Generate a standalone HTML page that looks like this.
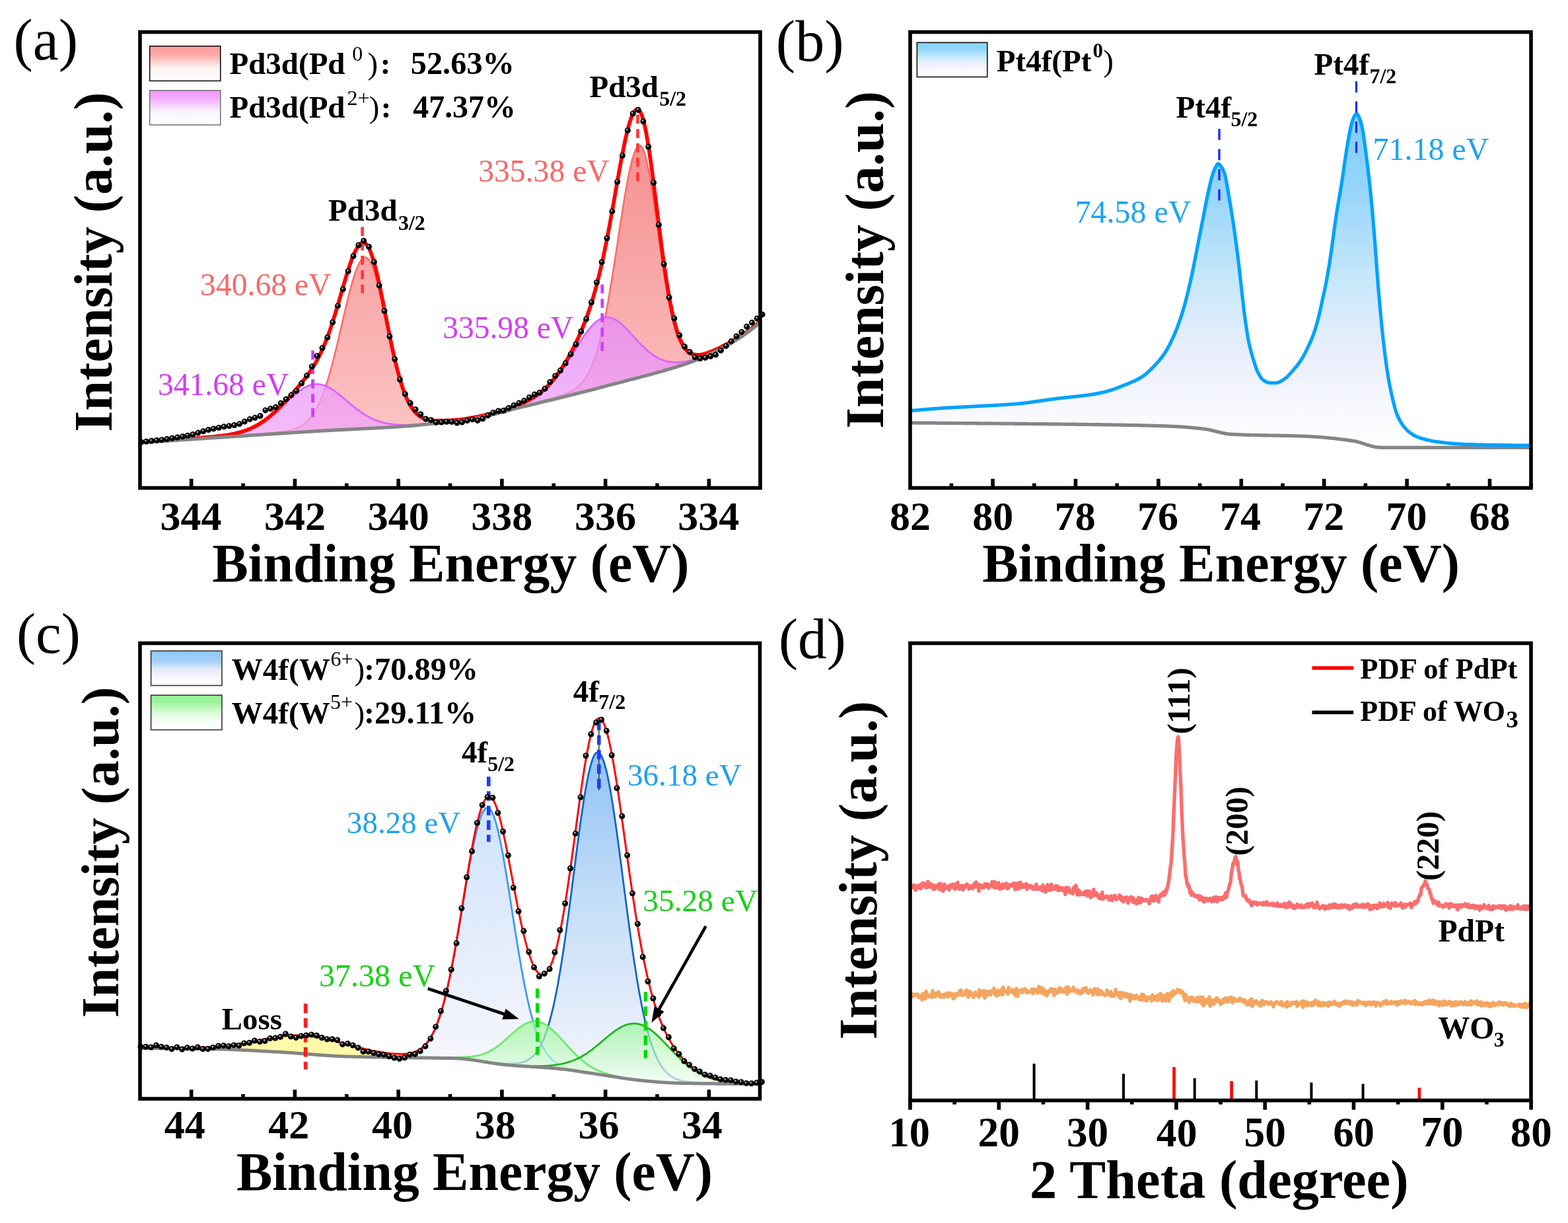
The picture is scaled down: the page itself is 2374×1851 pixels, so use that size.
<!DOCTYPE html>
<html><head><meta charset="utf-8"><title>XPS and XRD figure</title>
<style>html,body{margin:0;padding:0;background:#fff;}svg{display:block;}
text{font-family:"Liberation Serif","Times New Roman",serif;}</style></head>
<body><svg xmlns="http://www.w3.org/2000/svg" width="2374" height="1851" viewBox="0 0 2374 1851">
<defs>
<radialGradient id="dg" cx="0.5" cy="0.5" r="0.5" fx="0.36" fy="0.3"><stop offset="0" stop-color="#d8d8d8"/><stop offset="0.2" stop-color="#9a9a9a"/><stop offset="0.42" stop-color="#080808"/><stop offset="1" stop-color="#000"/></radialGradient>
<circle id="dot" cx="0" cy="0" r="4.5" fill="url(#dg)"/>
<linearGradient id="gPink" x1="0" y1="215" x2="0" y2="660" gradientUnits="userSpaceOnUse"><stop offset="0" stop-color="#f59090"/><stop offset="1" stop-color="#fcc4c4"/></linearGradient><linearGradient id="gPurp" x1="0" y1="470" x2="0" y2="660" gradientUnits="userSpaceOnUse"><stop offset="0" stop-color="#e58af5"/><stop offset="1" stop-color="#f0a8f8"/></linearGradient><linearGradient id="gLegPink" x1="0" y1="0" x2="0" y2="1"><stop offset="0" stop-color="#fb9a9a"/><stop offset="0.25" stop-color="#fda8a8"/><stop offset="0.62" stop-color="#fff3f3"/><stop offset="1" stop-color="#ffffff"/></linearGradient><linearGradient id="gLegPurp" x1="0" y1="0" x2="0" y2="1"><stop offset="0" stop-color="#f094fb"/><stop offset="0.25" stop-color="#f3aefc"/><stop offset="0.62" stop-color="#f8f5ff"/><stop offset="1" stop-color="#ffffff"/></linearGradient><linearGradient id="gBlueB" x1="0" y1="170" x2="0" y2="680" gradientUnits="userSpaceOnUse"><stop offset="0" stop-color="#7ccdf8"/><stop offset="0.25" stop-color="#99d6fa"/><stop offset="0.5" stop-color="#c8e8fb"/><stop offset="0.72" stop-color="#ebeefb"/><stop offset="0.86" stop-color="#f6f7fd"/><stop offset="1" stop-color="#ffffff"/></linearGradient><linearGradient id="gLegBlue" x1="0" y1="0" x2="0" y2="1"><stop offset="0" stop-color="#84d4fa"/><stop offset="0.22" stop-color="#95d8fa"/><stop offset="0.5" stop-color="#d6effb"/><stop offset="0.62" stop-color="#eceffb"/><stop offset="0.8" stop-color="#fafaff"/><stop offset="1" stop-color="#ffffff"/></linearGradient><linearGradient id="gB1" x1="0" y1="1220" x2="0" y2="1610" gradientUnits="userSpaceOnUse"><stop offset="0" stop-color="#cfe3fb"/><stop offset="1" stop-color="#f6f6fd"/></linearGradient><linearGradient id="gB2" x1="0" y1="1135" x2="0" y2="1630" gradientUnits="userSpaceOnUse"><stop offset="0" stop-color="#8ec2f5"/><stop offset="0.45" stop-color="#c3ddf8"/><stop offset="1" stop-color="#f4f5fd"/></linearGradient><linearGradient id="gG" x1="0" y1="1540" x2="0" y2="1640" gradientUnits="userSpaceOnUse"><stop offset="0" stop-color="#8ef58e"/><stop offset="1" stop-color="#f2fff2"/></linearGradient><linearGradient id="gLegW6" x1="0" y1="0" x2="0" y2="1"><stop offset="0" stop-color="#8ec6f8"/><stop offset="0.3" stop-color="#a6cff8"/><stop offset="0.5" stop-color="#dde9fb"/><stop offset="0.72" stop-color="#f6f4fd"/><stop offset="1" stop-color="#ffffff"/></linearGradient><linearGradient id="gLegW5" x1="0" y1="0" x2="0" y2="1"><stop offset="0" stop-color="#8ff58d"/><stop offset="0.22" stop-color="#a0f39e"/><stop offset="0.5" stop-color="#d8fcd6"/><stop offset="0.75" stop-color="#f6fff6"/><stop offset="1" stop-color="#ffffff"/></linearGradient>
</defs>
<rect width="2374" height="1851" fill="#fff"/>
<path d="M212,669.9L214,669.8L216,669.7L218,669.5L220,669.4L222,669.3L224,669.1L226,669.0L228,668.9L230,668.7L232,668.6L234,668.5L236,668.3L238,668.2L240,668.1L242,667.9L244,667.8L246,667.7L248,667.5L250,667.4L252,667.3L254,667.1L256,667.0L258,666.9L260,666.7L262,666.6L264,666.5L266,666.3L268,666.2L270,666.1L272,665.9L274,665.8L276,665.7L278,665.5L280,665.4L282,665.3L284,665.1L286,665.0L288,664.9L290,664.7L292,664.6L294,664.5L296,664.3L298,664.2L300,664.1L302,664.0L304,663.8L306,663.7L308,663.6L310,663.4L312,663.3L314,663.2L316,663.0L318,662.9L320,662.8L322,662.6L324,662.5L326,662.4L328,662.2L330,662.1L332,662.0L334,661.8L336,661.7L338,661.6L340,661.4L342,661.3L344,661.2L346,661.1L348,660.9L350,660.8L352,660.7L354,660.5L356,660.4L358,660.3L360,660.1L362,660.0L364,659.9L366,659.7L368,659.6L370,659.5L372,659.3L374,659.2L376,659.1L378,658.9L380,658.8L382,658.7L384,658.5L386,658.4L388,658.3L390,658.1L392,658.0L394,657.9L396,657.7L398,657.6L400,657.5L402,657.3L404,657.2L406,657.1L408,656.9L410,656.8L412,656.7L414,656.5L416,656.4L418,656.3L420,656.1L422,656.0L424,655.9L426,655.8L428,655.6L430,655.5L432,655.4L434,655.2L436,655.1L438,655.0L440,654.9L442,654.7L444,654.6L446,654.5L448,654.3L450,654.2L452,654.1L454,654.0L456,653.8L458,653.7L460,653.6L462,653.5L464,653.3L466,653.2L468,653.1L470,653.0L472,652.8L474,652.7L476,652.6L478,652.5L480,652.3L482,652.2L484,652.1L486,652.0L488,651.9L490,651.8L492,651.6L494,651.5L496,651.4L498,651.3L500,651.2L502,651.1L504,651.0L506,650.9L508,650.8L510,650.7L512,650.6L514,650.5L516,650.4L518,650.2L520,650.1L522,650.0L524,649.9L526,649.8L528,649.7L530,649.6L532,649.5L534,649.4L536,649.3L538,649.2L540,649.1L542,649.0L544,648.9L546,648.8L548,648.7L550,648.6L552,648.5L554,648.4L556,648.3L558,648.2L560,648.1L562,648.0L564,647.9L566,647.8L568,647.7L570,647.6L572,647.5L574,647.3L576,647.2L578,647.1L580,647.0L582,646.9L584,646.8L586,646.6L588,646.5L590,646.4L592,646.3L594,646.1L596,646.0L598,645.9L600,645.7L602,645.6L604,645.5L606,645.3L608,645.2L610,645.0L612,644.9L614,644.8L616,644.6L618,644.5L620,644.3L622,644.1L624,644.0L626,643.8L628,643.6L630,643.4L632,643.2L634,642.9L636,642.7L638,642.5L640,642.3L642,642.1L644,641.8L646,641.6L648,641.4L650,641.2L652,641.0L654,640.8L656,640.6L658,640.4L660,640.2L662,640.1L664,639.9L666,639.8L668,639.6L670,639.5L672,639.3L674,639.2L676,639.0L678,638.9L680,638.7L682,638.5L684,638.3L686,638.1L688,637.9L690,637.7L692,637.5L694,637.2L696,637.0L698,636.7L700,636.4L702,636.1L704,635.8L706,635.5L708,635.1L710,634.8L712,634.4L714,634.0L716,633.7L718,633.3L720,632.9L722,632.5L724,632.1L726,631.7L728,631.2L730,630.8L732,630.3L734,629.9L736,629.4L738,628.9L740,628.4L742,627.9L744,627.3L746,626.8L748,626.3L750,625.8L752,625.2L754,624.7L756,624.1L758,623.6L760,623.0L762,622.5L764,621.9L766,621.4L768,620.8L770,620.3L772,619.7L774,619.2L776,618.6L778,618.1L780,617.6L782,617.1L784,616.6L786,616.0L788,615.5L790,615.0L792,614.5L794,614.0L796,613.4L798,612.9L800,612.4L802,611.9L804,611.4L806,610.8L808,610.3L810,609.8L812,609.3L814,608.8L816,608.2L818,607.7L820,607.2L822,606.6L824,606.1L826,605.6L828,605.0L830,604.5L832,603.9L834,603.4L836,602.8L838,602.2L840,601.6L842,601.0L844,600.4L846,599.8L848,599.1L850,598.5L852,597.8L854,597.0L856,596.3L858,595.4L860,594.6L862,593.6L864,592.6L866,591.5L868,590.4L870,589.1L872,587.7L874,586.1L876,584.4L878,582.5L880,580.5L882,578.2L884,575.6L886,572.8L888,569.7L890,566.3L892,562.5L894,558.3L896,553.8L898,548.8L900,543.3L902,537.4L904,531.0L906,524.0L908,516.5L910,508.5L912,499.9L914,490.7L916,481.0L918,470.7L920,460.0L922,448.7L924,437.0L926,424.9L928,412.5L930,399.7L932,386.7L934,373.6L936,360.4L938,347.2L940,334.1L942,321.3L944,308.8L946,296.7L948,285.1L950,274.1L952,264.0L954,254.6L956,246.2L958,238.9L960,232.6L962,227.6L964,223.8L966,221.3L968,220.0L970,220.4L972,222.6L974,226.5L976,232.2L978,239.4L980,248.1L982,258.1L984,269.3L986,281.4L988,294.4L990,308.0L992,322.0L994,336.3L996,350.8L998,365.1L1000,379.3L1002,393.2L1004,406.7L1006,419.7L1008,432.0L1010,443.7L1012,454.7L1014,464.9L1016,474.4L1018,483.1L1020,491.0L1022,498.1L1024,504.5L1026,510.2L1028,515.3L1030,519.7L1032,523.5L1034,526.8L1036,529.5L1038,531.9L1040,533.8L1042,535.3L1044,536.6L1046,537.5L1048,538.2L1050,538.7L1052,538.9L1054,539.1L1056,539.0L1058,538.9L1060,538.6L1062,538.2L1064,537.7L1066,537.1L1068,536.5L1070,535.8L1072,535.0L1074,534.2L1076,533.4L1078,532.5L1080,531.7L1082,530.7L1084,529.8L1086,528.9L1088,527.9L1090,526.9L1092,526.0L1094,525.0L1096,523.9L1098,522.9L1100,521.8L1102,520.8L1104,519.7L1106,518.5L1108,517.4L1110,516.3L1112,515.1L1114,513.9L1116,512.7L1118,511.4L1120,510.1L1122,508.8L1124,507.5L1126,506.2L1128,504.8L1130,503.4L1132,502.0L1134,500.5L1136,499.0L1138,497.5L1140,496.0L1142,494.5L1144,492.9L1146,491.3L1148,489.7L1150,488.1L1150,488.8L1148,490.5L1146,492.1L1144,493.7L1142,495.3L1140,496.9L1138,498.4L1136,499.9L1134,501.4L1132,502.9L1130,504.4L1128,505.8L1126,507.2L1124,508.6L1122,509.9L1120,511.2L1118,512.5L1116,513.8L1114,515.1L1112,516.3L1110,517.5L1108,518.7L1106,519.9L1104,521.0L1102,522.2L1100,523.3L1098,524.4L1096,525.5L1094,526.5L1092,527.6L1090,528.6L1088,529.7L1086,530.7L1084,531.7L1082,532.7L1080,533.7L1078,534.7L1076,535.7L1074,536.7L1072,537.6L1070,538.6L1068,539.5L1066,540.4L1064,541.2L1062,542.1L1060,542.9L1058,543.7L1056,544.4L1054,545.2L1052,545.9L1050,546.6L1048,547.4L1046,548.1L1044,548.8L1042,549.5L1040,550.1L1038,550.8L1036,551.5L1034,552.2L1032,552.8L1030,553.5L1028,554.1L1026,554.7L1024,555.4L1022,556.0L1020,556.6L1018,557.2L1016,557.8L1014,558.4L1012,559.0L1010,559.6L1008,560.2L1006,560.8L1004,561.4L1002,561.9L1000,562.5L998,563.1L996,563.6L994,564.2L992,564.7L990,565.3L988,565.8L986,566.4L984,566.9L982,567.5L980,568.0L978,568.5L976,569.1L974,569.6L972,570.1L970,570.6L968,571.2L966,571.7L964,572.2L962,572.7L960,573.2L958,573.8L956,574.3L954,574.8L952,575.3L950,575.8L948,576.3L946,576.8L944,577.4L942,577.9L940,578.4L938,578.9L936,579.4L934,579.9L932,580.5L930,581.0L928,581.5L926,582.0L924,582.5L922,583.1L920,583.6L918,584.1L916,584.7L914,585.2L912,585.7L910,586.3L908,586.8L906,587.3L904,587.8L902,588.4L900,588.9L898,589.4L896,589.9L894,590.4L892,590.9L890,591.5L888,592.0L886,592.5L884,593.0L882,593.5L880,594.0L878,594.5L876,595.0L874,595.5L872,596.0L870,596.5L868,597.0L866,597.5L864,598.0L862,598.5L860,599.0L858,599.5L856,600.0L854,600.5L852,601.0L850,601.4L848,601.9L846,602.4L844,602.9L842,603.4L840,603.9L838,604.4L836,604.9L834,605.4L832,605.8L830,606.3L828,606.8L826,607.3L824,607.8L822,608.3L820,608.8L818,609.3L816,609.8L814,610.2L812,610.7L810,611.2L808,611.7L806,612.2L804,612.7L802,613.2L800,613.7L798,614.2L796,614.6L794,615.1L792,615.6L790,616.1L788,616.6L786,617.1L784,617.6L782,618.1L780,618.6L778,619.1L776,619.6L774,620.1L772,620.6L770,621.2L768,621.7L766,622.2L764,622.8L762,623.3L760,623.8L758,624.4L756,624.9L754,625.5L752,626.0L750,626.5L748,627.0L746,627.6L744,628.1L742,628.6L740,629.1L738,629.6L736,630.1L734,630.5L732,631.0L730,631.4L728,631.9L726,632.3L724,632.7L722,633.1L720,633.5L718,633.9L716,634.2L714,634.6L712,635.0L710,635.3L708,635.7L706,636.0L704,636.3L702,636.6L700,636.9L698,637.2L696,637.5L694,637.7L692,638.0L690,638.2L688,638.4L686,638.6L684,638.8L682,639.0L680,639.1L678,639.3L676,639.4L674,639.6L672,639.7L670,639.9L668,640.0L666,640.2L664,640.3L662,640.5L660,640.6L658,640.8L656,641.0L654,641.2L652,641.3L650,641.6L648,641.8L646,642.0L644,642.2L642,642.4L640,642.6L638,642.8L636,643.1L634,643.3L632,643.5L630,643.7L628,643.9L626,644.1L624,644.3L622,644.4L620,644.6L618,644.8L616,644.9L614,645.0L612,645.2L610,645.3L608,645.5L606,645.6L604,645.8L602,645.9L600,646.0L598,646.1L596,646.3L594,646.4L592,646.5L590,646.6L588,646.8L586,646.9L584,647.0L582,647.1L580,647.2L578,647.4L576,647.5L574,647.6L572,647.7L570,647.8L568,647.9L566,648.0L564,648.1L562,648.2L560,648.3L558,648.4L556,648.5L554,648.6L552,648.7L550,648.8L548,648.9L546,649.0L544,649.1L542,649.2L540,649.3L538,649.4L536,649.5L534,649.6L532,649.7L530,649.8L528,649.9L526,650.0L524,650.1L522,650.2L520,650.3L518,650.4L516,650.5L514,650.6L512,650.7L510,650.8L508,650.9L506,651.0L504,651.2L502,651.3L500,651.4L498,651.5L496,651.6L494,651.7L492,651.8L490,651.9L488,652.0L486,652.1L484,652.3L482,652.4L480,652.5L478,652.6L476,652.7L474,652.9L472,653.0L470,653.1L468,653.2L466,653.4L464,653.5L462,653.6L460,653.7L458,653.8L456,654.0L454,654.1L452,654.2L450,654.4L448,654.5L446,654.6L444,654.7L442,654.9L440,655.0L438,655.1L436,655.2L434,655.4L432,655.5L430,655.6L428,655.8L426,655.9L424,656.0L422,656.1L420,656.3L418,656.4L416,656.5L414,656.7L412,656.8L410,656.9L408,657.1L406,657.2L404,657.3L402,657.4L400,657.6L398,657.7L396,657.8L394,658.0L392,658.1L390,658.2L388,658.4L386,658.5L384,658.6L382,658.8L380,658.9L378,659.0L376,659.2L374,659.3L372,659.4L370,659.6L368,659.7L366,659.8L364,660.0L362,660.1L360,660.2L358,660.4L356,660.5L354,660.6L352,660.8L350,660.9L348,661.0L346,661.1L344,661.3L342,661.4L340,661.5L338,661.7L336,661.8L334,661.9L332,662.1L330,662.2L328,662.3L326,662.5L324,662.6L322,662.7L320,662.9L318,663.0L316,663.1L314,663.2L312,663.4L310,663.5L308,663.6L306,663.8L304,663.9L302,664.0L300,664.2L298,664.3L296,664.4L294,664.6L292,664.7L290,664.8L288,665.0L286,665.1L284,665.2L282,665.4L280,665.5L278,665.6L276,665.7L274,665.9L272,666.0L270,666.1L268,666.3L266,666.4L264,666.5L262,666.7L260,666.8L258,666.9L256,667.1L254,667.2L252,667.3L250,667.5L248,667.6L246,667.7L244,667.9L242,668.0L240,668.1L238,668.3L236,668.4L234,668.5L232,668.7L230,668.8L228,668.9L226,669.1L224,669.2L222,669.3L220,669.5L218,669.6L216,669.7L214,669.9L212,670.0 Z" fill="url(#gPink)" stroke="none" />
<path d="M212,669.7L214,669.6L216,669.4L218,669.3L220,669.2L222,669.0L224,668.9L226,668.8L228,668.6L230,668.5L232,668.4L234,668.2L236,668.1L238,667.9L240,667.8L242,667.7L244,667.5L246,667.4L248,667.3L250,667.1L252,667.0L254,666.8L256,666.7L258,666.6L260,666.4L262,666.3L264,666.2L266,666.0L268,665.9L270,665.7L272,665.6L274,665.5L276,665.3L278,665.2L280,665.1L282,664.9L284,664.8L286,664.6L288,664.5L290,664.4L292,664.2L294,664.1L296,663.9L298,663.8L300,663.7L302,663.5L304,663.4L306,663.3L308,663.1L310,663.0L312,662.8L314,662.7L316,662.6L318,662.4L320,662.3L322,662.1L324,662.0L326,661.8L328,661.7L330,661.6L332,661.4L334,661.3L336,661.1L338,661.0L340,660.8L342,660.7L344,660.6L346,660.4L348,660.3L350,660.1L352,660.0L354,659.8L356,659.7L358,659.5L360,659.4L362,659.2L364,659.1L366,658.9L368,658.8L370,658.6L372,658.5L374,658.3L376,658.2L378,658.0L380,657.9L382,657.7L384,657.6L386,657.4L388,657.2L390,657.1L392,656.9L394,656.7L396,656.6L398,656.4L400,656.2L402,656.1L404,655.9L406,655.7L408,655.5L410,655.4L412,655.2L414,655.0L416,654.8L418,654.5L420,654.3L422,654.1L424,653.8L426,653.6L428,653.3L430,653.0L432,652.6L434,652.3L436,651.9L438,651.4L440,650.9L442,650.4L444,649.8L446,649.1L448,648.4L450,647.6L452,646.7L454,645.6L456,644.5L458,643.2L460,641.8L462,640.3L464,638.5L466,636.6L468,634.5L470,632.2L472,629.6L474,626.8L476,623.7L478,620.3L480,616.7L482,612.7L484,608.5L486,603.9L488,598.9L490,593.7L492,588.0L494,582.1L496,575.8L498,569.2L500,562.2L502,555.0L504,547.5L506,539.7L508,531.6L510,523.4L512,515.0L514,506.4L516,497.8L518,489.1L520,480.4L522,471.8L524,463.3L526,455.0L528,447.0L530,439.2L532,431.8L534,424.8L536,418.3L538,412.4L540,407.0L542,402.3L544,398.2L546,394.9L548,392.4L550,390.6L552,389.7L554,389.6L556,390.5L558,392.5L560,395.4L562,399.3L564,404.1L566,409.8L568,416.2L570,423.3L572,431.1L574,439.3L576,448.0L578,457.1L580,466.4L582,475.9L584,485.4L586,495.0L588,504.6L590,513.9L592,523.2L594,532.1L596,540.8L598,549.1L600,557.1L602,564.6L604,571.8L606,578.5L608,584.8L610,590.6L612,596.0L614,601.0L616,605.6L618,609.7L620,613.4L622,616.8L624,619.8L626,622.5L628,624.9L630,627.0L632,628.8L634,630.3L636,631.7L638,632.9L640,633.8L642,634.7L644,635.4L646,635.9L648,636.4L650,636.8L652,637.1L654,637.3L656,637.5L658,637.6L660,637.8L662,637.8L664,637.9L666,637.9L668,637.9L670,637.9L672,637.9L674,637.8L676,637.7L678,637.7L680,637.6L682,637.5L684,637.4L686,637.2L688,637.1L690,636.9L692,636.7L694,636.5L696,636.3L698,636.1L700,635.8L702,635.5L704,635.2L706,634.9L708,634.6L710,634.3L712,634.0L714,633.7L716,633.3L718,633.0L720,632.6L722,632.3L724,631.9L726,631.5L728,631.1L730,630.7L732,630.2L734,629.8L736,629.3L738,628.8L740,628.4L742,627.9L744,627.4L746,626.9L748,626.4L750,625.9L752,625.4L754,624.8L756,624.3L758,623.8L760,623.3L762,622.7L764,622.2L766,621.7L768,621.2L770,620.6L772,620.1L774,619.6L776,619.1L778,618.6L780,618.1L782,617.6L784,617.1L786,616.6L788,616.2L790,615.7L792,615.2L794,614.7L796,614.2L798,613.7L800,613.3L802,612.8L804,612.3L806,611.8L808,611.3L810,610.8L812,610.4L814,609.9L816,609.4L818,608.9L820,608.4L822,607.9L824,607.5L826,607.0L828,606.5L830,606.0L832,605.5L834,605.0L836,604.6L838,604.1L840,603.6L842,603.1L844,602.6L846,602.1L848,601.6L850,601.2L852,600.7L854,600.2L856,599.7L858,599.2L860,598.7L862,598.2L864,597.7L866,597.2L868,596.7L870,596.2L872,595.8L874,595.3L876,594.8L878,594.3L880,593.8L882,593.3L884,592.7L886,592.2L888,591.7L890,591.2L892,590.7L894,590.2L896,589.7L898,589.2L900,588.7L902,588.2L904,587.6L906,587.1L908,586.6L910,586.1L912,585.5L914,585.0L916,584.5L918,583.9L920,583.4L922,582.9L924,582.4L926,581.8L928,581.3L930,580.8L932,580.3L934,579.8L936,579.2L938,578.7L940,578.2L942,577.7L944,577.2L946,576.7L948,576.2L950,575.6L952,575.1L954,574.6L956,574.1L958,573.6L960,573.1L962,572.6L964,572.1L966,571.5L968,571.0L970,570.5L972,570.0L974,569.4L976,568.9L978,568.4L980,567.9L982,567.3L984,566.8L986,566.3L988,565.7L990,565.2L992,564.6L994,564.1L996,563.5L998,562.9L1000,562.4L1002,561.8L1004,561.2L1006,560.7L1008,560.1L1010,559.5L1012,558.9L1014,558.3L1016,557.7L1018,557.1L1020,556.5L1022,555.9L1024,555.3L1026,554.6L1028,554.0L1030,553.3L1032,552.7L1034,552.0L1036,551.4L1038,550.7L1040,550.0L1042,549.3L1044,548.7L1046,548.0L1048,547.2L1050,546.5L1052,545.8L1054,545.1L1056,544.3L1058,543.6L1060,542.8L1062,542.0L1064,541.1L1066,540.3L1068,539.4L1070,538.5L1072,537.5L1074,536.6L1076,535.6L1078,534.6L1080,533.6L1082,532.6L1084,531.6L1086,530.6L1088,529.6L1090,528.6L1092,527.5L1094,526.5L1096,525.4L1098,524.3L1100,523.2L1102,522.1L1104,520.9L1106,519.8L1108,518.6L1110,517.4L1112,516.2L1114,515.0L1116,513.7L1118,512.5L1120,511.2L1122,509.8L1124,508.5L1126,507.1L1128,505.7L1130,504.3L1132,502.8L1134,501.4L1136,499.9L1138,498.3L1140,496.8L1142,495.2L1144,493.7L1146,492.0L1148,490.4L1150,488.8L1150,488.8L1148,490.5L1146,492.1L1144,493.7L1142,495.3L1140,496.9L1138,498.4L1136,499.9L1134,501.4L1132,502.9L1130,504.4L1128,505.8L1126,507.2L1124,508.6L1122,509.9L1120,511.2L1118,512.5L1116,513.8L1114,515.1L1112,516.3L1110,517.5L1108,518.7L1106,519.9L1104,521.0L1102,522.2L1100,523.3L1098,524.4L1096,525.5L1094,526.5L1092,527.6L1090,528.6L1088,529.7L1086,530.7L1084,531.7L1082,532.7L1080,533.7L1078,534.7L1076,535.7L1074,536.7L1072,537.6L1070,538.6L1068,539.5L1066,540.4L1064,541.2L1062,542.1L1060,542.9L1058,543.7L1056,544.4L1054,545.2L1052,545.9L1050,546.6L1048,547.4L1046,548.1L1044,548.8L1042,549.5L1040,550.1L1038,550.8L1036,551.5L1034,552.2L1032,552.8L1030,553.5L1028,554.1L1026,554.7L1024,555.4L1022,556.0L1020,556.6L1018,557.2L1016,557.8L1014,558.4L1012,559.0L1010,559.6L1008,560.2L1006,560.8L1004,561.4L1002,561.9L1000,562.5L998,563.1L996,563.6L994,564.2L992,564.7L990,565.3L988,565.8L986,566.4L984,566.9L982,567.5L980,568.0L978,568.5L976,569.1L974,569.6L972,570.1L970,570.6L968,571.2L966,571.7L964,572.2L962,572.7L960,573.2L958,573.8L956,574.3L954,574.8L952,575.3L950,575.8L948,576.3L946,576.8L944,577.4L942,577.9L940,578.4L938,578.9L936,579.4L934,579.9L932,580.5L930,581.0L928,581.5L926,582.0L924,582.5L922,583.1L920,583.6L918,584.1L916,584.7L914,585.2L912,585.7L910,586.3L908,586.8L906,587.3L904,587.8L902,588.4L900,588.9L898,589.4L896,589.9L894,590.4L892,590.9L890,591.5L888,592.0L886,592.5L884,593.0L882,593.5L880,594.0L878,594.5L876,595.0L874,595.5L872,596.0L870,596.5L868,597.0L866,597.5L864,598.0L862,598.5L860,599.0L858,599.5L856,600.0L854,600.5L852,601.0L850,601.4L848,601.9L846,602.4L844,602.9L842,603.4L840,603.9L838,604.4L836,604.9L834,605.4L832,605.8L830,606.3L828,606.8L826,607.3L824,607.8L822,608.3L820,608.8L818,609.3L816,609.8L814,610.2L812,610.7L810,611.2L808,611.7L806,612.2L804,612.7L802,613.2L800,613.7L798,614.2L796,614.6L794,615.1L792,615.6L790,616.1L788,616.6L786,617.1L784,617.6L782,618.1L780,618.6L778,619.1L776,619.6L774,620.1L772,620.6L770,621.2L768,621.7L766,622.2L764,622.8L762,623.3L760,623.8L758,624.4L756,624.9L754,625.5L752,626.0L750,626.5L748,627.0L746,627.6L744,628.1L742,628.6L740,629.1L738,629.6L736,630.1L734,630.5L732,631.0L730,631.4L728,631.9L726,632.3L724,632.7L722,633.1L720,633.5L718,633.9L716,634.2L714,634.6L712,635.0L710,635.3L708,635.7L706,636.0L704,636.3L702,636.6L700,636.9L698,637.2L696,637.5L694,637.7L692,638.0L690,638.2L688,638.4L686,638.6L684,638.8L682,639.0L680,639.1L678,639.3L676,639.4L674,639.6L672,639.7L670,639.9L668,640.0L666,640.2L664,640.3L662,640.5L660,640.6L658,640.8L656,641.0L654,641.2L652,641.3L650,641.6L648,641.8L646,642.0L644,642.2L642,642.4L640,642.6L638,642.8L636,643.1L634,643.3L632,643.5L630,643.7L628,643.9L626,644.1L624,644.3L622,644.4L620,644.6L618,644.8L616,644.9L614,645.0L612,645.2L610,645.3L608,645.5L606,645.6L604,645.8L602,645.9L600,646.0L598,646.1L596,646.3L594,646.4L592,646.5L590,646.6L588,646.8L586,646.9L584,647.0L582,647.1L580,647.2L578,647.4L576,647.5L574,647.6L572,647.7L570,647.8L568,647.9L566,648.0L564,648.1L562,648.2L560,648.3L558,648.4L556,648.5L554,648.6L552,648.7L550,648.8L548,648.9L546,649.0L544,649.1L542,649.2L540,649.3L538,649.4L536,649.5L534,649.6L532,649.7L530,649.8L528,649.9L526,650.0L524,650.1L522,650.2L520,650.3L518,650.4L516,650.5L514,650.6L512,650.7L510,650.8L508,650.9L506,651.0L504,651.2L502,651.3L500,651.4L498,651.5L496,651.6L494,651.7L492,651.8L490,651.9L488,652.0L486,652.1L484,652.3L482,652.4L480,652.5L478,652.6L476,652.7L474,652.9L472,653.0L470,653.1L468,653.2L466,653.4L464,653.5L462,653.6L460,653.7L458,653.8L456,654.0L454,654.1L452,654.2L450,654.4L448,654.5L446,654.6L444,654.7L442,654.9L440,655.0L438,655.1L436,655.2L434,655.4L432,655.5L430,655.6L428,655.8L426,655.9L424,656.0L422,656.1L420,656.3L418,656.4L416,656.5L414,656.7L412,656.8L410,656.9L408,657.1L406,657.2L404,657.3L402,657.4L400,657.6L398,657.7L396,657.8L394,658.0L392,658.1L390,658.2L388,658.4L386,658.5L384,658.6L382,658.8L380,658.9L378,659.0L376,659.2L374,659.3L372,659.4L370,659.6L368,659.7L366,659.8L364,660.0L362,660.1L360,660.2L358,660.4L356,660.5L354,660.6L352,660.8L350,660.9L348,661.0L346,661.1L344,661.3L342,661.4L340,661.5L338,661.7L336,661.8L334,661.9L332,662.1L330,662.2L328,662.3L326,662.5L324,662.6L322,662.7L320,662.9L318,663.0L316,663.1L314,663.2L312,663.4L310,663.5L308,663.6L306,663.8L304,663.9L302,664.0L300,664.2L298,664.3L296,664.4L294,664.6L292,664.7L290,664.8L288,665.0L286,665.1L284,665.2L282,665.4L280,665.5L278,665.6L276,665.7L274,665.9L272,666.0L270,666.1L268,666.3L266,666.4L264,666.5L262,666.7L260,666.8L258,666.9L256,667.1L254,667.2L252,667.3L250,667.5L248,667.6L246,667.7L244,667.9L242,668.0L240,668.1L238,668.3L236,668.4L234,668.5L232,668.7L230,668.8L228,668.9L226,669.1L224,669.2L222,669.3L220,669.5L218,669.6L216,669.7L214,669.9L212,670.0 Z" fill="url(#gPink)" stroke="none" />
<path d="M618,644.5L620,644.3L622,644.1L624,644.0L626,643.8L628,643.6L630,643.4L632,643.2L634,642.9L636,642.7L638,642.5L640,642.3L642,642.1L644,641.8L646,641.6L648,641.4L650,641.2L652,641.0L654,640.8L656,640.6L658,640.4L660,640.2L662,640.1L664,639.9L666,639.8L668,639.6L670,639.5L672,639.3L674,639.2L676,639.0L678,638.9L680,638.7L682,638.5L684,638.3L686,638.1L688,637.9L690,637.7L692,637.5L694,637.2L696,637.0L698,636.7L700,636.4L702,636.1L704,635.8L706,635.5L708,635.1L710,634.8L712,634.4L714,634.0L716,633.7L718,633.3L720,632.9L722,632.5L724,632.1L726,631.7L728,631.2L730,630.8L732,630.3L734,629.9L736,629.4L738,628.9L740,628.4L742,627.9L744,627.3L746,626.8L748,626.3L750,625.8L752,625.2L754,624.7L756,624.1L758,623.6L760,623.0L762,622.5L764,621.9L766,621.4L768,620.8L770,620.3L772,619.7L774,619.2L776,618.6L778,618.1L780,617.6L782,617.1L784,616.6L786,616.0L788,615.5L790,615.0L792,614.5L794,614.0L796,613.4L798,612.9L800,612.4L802,611.9L804,611.4L806,610.8L808,610.3L810,609.8L812,609.3L814,608.8L816,608.2L818,607.7L820,607.2L822,606.6L824,606.1L826,605.6L828,605.0L830,604.5L832,603.9L834,603.4L836,602.8L838,602.2L840,601.6L842,601.0L844,600.4L846,599.8L848,599.1L850,598.5L852,597.8L854,597.0L856,596.3L858,595.4L860,594.6L862,593.6L864,592.6L866,591.5L868,590.4L870,589.1L872,587.7L874,586.1L876,584.4L878,582.5L880,580.5L882,578.2L884,575.6L886,572.8L888,569.7L890,566.3L892,562.5L894,558.3L896,553.8L898,548.8L900,543.3L902,537.4L904,531.0L906,524.0L908,516.5L910,508.5L912,499.9L914,490.7L916,481.0L918,470.7L920,460.0L922,448.7L924,437.0L926,424.9L928,412.5L930,399.7L932,386.7L934,373.6L936,360.4L938,347.2L940,334.1L942,321.3L944,308.8L946,296.7L948,285.1L950,274.1L952,264.0L954,254.6L956,246.2L958,238.9L960,232.6L962,227.6L964,223.8L966,221.3L968,220.0L970,220.4L972,222.6L974,226.5L976,232.2L978,239.4L980,248.1L982,258.1L984,269.3L986,281.4L988,294.4L990,308.0L992,322.0L994,336.3L996,350.8L998,365.1L1000,379.3L1002,393.2L1004,406.7L1006,419.7L1008,432.0L1010,443.7L1012,454.7L1014,464.9L1016,474.4L1018,483.1L1020,491.0L1022,498.1L1024,504.5L1026,510.2L1028,515.3L1030,519.7L1032,523.5L1034,526.8L1036,529.5L1038,531.9L1040,533.8L1042,535.3L1044,536.6L1046,537.5L1048,538.2L1050,538.7L1052,538.9L1054,539.1L1056,539.0L1058,538.9L1060,538.6L1062,538.2L1064,537.7L1066,537.1L1068,536.5L1070,535.8L1072,535.0L1074,534.2L1076,533.4L1078,532.5L1080,531.7L1082,530.7L1084,529.8L1086,528.9L1088,527.9L1090,526.9L1092,526.0L1094,525.0L1096,523.9L1098,522.9L1100,521.8L1102,520.8L1104,519.7L1106,518.5L1108,517.4L1110,516.3L1112,515.1L1114,513.9L1116,512.7L1118,511.4L1120,510.1L1122,508.8L1124,507.5L1126,506.2L1128,504.8L1130,503.4L1132,502.0L1134,500.5L1136,499.0L1138,497.5L1140,496.0L1142,494.5L1144,492.9L1146,491.3L1148,489.7L1150,488.1" fill="none" stroke="#ff6c6c" stroke-width="2.6" stroke-linejoin="round" stroke-linecap="butt" />
<path d="M226,668.8L228,668.6L230,668.5L232,668.4L234,668.2L236,668.1L238,667.9L240,667.8L242,667.7L244,667.5L246,667.4L248,667.3L250,667.1L252,667.0L254,666.8L256,666.7L258,666.6L260,666.4L262,666.3L264,666.2L266,666.0L268,665.9L270,665.7L272,665.6L274,665.5L276,665.3L278,665.2L280,665.1L282,664.9L284,664.8L286,664.6L288,664.5L290,664.4L292,664.2L294,664.1L296,663.9L298,663.8L300,663.7L302,663.5L304,663.4L306,663.3L308,663.1L310,663.0L312,662.8L314,662.7L316,662.6L318,662.4L320,662.3L322,662.1L324,662.0L326,661.8L328,661.7L330,661.6L332,661.4L334,661.3L336,661.1L338,661.0L340,660.8L342,660.7L344,660.6L346,660.4L348,660.3L350,660.1L352,660.0L354,659.8L356,659.7L358,659.5L360,659.4L362,659.2L364,659.1L366,658.9L368,658.8L370,658.6L372,658.5L374,658.3L376,658.2L378,658.0L380,657.9L382,657.7L384,657.6L386,657.4L388,657.2L390,657.1L392,656.9L394,656.7L396,656.6L398,656.4L400,656.2L402,656.1L404,655.9L406,655.7L408,655.5L410,655.4L412,655.2L414,655.0L416,654.8L418,654.5L420,654.3L422,654.1L424,653.8L426,653.6L428,653.3L430,653.0L432,652.6L434,652.3L436,651.9L438,651.4L440,650.9L442,650.4L444,649.8L446,649.1L448,648.4L450,647.6L452,646.7L454,645.6L456,644.5L458,643.2L460,641.8L462,640.3L464,638.5L466,636.6L468,634.5L470,632.2L472,629.6L474,626.8L476,623.7L478,620.3L480,616.7L482,612.7L484,608.5L486,603.9L488,598.9L490,593.7L492,588.0L494,582.1L496,575.8L498,569.2L500,562.2L502,555.0L504,547.5L506,539.7L508,531.6L510,523.4L512,515.0L514,506.4L516,497.8L518,489.1L520,480.4L522,471.8L524,463.3L526,455.0L528,447.0L530,439.2L532,431.8L534,424.8L536,418.3L538,412.4L540,407.0L542,402.3L544,398.2L546,394.9L548,392.4L550,390.6L552,389.7L554,389.6L556,390.5L558,392.5L560,395.4L562,399.3L564,404.1L566,409.8L568,416.2L570,423.3L572,431.1L574,439.3L576,448.0L578,457.1L580,466.4L582,475.9L584,485.4L586,495.0L588,504.6L590,513.9L592,523.2L594,532.1L596,540.8L598,549.1L600,557.1L602,564.6L604,571.8L606,578.5L608,584.8L610,590.6L612,596.0L614,601.0L616,605.6L618,609.7L620,613.4L622,616.8L624,619.8L626,622.5L628,624.9L630,627.0L632,628.8L634,630.3L636,631.7L638,632.9L640,633.8L642,634.7L644,635.4L646,635.9L648,636.4L650,636.8L652,637.1L654,637.3L656,637.5L658,637.6L660,637.8L662,637.8L664,637.9L666,637.9L668,637.9L670,637.9L672,637.9L674,637.8L676,637.7L678,637.7L680,637.6L682,637.5L684,637.4L686,637.2L688,637.1L690,636.9L692,636.7L694,636.5L696,636.3L698,636.1L700,635.8L702,635.5L704,635.2L706,634.9L708,634.6L710,634.3L712,634.0L714,633.7L716,633.3L718,633.0L720,632.6L722,632.3L724,631.9L726,631.5L728,631.1L730,630.7L732,630.2L734,629.8L736,629.3L738,628.8L740,628.4L742,627.9L744,627.4L746,626.9L748,626.4L750,625.9L752,625.4L754,624.8L756,624.3L758,623.8L760,623.3L762,622.7L764,622.2L766,621.7L768,621.2L770,620.6L772,620.1L774,619.6L776,619.1L778,618.6L780,618.1L782,617.6L784,617.1L786,616.6L788,616.2L790,615.7L792,615.2L794,614.7L796,614.2L798,613.7L800,613.3L802,612.8L804,612.3L806,611.8L808,611.3L810,610.8L812,610.4L814,609.9L816,609.4L818,608.9L820,608.4L822,607.9L824,607.5L826,607.0L828,606.5L830,606.0L832,605.5L834,605.0L836,604.6L838,604.1L840,603.6L842,603.1" fill="none" stroke="#ff6c6c" stroke-width="2.6" stroke-linejoin="round" stroke-linecap="butt" />
<path d="M212,670.0L214,669.8L216,669.7L218,669.6L220,669.4L222,669.3L224,669.2L226,669.0L228,668.9L230,668.8L232,668.6L234,668.5L236,668.4L238,668.2L240,668.1L242,668.0L244,667.8L246,667.7L248,667.6L250,667.4L252,667.3L254,667.2L256,667.0L258,666.9L260,666.8L262,666.6L264,666.5L266,666.4L268,666.2L270,666.1L272,666.0L274,665.8L276,665.7L278,665.6L280,665.4L282,665.3L284,665.2L286,665.0L288,664.9L290,664.8L292,664.6L294,664.5L296,664.4L298,664.2L300,664.1L302,664.0L304,663.8L306,663.7L308,663.6L310,663.5L312,663.3L314,663.2L316,663.1L318,662.9L320,662.8L322,662.7L324,662.5L326,662.4L328,662.3L330,662.1L332,662.0L334,661.9L336,661.7L338,661.6L340,661.5L342,661.3L344,661.2L346,661.1L348,661.0L350,660.8L352,660.7L354,660.6L356,660.4L358,660.3L360,660.2L362,660.0L364,659.9L366,659.8L368,659.6L370,659.5L372,659.4L374,659.2L376,659.1L378,659.0L380,658.8L382,658.7L384,658.6L386,658.4L388,658.3L390,658.2L392,658.0L394,657.9L396,657.8L398,657.6L400,657.5L402,657.4L404,657.2L406,657.1L408,657.0L410,656.8L412,656.7L414,656.6L416,656.4L418,656.3L420,656.2L422,656.1L424,655.9L426,655.8L428,655.7L430,655.5L432,655.4L434,655.3L436,655.1L438,655.0L440,654.9L442,654.8L444,654.6L446,654.5L448,654.4L450,654.3L452,654.1L454,654.0L456,653.9L458,653.7L460,653.6L462,653.5L464,653.4L466,653.2L468,653.1L470,653.0L472,652.9L474,652.8L476,652.6L478,652.5L480,652.4L482,652.3L484,652.1L486,652.0L488,651.9L490,651.8L492,651.7L494,651.6L496,651.5L498,651.4L500,651.2L502,651.1L504,651.0L506,650.9L508,650.8L510,650.7L512,650.6L514,650.5L516,650.4L518,650.3L520,650.2L522,650.1L524,650.0L526,649.9L528,649.8L530,649.7L532,649.6L534,649.5L536,649.4L538,649.3L540,649.2L542,649.1L544,649.0L546,648.9L548,648.8L550,648.7L552,648.6L554,648.5L556,648.4L558,648.3L560,648.2L562,648.1L564,647.9L566,647.8L568,647.7L570,647.6L572,647.5L574,647.4L576,647.3L578,647.2L580,647.1L582,646.9L584,646.8L586,646.7L588,646.6L590,646.4L592,646.3L594,646.2L596,646.1L598,645.9L600,645.8L602,645.7L604,645.5L606,645.4L608,645.3L610,645.1L612,645.0L614,644.8L616,644.7L618,644.5L620,644.4L622,644.2L624,644.0L626,643.8L628,643.6L630,643.4L632,643.2L634,643.0L636,642.8L638,642.6L640,642.3L642,642.1L644,641.9L646,641.7L648,641.5L650,641.3L652,641.0L654,640.9L656,640.7L658,640.5L660,640.3L662,640.2L664,640.0L666,639.8L668,639.7L670,639.5L672,639.4L674,639.2L676,639.1L678,638.9L680,638.8L682,638.6L684,638.4L686,638.2L688,638.0L690,637.8L692,637.6L694,637.3L696,637.0L698,636.8L700,636.5L702,636.2L704,635.8L706,635.5L708,635.2L710,634.8L712,634.5L714,634.1L716,633.7L718,633.3L720,633.0L722,632.6L724,632.1L726,631.7L728,631.3L730,630.8L732,630.4L734,629.9L736,629.4L738,628.9L740,628.4L742,627.8L744,627.3L746,626.7L748,626.2L750,625.6L752,625.0L754,624.5L756,623.9L758,623.3L760,622.7L762,622.1L764,621.4L766,620.8L768,620.2L770,619.5L772,618.9L774,618.2L776,617.5L778,616.9L780,616.2L782,615.4L784,614.7L786,614.0L788,613.2L790,612.4L792,611.5L794,610.6L796,609.7L798,608.8L800,607.8L802,606.7L804,605.6L806,604.5L808,603.3L810,602.1L812,600.7L814,599.4L816,597.9L818,596.4L820,594.8L822,593.2L824,591.4L826,589.6L828,587.7L830,585.8L832,583.7L834,581.6L836,579.3L838,577.0L840,574.6L842,572.1L844,569.6L846,566.9L848,564.2L850,561.4L852,558.5L854,555.6L856,552.6L858,549.6L860,546.5L862,543.3L864,540.2L866,537.0L868,533.8L870,530.6L872,527.4L874,524.2L876,521.0L878,517.9L880,514.8L882,511.8L884,508.9L886,506.0L888,503.2L890,500.6L892,498.1L894,495.7L896,493.4L898,491.3L900,489.4L902,487.6L904,486.0L906,484.6L908,483.4L910,482.3L912,481.5L914,480.9L916,480.4L918,480.2L920,480.2L922,480.4L924,480.7L926,481.3L928,482.0L930,482.9L932,484.0L934,485.2L936,486.6L938,488.1L940,489.8L942,491.5L944,493.3L946,495.3L948,497.2L950,499.3L952,501.4L954,503.6L956,505.7L958,507.9L960,510.1L962,512.3L964,514.5L966,516.6L968,518.7L970,520.8L972,522.9L974,524.8L976,526.7L978,528.6L980,530.3L982,532.0L984,533.7L986,535.2L988,536.6L990,538.0L992,539.3L994,540.5L996,541.6L998,542.6L1000,543.5L1002,544.3L1004,545.1L1006,545.7L1008,546.3L1010,546.8L1012,547.3L1014,547.6L1016,547.9L1018,548.1L1020,548.2L1022,548.3L1024,548.4L1026,548.3L1028,548.2L1030,548.1L1032,547.9L1034,547.7L1036,547.4L1038,547.1L1040,546.7L1042,546.3L1044,545.9L1046,545.4L1048,544.9L1050,544.4L1052,543.8L1054,543.3L1056,542.7L1058,542.0L1060,541.4L1062,540.7L1064,539.9L1066,539.1L1068,538.3L1070,537.5L1072,536.6L1074,535.7L1076,534.8L1078,533.8L1080,532.9L1082,531.9L1084,530.9L1086,529.9L1088,528.9L1090,527.9L1092,526.9L1094,525.9L1096,524.8L1098,523.8L1100,522.7L1102,521.6L1104,520.5L1106,519.3L1108,518.2L1110,517.0L1112,515.8L1114,514.6L1116,513.3L1118,512.1L1120,510.8L1122,509.5L1124,508.1L1126,506.7L1128,505.3L1130,503.9L1132,502.5L1134,501.0L1136,499.5L1138,498.0L1140,496.5L1142,494.9L1144,493.3L1146,491.7L1148,490.1L1150,488.5L1150,488.8L1148,490.5L1146,492.1L1144,493.7L1142,495.3L1140,496.9L1138,498.4L1136,499.9L1134,501.4L1132,502.9L1130,504.4L1128,505.8L1126,507.2L1124,508.6L1122,509.9L1120,511.2L1118,512.5L1116,513.8L1114,515.1L1112,516.3L1110,517.5L1108,518.7L1106,519.9L1104,521.0L1102,522.2L1100,523.3L1098,524.4L1096,525.5L1094,526.5L1092,527.6L1090,528.6L1088,529.7L1086,530.7L1084,531.7L1082,532.7L1080,533.7L1078,534.7L1076,535.7L1074,536.7L1072,537.6L1070,538.6L1068,539.5L1066,540.4L1064,541.2L1062,542.1L1060,542.9L1058,543.7L1056,544.4L1054,545.2L1052,545.9L1050,546.6L1048,547.4L1046,548.1L1044,548.8L1042,549.5L1040,550.1L1038,550.8L1036,551.5L1034,552.2L1032,552.8L1030,553.5L1028,554.1L1026,554.7L1024,555.4L1022,556.0L1020,556.6L1018,557.2L1016,557.8L1014,558.4L1012,559.0L1010,559.6L1008,560.2L1006,560.8L1004,561.4L1002,561.9L1000,562.5L998,563.1L996,563.6L994,564.2L992,564.7L990,565.3L988,565.8L986,566.4L984,566.9L982,567.5L980,568.0L978,568.5L976,569.1L974,569.6L972,570.1L970,570.6L968,571.2L966,571.7L964,572.2L962,572.7L960,573.2L958,573.8L956,574.3L954,574.8L952,575.3L950,575.8L948,576.3L946,576.8L944,577.4L942,577.9L940,578.4L938,578.9L936,579.4L934,579.9L932,580.5L930,581.0L928,581.5L926,582.0L924,582.5L922,583.1L920,583.6L918,584.1L916,584.7L914,585.2L912,585.7L910,586.3L908,586.8L906,587.3L904,587.8L902,588.4L900,588.9L898,589.4L896,589.9L894,590.4L892,590.9L890,591.5L888,592.0L886,592.5L884,593.0L882,593.5L880,594.0L878,594.5L876,595.0L874,595.5L872,596.0L870,596.5L868,597.0L866,597.5L864,598.0L862,598.5L860,599.0L858,599.5L856,600.0L854,600.5L852,601.0L850,601.4L848,601.9L846,602.4L844,602.9L842,603.4L840,603.9L838,604.4L836,604.9L834,605.4L832,605.8L830,606.3L828,606.8L826,607.3L824,607.8L822,608.3L820,608.8L818,609.3L816,609.8L814,610.2L812,610.7L810,611.2L808,611.7L806,612.2L804,612.7L802,613.2L800,613.7L798,614.2L796,614.6L794,615.1L792,615.6L790,616.1L788,616.6L786,617.1L784,617.6L782,618.1L780,618.6L778,619.1L776,619.6L774,620.1L772,620.6L770,621.2L768,621.7L766,622.2L764,622.8L762,623.3L760,623.8L758,624.4L756,624.9L754,625.5L752,626.0L750,626.5L748,627.0L746,627.6L744,628.1L742,628.6L740,629.1L738,629.6L736,630.1L734,630.5L732,631.0L730,631.4L728,631.9L726,632.3L724,632.7L722,633.1L720,633.5L718,633.9L716,634.2L714,634.6L712,635.0L710,635.3L708,635.7L706,636.0L704,636.3L702,636.6L700,636.9L698,637.2L696,637.5L694,637.7L692,638.0L690,638.2L688,638.4L686,638.6L684,638.8L682,639.0L680,639.1L678,639.3L676,639.4L674,639.6L672,639.7L670,639.9L668,640.0L666,640.2L664,640.3L662,640.5L660,640.6L658,640.8L656,641.0L654,641.2L652,641.3L650,641.6L648,641.8L646,642.0L644,642.2L642,642.4L640,642.6L638,642.8L636,643.1L634,643.3L632,643.5L630,643.7L628,643.9L626,644.1L624,644.3L622,644.4L620,644.6L618,644.8L616,644.9L614,645.0L612,645.2L610,645.3L608,645.5L606,645.6L604,645.8L602,645.9L600,646.0L598,646.1L596,646.3L594,646.4L592,646.5L590,646.6L588,646.8L586,646.9L584,647.0L582,647.1L580,647.2L578,647.4L576,647.5L574,647.6L572,647.7L570,647.8L568,647.9L566,648.0L564,648.1L562,648.2L560,648.3L558,648.4L556,648.5L554,648.6L552,648.7L550,648.8L548,648.9L546,649.0L544,649.1L542,649.2L540,649.3L538,649.4L536,649.5L534,649.6L532,649.7L530,649.8L528,649.9L526,650.0L524,650.1L522,650.2L520,650.3L518,650.4L516,650.5L514,650.6L512,650.7L510,650.8L508,650.9L506,651.0L504,651.2L502,651.3L500,651.4L498,651.5L496,651.6L494,651.7L492,651.8L490,651.9L488,652.0L486,652.1L484,652.3L482,652.4L480,652.5L478,652.6L476,652.7L474,652.9L472,653.0L470,653.1L468,653.2L466,653.4L464,653.5L462,653.6L460,653.7L458,653.8L456,654.0L454,654.1L452,654.2L450,654.4L448,654.5L446,654.6L444,654.7L442,654.9L440,655.0L438,655.1L436,655.2L434,655.4L432,655.5L430,655.6L428,655.8L426,655.9L424,656.0L422,656.1L420,656.3L418,656.4L416,656.5L414,656.7L412,656.8L410,656.9L408,657.1L406,657.2L404,657.3L402,657.4L400,657.6L398,657.7L396,657.8L394,658.0L392,658.1L390,658.2L388,658.4L386,658.5L384,658.6L382,658.8L380,658.9L378,659.0L376,659.2L374,659.3L372,659.4L370,659.6L368,659.7L366,659.8L364,660.0L362,660.1L360,660.2L358,660.4L356,660.5L354,660.6L352,660.8L350,660.9L348,661.0L346,661.1L344,661.3L342,661.4L340,661.5L338,661.7L336,661.8L334,661.9L332,662.1L330,662.2L328,662.3L326,662.5L324,662.6L322,662.7L320,662.9L318,663.0L316,663.1L314,663.2L312,663.4L310,663.5L308,663.6L306,663.8L304,663.9L302,664.0L300,664.2L298,664.3L296,664.4L294,664.6L292,664.7L290,664.8L288,665.0L286,665.1L284,665.2L282,665.4L280,665.5L278,665.6L276,665.7L274,665.9L272,666.0L270,666.1L268,666.3L266,666.4L264,666.5L262,666.7L260,666.8L258,666.9L256,667.1L254,667.2L252,667.3L250,667.5L248,667.6L246,667.7L244,667.9L242,668.0L240,668.1L238,668.3L236,668.4L234,668.5L232,668.7L230,668.8L228,668.9L226,669.1L224,669.2L222,669.3L220,669.5L218,669.6L216,669.7L214,669.9L212,670.0 Z" fill="url(#gPurp)" stroke="none" fill-opacity="0.78"/>
<path d="M212,669.8L214,669.7L216,669.5L218,669.4L220,669.2L222,669.1L224,669.0L226,668.8L228,668.7L230,668.6L232,668.4L234,668.3L236,668.1L238,668.0L240,667.9L242,667.7L244,667.6L246,667.5L248,667.3L250,667.2L252,667.0L254,666.9L256,666.8L258,666.6L260,666.5L262,666.4L264,666.2L266,666.1L268,665.9L270,665.8L272,665.7L274,665.5L276,665.4L278,665.2L280,665.1L282,665.0L284,664.8L286,664.7L288,664.5L290,664.4L292,664.2L294,664.1L296,664.0L298,663.8L300,663.7L302,663.5L304,663.3L306,663.2L308,663.0L310,662.9L312,662.7L314,662.5L316,662.4L318,662.2L320,662.0L322,661.8L324,661.6L326,661.4L328,661.2L330,661.0L332,660.8L334,660.6L336,660.3L338,660.1L340,659.8L342,659.5L344,659.2L346,658.9L348,658.6L350,658.2L352,657.9L354,657.5L356,657.1L358,656.6L360,656.2L362,655.7L364,655.1L366,654.6L368,654.0L370,653.3L372,652.7L374,651.9L376,651.2L378,650.4L380,649.5L382,648.6L384,647.7L386,646.7L388,645.7L390,644.6L392,643.4L394,642.2L396,641.0L398,639.7L400,638.3L402,636.9L404,635.4L406,633.9L408,632.3L410,630.7L412,629.0L414,627.3L416,625.6L418,623.8L420,621.9L422,620.1L424,618.2L426,616.3L428,614.4L430,612.5L432,610.6L434,608.7L436,606.8L438,604.9L440,603.0L442,601.2L444,599.4L446,597.6L448,595.9L450,594.3L452,592.7L454,591.2L456,589.8L458,588.5L460,587.3L462,586.1L464,585.1L466,584.2L468,583.4L470,582.7L472,582.2L474,581.8L476,581.5L478,581.3L480,581.3L482,581.4L484,581.6L486,582.0L488,582.5L490,583.1L492,583.8L494,584.6L496,585.5L498,586.6L500,587.7L502,588.9L504,590.2L506,591.5L508,593.0L510,594.5L512,596.0L514,597.6L516,599.2L518,600.8L520,602.5L522,604.2L524,605.9L526,607.6L528,609.3L530,610.9L532,612.6L534,614.2L536,615.9L538,617.4L540,619.0L542,620.5L544,621.9L546,623.4L548,624.7L550,626.1L552,627.3L554,628.6L556,629.7L558,630.8L560,631.9L562,632.9L564,633.8L566,634.7L568,635.6L570,636.3L572,637.1L574,637.8L576,638.4L578,639.0L580,639.5L582,640.0L584,640.4L586,640.9L588,641.2L590,641.6L592,641.8L594,642.1L596,642.3L598,642.5L600,642.7L602,642.8L604,643.0L606,643.1L608,643.1L610,643.2L612,643.2L614,643.2L616,643.2L618,643.2L620,643.2L622,643.1L624,643.0L626,642.9L628,642.8L630,642.7L632,642.6L634,642.4L636,642.2L638,642.1L640,641.9L642,641.7L644,641.5L646,641.3L648,641.2L650,641.0L652,640.8L654,640.6L656,640.5L658,640.3L660,640.2L662,640.0L664,639.9L666,639.7L668,639.6L670,639.5L672,639.3L674,639.2L676,639.1L678,638.9L680,638.8L682,638.6L684,638.4L686,638.3L688,638.1L690,637.9L692,637.7L694,637.4L696,637.2L698,636.9L700,636.6L702,636.3L704,636.0L706,635.7L708,635.4L710,635.0L712,634.7L714,634.3L716,634.0L718,633.6L720,633.2L722,632.9L724,632.5L726,632.1L728,631.6L730,631.2L732,630.8L734,630.3L736,629.8L738,629.3L740,628.9L742,628.4L744,627.9L746,627.3L748,626.8L750,626.3L752,625.8L754,625.3L756,624.7L758,624.2L760,623.7L762,623.1L764,622.6L766,622.1L768,621.5L770,621.0L772,620.5L774,620.0L776,619.4L778,618.9L780,618.4L782,617.9L784,617.4L786,617.0L788,616.5L790,616.0L792,615.5L794,615.0L796,614.5L798,614.0L800,613.5L802,613.0L804,612.5L806,612.1L808,611.6L810,611.1L812,610.6L814,610.1L816,609.6L818,609.1L820,608.6L822,608.2L824,607.7L826,607.2L828,606.7L830,606.2L832,605.7L834,605.2L836,604.8L838,604.3L840,603.8L842,603.3L844,602.8L846,602.3L848,601.8L850,601.3L852,600.8L854,600.4L856,599.9L858,599.4L860,598.9L862,598.4L864,597.9L866,597.4L868,596.9L870,596.4L872,595.9L874,595.4L876,594.9L878,594.4L880,593.9L882,593.4L884,592.9L886,592.4L888,591.9L890,591.4L892,590.9L894,590.3L896,589.8L898,589.3L900,588.8L902,588.3L904,587.8L906,587.2L908,586.7L910,586.2L912,585.7L914,585.1L916,584.6L918,584.1L920,583.5L922,583.0L924,582.5L926,581.9L928,581.4L930,580.9L932,580.4L934,579.9L936,579.3L938,578.8L940,578.3L942,577.8L944,577.3L946,576.8L948,576.3L950,575.7L952,575.2L954,574.7L956,574.2L958,573.7L960,573.2L962,572.7L964,572.1L966,571.6L968,571.1L970,570.6L972,570.1L974,569.5L976,569.0L978,568.5L980,567.9L982,567.4L984,566.9L986,566.3L988,565.8L990,565.2L992,564.7L994,564.1L996,563.6L998,563.0L1000,562.5L1002,561.9L1004,561.3L1006,560.7L1008,560.2L1010,559.6L1012,559.0L1014,558.4L1016,557.8L1018,557.2L1020,556.6L1022,555.9L1024,555.3L1026,554.7L1028,554.0L1030,553.4L1032,552.8L1034,552.1L1036,551.4L1038,550.8L1040,550.1L1042,549.4L1044,548.7L1046,548.0L1048,547.3L1050,546.6L1052,545.9L1054,545.1L1056,544.4L1058,543.6L1060,542.8L1062,542.0L1064,541.2L1066,540.3L1068,539.4L1070,538.5L1072,537.6L1074,536.6L1076,535.7L1078,534.7L1080,533.7L1082,532.7L1084,531.7L1086,530.7L1088,529.6L1090,528.6L1092,527.6L1094,526.5L1096,525.4L1098,524.3L1100,523.2L1102,522.1L1104,521.0L1106,519.8L1108,518.7L1110,517.5L1112,516.3L1114,515.0L1116,513.8L1118,512.5L1120,511.2L1122,509.9L1124,508.5L1126,507.2L1128,505.8L1130,504.3L1132,502.9L1134,501.4L1136,499.9L1138,498.4L1140,496.8L1142,495.3L1144,493.7L1146,492.1L1148,490.4L1150,488.8L1150,488.8L1148,490.5L1146,492.1L1144,493.7L1142,495.3L1140,496.9L1138,498.4L1136,499.9L1134,501.4L1132,502.9L1130,504.4L1128,505.8L1126,507.2L1124,508.6L1122,509.9L1120,511.2L1118,512.5L1116,513.8L1114,515.1L1112,516.3L1110,517.5L1108,518.7L1106,519.9L1104,521.0L1102,522.2L1100,523.3L1098,524.4L1096,525.5L1094,526.5L1092,527.6L1090,528.6L1088,529.7L1086,530.7L1084,531.7L1082,532.7L1080,533.7L1078,534.7L1076,535.7L1074,536.7L1072,537.6L1070,538.6L1068,539.5L1066,540.4L1064,541.2L1062,542.1L1060,542.9L1058,543.7L1056,544.4L1054,545.2L1052,545.9L1050,546.6L1048,547.4L1046,548.1L1044,548.8L1042,549.5L1040,550.1L1038,550.8L1036,551.5L1034,552.2L1032,552.8L1030,553.5L1028,554.1L1026,554.7L1024,555.4L1022,556.0L1020,556.6L1018,557.2L1016,557.8L1014,558.4L1012,559.0L1010,559.6L1008,560.2L1006,560.8L1004,561.4L1002,561.9L1000,562.5L998,563.1L996,563.6L994,564.2L992,564.7L990,565.3L988,565.8L986,566.4L984,566.9L982,567.5L980,568.0L978,568.5L976,569.1L974,569.6L972,570.1L970,570.6L968,571.2L966,571.7L964,572.2L962,572.7L960,573.2L958,573.8L956,574.3L954,574.8L952,575.3L950,575.8L948,576.3L946,576.8L944,577.4L942,577.9L940,578.4L938,578.9L936,579.4L934,579.9L932,580.5L930,581.0L928,581.5L926,582.0L924,582.5L922,583.1L920,583.6L918,584.1L916,584.7L914,585.2L912,585.7L910,586.3L908,586.8L906,587.3L904,587.8L902,588.4L900,588.9L898,589.4L896,589.9L894,590.4L892,590.9L890,591.5L888,592.0L886,592.5L884,593.0L882,593.5L880,594.0L878,594.5L876,595.0L874,595.5L872,596.0L870,596.5L868,597.0L866,597.5L864,598.0L862,598.5L860,599.0L858,599.5L856,600.0L854,600.5L852,601.0L850,601.4L848,601.9L846,602.4L844,602.9L842,603.4L840,603.9L838,604.4L836,604.9L834,605.4L832,605.8L830,606.3L828,606.8L826,607.3L824,607.8L822,608.3L820,608.8L818,609.3L816,609.8L814,610.2L812,610.7L810,611.2L808,611.7L806,612.2L804,612.7L802,613.2L800,613.7L798,614.2L796,614.6L794,615.1L792,615.6L790,616.1L788,616.6L786,617.1L784,617.6L782,618.1L780,618.6L778,619.1L776,619.6L774,620.1L772,620.6L770,621.2L768,621.7L766,622.2L764,622.8L762,623.3L760,623.8L758,624.4L756,624.9L754,625.5L752,626.0L750,626.5L748,627.0L746,627.6L744,628.1L742,628.6L740,629.1L738,629.6L736,630.1L734,630.5L732,631.0L730,631.4L728,631.9L726,632.3L724,632.7L722,633.1L720,633.5L718,633.9L716,634.2L714,634.6L712,635.0L710,635.3L708,635.7L706,636.0L704,636.3L702,636.6L700,636.9L698,637.2L696,637.5L694,637.7L692,638.0L690,638.2L688,638.4L686,638.6L684,638.8L682,639.0L680,639.1L678,639.3L676,639.4L674,639.6L672,639.7L670,639.9L668,640.0L666,640.2L664,640.3L662,640.5L660,640.6L658,640.8L656,641.0L654,641.2L652,641.3L650,641.6L648,641.8L646,642.0L644,642.2L642,642.4L640,642.6L638,642.8L636,643.1L634,643.3L632,643.5L630,643.7L628,643.9L626,644.1L624,644.3L622,644.4L620,644.6L618,644.8L616,644.9L614,645.0L612,645.2L610,645.3L608,645.5L606,645.6L604,645.8L602,645.9L600,646.0L598,646.1L596,646.3L594,646.4L592,646.5L590,646.6L588,646.8L586,646.9L584,647.0L582,647.1L580,647.2L578,647.4L576,647.5L574,647.6L572,647.7L570,647.8L568,647.9L566,648.0L564,648.1L562,648.2L560,648.3L558,648.4L556,648.5L554,648.6L552,648.7L550,648.8L548,648.9L546,649.0L544,649.1L542,649.2L540,649.3L538,649.4L536,649.5L534,649.6L532,649.7L530,649.8L528,649.9L526,650.0L524,650.1L522,650.2L520,650.3L518,650.4L516,650.5L514,650.6L512,650.7L510,650.8L508,650.9L506,651.0L504,651.2L502,651.3L500,651.4L498,651.5L496,651.6L494,651.7L492,651.8L490,651.9L488,652.0L486,652.1L484,652.3L482,652.4L480,652.5L478,652.6L476,652.7L474,652.9L472,653.0L470,653.1L468,653.2L466,653.4L464,653.5L462,653.6L460,653.7L458,653.8L456,654.0L454,654.1L452,654.2L450,654.4L448,654.5L446,654.6L444,654.7L442,654.9L440,655.0L438,655.1L436,655.2L434,655.4L432,655.5L430,655.6L428,655.8L426,655.9L424,656.0L422,656.1L420,656.3L418,656.4L416,656.5L414,656.7L412,656.8L410,656.9L408,657.1L406,657.2L404,657.3L402,657.4L400,657.6L398,657.7L396,657.8L394,658.0L392,658.1L390,658.2L388,658.4L386,658.5L384,658.6L382,658.8L380,658.9L378,659.0L376,659.2L374,659.3L372,659.4L370,659.6L368,659.7L366,659.8L364,660.0L362,660.1L360,660.2L358,660.4L356,660.5L354,660.6L352,660.8L350,660.9L348,661.0L346,661.1L344,661.3L342,661.4L340,661.5L338,661.7L336,661.8L334,661.9L332,662.1L330,662.2L328,662.3L326,662.5L324,662.6L322,662.7L320,662.9L318,663.0L316,663.1L314,663.2L312,663.4L310,663.5L308,663.6L306,663.8L304,663.9L302,664.0L300,664.2L298,664.3L296,664.4L294,664.6L292,664.7L290,664.8L288,665.0L286,665.1L284,665.2L282,665.4L280,665.5L278,665.6L276,665.7L274,665.9L272,666.0L270,666.1L268,666.3L266,666.4L264,666.5L262,666.7L260,666.8L258,666.9L256,667.1L254,667.2L252,667.3L250,667.5L248,667.6L246,667.7L244,667.9L242,668.0L240,668.1L238,668.3L236,668.4L234,668.5L232,668.7L230,668.8L228,668.9L226,669.1L224,669.2L222,669.3L220,669.5L218,669.6L216,669.7L214,669.9L212,670.0 Z" fill="url(#gPurp)" stroke="none" fill-opacity="0.78"/>
<path d="M652,641.0L654,640.9L656,640.7L658,640.5L660,640.3L662,640.2L664,640.0L666,639.8L668,639.7L670,639.5L672,639.4L674,639.2L676,639.1L678,638.9L680,638.8L682,638.6L684,638.4L686,638.2L688,638.0L690,637.8L692,637.6L694,637.3L696,637.0L698,636.8L700,636.5L702,636.2L704,635.8L706,635.5L708,635.2L710,634.8L712,634.5L714,634.1L716,633.7L718,633.3L720,633.0L722,632.6L724,632.1L726,631.7L728,631.3L730,630.8L732,630.4L734,629.9L736,629.4L738,628.9L740,628.4L742,627.8L744,627.3L746,626.7L748,626.2L750,625.6L752,625.0L754,624.5L756,623.9L758,623.3L760,622.7L762,622.1L764,621.4L766,620.8L768,620.2L770,619.5L772,618.9L774,618.2L776,617.5L778,616.9L780,616.2L782,615.4L784,614.7L786,614.0L788,613.2L790,612.4L792,611.5L794,610.6L796,609.7L798,608.8L800,607.8L802,606.7L804,605.6L806,604.5L808,603.3L810,602.1L812,600.7L814,599.4L816,597.9L818,596.4L820,594.8L822,593.2L824,591.4L826,589.6L828,587.7L830,585.8L832,583.7L834,581.6L836,579.3L838,577.0L840,574.6L842,572.1L844,569.6L846,566.9L848,564.2L850,561.4L852,558.5L854,555.6L856,552.6L858,549.6L860,546.5L862,543.3L864,540.2L866,537.0L868,533.8L870,530.6L872,527.4L874,524.2L876,521.0L878,517.9L880,514.8L882,511.8L884,508.9L886,506.0L888,503.2L890,500.6L892,498.1L894,495.7L896,493.4L898,491.3L900,489.4L902,487.6L904,486.0L906,484.6L908,483.4L910,482.3L912,481.5L914,480.9L916,480.4L918,480.2L920,480.2L922,480.4L924,480.7L926,481.3L928,482.0L930,482.9L932,484.0L934,485.2L936,486.6L938,488.1L940,489.8L942,491.5L944,493.3L946,495.3L948,497.2L950,499.3L952,501.4L954,503.6L956,505.7L958,507.9L960,510.1L962,512.3L964,514.5L966,516.6L968,518.7L970,520.8L972,522.9L974,524.8L976,526.7L978,528.6L980,530.3L982,532.0L984,533.7L986,535.2L988,536.6L990,538.0L992,539.3L994,540.5L996,541.6L998,542.6L1000,543.5L1002,544.3L1004,545.1L1006,545.7L1008,546.3L1010,546.8L1012,547.3L1014,547.6L1016,547.9L1018,548.1L1020,548.2L1022,548.3L1024,548.4L1026,548.3L1028,548.2L1030,548.1L1032,547.9L1034,547.7L1036,547.4L1038,547.1L1040,546.7L1042,546.3L1044,545.9L1046,545.4L1048,544.9L1050,544.4L1052,543.8L1054,543.3L1056,542.7L1058,542.0L1060,541.4L1062,540.7L1064,539.9L1066,539.1L1068,538.3L1070,537.5L1072,536.6L1074,535.7L1076,534.8L1078,533.8L1080,532.9L1082,531.9L1084,530.9L1086,529.9L1088,528.9L1090,527.9L1092,526.9L1094,525.9L1096,524.8L1098,523.8L1100,522.7L1102,521.6L1104,520.5L1106,519.3L1108,518.2L1110,517.0L1112,515.8L1114,514.6L1116,513.3L1118,512.1L1120,510.8L1122,509.5L1124,508.1L1126,506.7L1128,505.3L1130,503.9L1132,502.5L1134,501.0L1136,499.5L1138,498.0L1140,496.5L1142,494.9L1144,493.3L1146,491.7L1148,490.1L1150,488.5" fill="none" stroke="#dc64ff" stroke-width="2.8" stroke-linejoin="round" stroke-linecap="butt" />
<path d="M256,666.8L258,666.6L260,666.5L262,666.4L264,666.2L266,666.1L268,665.9L270,665.8L272,665.7L274,665.5L276,665.4L278,665.2L280,665.1L282,665.0L284,664.8L286,664.7L288,664.5L290,664.4L292,664.2L294,664.1L296,664.0L298,663.8L300,663.7L302,663.5L304,663.3L306,663.2L308,663.0L310,662.9L312,662.7L314,662.5L316,662.4L318,662.2L320,662.0L322,661.8L324,661.6L326,661.4L328,661.2L330,661.0L332,660.8L334,660.6L336,660.3L338,660.1L340,659.8L342,659.5L344,659.2L346,658.9L348,658.6L350,658.2L352,657.9L354,657.5L356,657.1L358,656.6L360,656.2L362,655.7L364,655.1L366,654.6L368,654.0L370,653.3L372,652.7L374,651.9L376,651.2L378,650.4L380,649.5L382,648.6L384,647.7L386,646.7L388,645.7L390,644.6L392,643.4L394,642.2L396,641.0L398,639.7L400,638.3L402,636.9L404,635.4L406,633.9L408,632.3L410,630.7L412,629.0L414,627.3L416,625.6L418,623.8L420,621.9L422,620.1L424,618.2L426,616.3L428,614.4L430,612.5L432,610.6L434,608.7L436,606.8L438,604.9L440,603.0L442,601.2L444,599.4L446,597.6L448,595.9L450,594.3L452,592.7L454,591.2L456,589.8L458,588.5L460,587.3L462,586.1L464,585.1L466,584.2L468,583.4L470,582.7L472,582.2L474,581.8L476,581.5L478,581.3L480,581.3L482,581.4L484,581.6L486,582.0L488,582.5L490,583.1L492,583.8L494,584.6L496,585.5L498,586.6L500,587.7L502,588.9L504,590.2L506,591.5L508,593.0L510,594.5L512,596.0L514,597.6L516,599.2L518,600.8L520,602.5L522,604.2L524,605.9L526,607.6L528,609.3L530,610.9L532,612.6L534,614.2L536,615.9L538,617.4L540,619.0L542,620.5L544,621.9L546,623.4L548,624.7L550,626.1L552,627.3L554,628.6L556,629.7L558,630.8L560,631.9L562,632.9L564,633.8L566,634.7L568,635.6L570,636.3L572,637.1L574,637.8L576,638.4L578,639.0L580,639.5L582,640.0L584,640.4L586,640.9L588,641.2L590,641.6L592,641.8L594,642.1L596,642.3L598,642.5L600,642.7L602,642.8L604,643.0L606,643.1L608,643.1L610,643.2L612,643.2L614,643.2L616,643.2L618,643.2L620,643.2L622,643.1L624,643.0L626,642.9L628,642.8L630,642.7L632,642.6L634,642.4L636,642.2L638,642.1L640,641.9L642,641.7L644,641.5L646,641.3L648,641.2L650,641.0L652,640.8L654,640.6L656,640.5L658,640.3L660,640.2L662,640.0L664,639.9L666,639.7L668,639.6L670,639.5L672,639.3L674,639.2L676,639.1L678,638.9L680,638.8L682,638.6L684,638.4L686,638.3L688,638.1L690,637.9L692,637.7L694,637.4L696,637.2L698,636.9" fill="none" stroke="#dc64ff" stroke-width="2.8" stroke-linejoin="round" stroke-linecap="butt" />
<path d="M212,669.4L214,669.3L216,669.1L218,669.0L220,668.8L222,668.7L224,668.6L226,668.4L228,668.3L230,668.1L232,668.0L234,667.9L236,667.7L238,667.6L240,667.4L242,667.3L244,667.1L246,667.0L248,666.9L250,666.7L252,666.6L254,666.4L256,666.3L258,666.1L260,666.0L262,665.9L264,665.7L266,665.6L268,665.4L270,665.3L272,665.1L274,665.0L276,664.8L278,664.7L280,664.5L282,664.4L284,664.2L286,664.1L288,663.9L290,663.8L292,663.6L294,663.5L296,663.3L298,663.2L300,663.0L302,662.9L304,662.7L306,662.5L308,662.4L310,662.2L312,662.0L314,661.8L316,661.7L318,661.5L320,661.3L322,661.1L324,660.9L326,660.7L328,660.5L330,660.2L332,660.0L334,659.8L336,659.5L338,659.2L340,659.0L342,658.7L344,658.4L346,658.0L348,657.7L350,657.3L352,656.9L354,656.5L356,656.1L358,655.6L360,655.1L362,654.6L364,654.1L366,653.5L368,652.9L370,652.2L372,651.5L374,650.8L376,650.0L378,649.2L380,648.3L382,647.4L384,646.4L386,645.4L388,644.3L390,643.2L392,642.0L394,640.8L396,639.5L398,638.2L400,636.8L402,635.3L404,633.8L406,632.2L408,630.6L410,628.9L412,627.2L414,625.4L416,623.6L418,621.7L420,619.8L422,617.8L424,615.8L426,613.8L428,611.7L430,609.6L432,607.5L434,605.3L436,603.1L438,600.9L440,598.7L442,596.5L444,594.2L446,591.9L448,589.6L450,587.3L452,584.9L454,582.5L456,580.1L458,577.6L460,575.1L462,572.6L464,569.9L466,567.2L468,564.4L470,561.5L472,558.5L474,555.4L476,552.2L478,548.8L480,545.2L482,541.5L484,537.5L486,533.4L488,529.1L490,524.5L492,519.7L494,514.7L496,509.5L498,504.0L500,498.3L502,492.3L504,486.2L506,479.9L508,473.3L510,466.7L512,459.9L514,453.0L516,446.1L518,439.2L520,432.3L522,425.5L524,418.8L526,412.2L528,406.0L530,400.0L532,394.3L534,389.1L536,384.3L538,380.0L540,376.3L542,373.2L544,370.7L546,368.9L548,367.8L550,367.5L552,367.9L554,369.1L556,371.3L558,374.5L560,378.6L562,383.6L564,389.4L566,396.1L568,403.4L570,411.5L572,420.0L574,429.1L576,438.5L578,448.3L580,458.2L582,468.3L584,478.4L586,488.5L588,498.5L590,508.4L592,518.0L594,527.4L596,536.4L598,545.0L600,553.3L602,561.1L604,568.5L606,575.5L608,581.9L610,588.0L612,593.5L614,598.7L616,603.3L618,607.6L620,611.5L622,614.9L624,618.0L626,620.8L628,623.2L630,625.4L632,627.3L634,628.9L636,630.3L638,631.5L640,632.5L642,633.3L644,634.1L646,634.7L648,635.1L650,635.5L652,635.9L654,636.1L656,636.3L658,636.5L660,636.6L662,636.7L664,636.7L666,636.7L668,636.7L670,636.7L672,636.7L674,636.6L676,636.6L678,636.5L680,636.4L682,636.3L684,636.2L686,636.0L688,635.9L690,635.7L692,635.5L694,635.3L696,635.1L698,634.8L700,634.5L702,634.3L704,634.0L706,633.7L708,633.3L710,633.0L712,632.7L714,632.3L716,632.0L718,631.6L720,631.2L722,630.9L724,630.5L726,630.0L728,629.6L730,629.2L732,628.7L734,628.2L736,627.7L738,627.2L740,626.7L742,626.2L744,625.7L746,625.1L748,624.6L750,624.0L752,623.4L754,622.9L756,622.3L758,621.7L760,621.1L762,620.5L764,619.8L766,619.2L768,618.6L770,617.9L772,617.2L774,616.6L776,615.9L778,615.2L780,614.5L782,613.8L784,613.0L786,612.3L788,611.5L790,610.6L792,609.8L794,608.9L796,607.9L798,607.0L800,606.0L802,604.9L804,603.8L806,602.6L808,601.4L810,600.1L812,598.8L814,597.4L816,595.9L818,594.4L820,592.7L822,591.1L824,589.3L826,587.4L828,585.5L830,583.4L832,581.3L834,579.1L836,576.8L838,574.4L840,571.9L842,569.3L844,566.7L846,563.9L848,561.0L850,558.0L852,554.9L854,551.8L856,548.5L858,545.1L860,541.7L862,538.1L864,534.4L866,530.7L868,526.8L870,522.8L872,518.7L874,514.5L876,510.1L878,505.6L880,501.0L882,496.2L884,491.2L886,486.0L888,480.7L890,475.1L892,469.3L894,463.3L896,457.0L898,450.4L900,443.5L902,436.3L904,428.8L906,421.0L908,412.8L910,404.2L912,395.3L914,386.1L916,376.5L918,366.6L920,356.3L922,345.8L924,335.0L926,324.0L928,312.8L930,301.4L932,290.1L934,278.7L936,267.4L938,256.2L940,245.3L942,234.7L944,224.5L946,214.8L948,205.8L950,197.4L952,189.8L954,183.2L956,177.5L958,172.8L960,169.3L962,167.0L964,165.8L966,166.0L968,167.4L970,170.4L972,175.1L974,181.5L976,189.6L978,199.2L980,210.3L982,222.5L984,235.8L986,250.1L988,265.0L990,280.5L992,296.4L994,312.4L996,328.5L998,344.4L1000,360.1L1002,375.4L1004,390.2L1006,404.4L1008,418.0L1010,430.8L1012,442.8L1014,453.9L1016,464.3L1018,473.8L1020,482.4L1022,490.3L1024,497.3L1026,503.6L1028,509.2L1030,514.1L1032,518.4L1034,522.1L1036,525.3L1038,527.9L1040,530.2L1042,532.0L1044,533.5L1046,534.7L1048,535.6L1050,536.3L1052,536.7L1054,537.0L1056,537.1L1058,537.1L1060,536.9L1062,536.6L1064,536.2L1066,535.7L1068,535.2L1070,534.5L1072,533.9L1074,533.1L1076,532.3L1078,531.5L1080,530.7L1082,529.8L1084,528.9L1086,528.0L1088,527.1L1090,526.1L1092,525.2L1094,524.2L1096,523.2L1098,522.2L1100,521.1L1102,520.0L1104,519.0L1106,517.9L1108,516.7L1110,515.6L1112,514.4L1114,513.2L1116,512.0L1118,510.8L1120,509.5L1122,508.3L1124,506.9L1126,505.6L1128,504.2L1130,502.8L1132,501.4L1134,500.0L1136,498.5L1138,497.0L1140,495.5L1142,494.0L1144,492.4L1146,490.8L1148,489.2L1150,487.6" fill="none" stroke="#ff0000" stroke-width="5.8" stroke-linejoin="round" stroke-linecap="butt" />
<path d="M212,670.0L214,669.9L216,669.7L218,669.6L220,669.5L222,669.3L224,669.2L226,669.1L228,668.9L230,668.8L232,668.7L234,668.5L236,668.4L238,668.3L240,668.1L242,668.0L244,667.9L246,667.7L248,667.6L250,667.5L252,667.3L254,667.2L256,667.1L258,666.9L260,666.8L262,666.7L264,666.5L266,666.4L268,666.3L270,666.1L272,666.0L274,665.9L276,665.7L278,665.6L280,665.5L282,665.4L284,665.2L286,665.1L288,665.0L290,664.8L292,664.7L294,664.6L296,664.4L298,664.3L300,664.2L302,664.0L304,663.9L306,663.8L308,663.6L310,663.5L312,663.4L314,663.2L316,663.1L318,663.0L320,662.9L322,662.7L324,662.6L326,662.5L328,662.3L330,662.2L332,662.1L334,661.9L336,661.8L338,661.7L340,661.5L342,661.4L344,661.3L346,661.1L348,661.0L350,660.9L352,660.8L354,660.6L356,660.5L358,660.4L360,660.2L362,660.1L364,660.0L366,659.8L368,659.7L370,659.6L372,659.4L374,659.3L376,659.2L378,659.0L380,658.9L382,658.8L384,658.6L386,658.5L388,658.4L390,658.2L392,658.1L394,658.0L396,657.8L398,657.7L400,657.6L402,657.4L404,657.3L406,657.2L408,657.1L410,656.9L412,656.8L414,656.7L416,656.5L418,656.4L420,656.3L422,656.1L424,656.0L426,655.9L428,655.8L430,655.6L432,655.5L434,655.4L436,655.2L438,655.1L440,655.0L442,654.9L444,654.7L446,654.6L448,654.5L450,654.4L452,654.2L454,654.1L456,654.0L458,653.8L460,653.7L462,653.6L464,653.5L466,653.4L468,653.2L470,653.1L472,653.0L474,652.9L476,652.7L478,652.6L480,652.5L482,652.4L484,652.3L486,652.1L488,652.0L490,651.9L492,651.8L494,651.7L496,651.6L498,651.5L500,651.4L502,651.3L504,651.2L506,651.0L508,650.9L510,650.8L512,650.7L514,650.6L516,650.5L518,650.4L520,650.3L522,650.2L524,650.1L526,650.0L528,649.9L530,649.8L532,649.7L534,649.6L536,649.5L538,649.4L540,649.3L542,649.2L544,649.1L546,649.0L548,648.9L550,648.8L552,648.7L554,648.6L556,648.5L558,648.4L560,648.3L562,648.2L564,648.1L566,648.0L568,647.9L570,647.8L572,647.7L574,647.6L576,647.5L578,647.4L580,647.2L582,647.1L584,647.0L586,646.9L588,646.8L590,646.6L592,646.5L594,646.4L596,646.3L598,646.1L600,646.0L602,645.9L604,645.8L606,645.6L608,645.5L610,645.3L612,645.2L614,645.0L616,644.9L618,644.8L620,644.6L622,644.4L624,644.3L626,644.1L628,643.9L630,643.7L632,643.5L634,643.3L636,643.1L638,642.8L640,642.6L642,642.4L644,642.2L646,642.0L648,641.8L650,641.6L652,641.3L654,641.2L656,641.0L658,640.8L660,640.6L662,640.5L664,640.3L666,640.2L668,640.0L670,639.9L672,639.7L674,639.6L676,639.4L678,639.3L680,639.1L682,639.0L684,638.8L686,638.6L688,638.4L690,638.2L692,638.0L694,637.7L696,637.5L698,637.2L700,636.9L702,636.6L704,636.3L706,636.0L708,635.7L710,635.3L712,635.0L714,634.6L716,634.2L718,633.9L720,633.5L722,633.1L724,632.7L726,632.3L728,631.9L730,631.4L732,631.0L734,630.5L736,630.1L738,629.6L740,629.1L742,628.6L744,628.1L746,627.6L748,627.0L750,626.5L752,626.0L754,625.5L756,624.9L758,624.4L760,623.8L762,623.3L764,622.8L766,622.2L768,621.7L770,621.2L772,620.6L774,620.1L776,619.6L778,619.1L780,618.6L782,618.1L784,617.6L786,617.1L788,616.6L790,616.1L792,615.6L794,615.1L796,614.6L798,614.2L800,613.7L802,613.2L804,612.7L806,612.2L808,611.7L810,611.2L812,610.7L814,610.2L816,609.8L818,609.3L820,608.8L822,608.3L824,607.8L826,607.3L828,606.8L830,606.3L832,605.8L834,605.4L836,604.9L838,604.4L840,603.9L842,603.4L844,602.9L846,602.4L848,601.9L850,601.4L852,601.0L854,600.5L856,600.0L858,599.5L860,599.0L862,598.5L864,598.0L866,597.5L868,597.0L870,596.5L872,596.0L874,595.5L876,595.0L878,594.5L880,594.0L882,593.5L884,593.0L886,592.5L888,592.0L890,591.5L892,590.9L894,590.4L896,589.9L898,589.4L900,588.9L902,588.4L904,587.8L906,587.3L908,586.8L910,586.3L912,585.7L914,585.2L916,584.7L918,584.1L920,583.6L922,583.1L924,582.5L926,582.0L928,581.5L930,581.0L932,580.5L934,579.9L936,579.4L938,578.9L940,578.4L942,577.9L944,577.4L946,576.8L948,576.3L950,575.8L952,575.3L954,574.8L956,574.3L958,573.8L960,573.2L962,572.7L964,572.2L966,571.7L968,571.2L970,570.6L972,570.1L974,569.6L976,569.1L978,568.5L980,568.0L982,567.5L984,566.9L986,566.4L988,565.8L990,565.3L992,564.7L994,564.2L996,563.6L998,563.1L1000,562.5L1002,561.9L1004,561.4L1006,560.8L1008,560.2L1010,559.6L1012,559.0L1014,558.4L1016,557.8L1018,557.2L1020,556.6L1022,556.0L1024,555.4L1026,554.7L1028,554.1L1030,553.5L1032,552.8L1034,552.2L1036,551.5L1038,550.8L1040,550.1L1042,549.5L1044,548.8L1046,548.1L1048,547.4L1050,546.6L1052,545.9L1054,545.2L1056,544.4L1058,543.7L1060,542.9L1062,542.1L1064,541.2L1066,540.4L1068,539.5L1070,538.6L1072,537.6L1074,536.7L1076,535.7L1078,534.7L1080,533.7L1082,532.7L1084,531.7L1086,530.7L1088,529.7L1090,528.6L1092,527.6L1094,526.5L1096,525.5L1098,524.4L1100,523.3L1102,522.2L1104,521.0L1106,519.9L1108,518.7L1110,517.5L1112,516.3L1114,515.1L1116,513.8L1118,512.5L1120,511.2L1122,509.9L1124,508.6L1126,507.2L1128,505.8L1130,504.4L1132,502.9L1134,501.4L1136,499.9L1138,498.4L1140,496.9L1142,495.3L1144,493.7L1146,492.1L1148,490.5L1150,488.8" fill="none" stroke="#858585" stroke-width="5.2" stroke-linejoin="round" stroke-linecap="butt" />
<line x1="548.70" y1="343.50" x2="548.70" y2="443.50" stroke="#ff3c3c" stroke-width="4.8" stroke-dasharray="13.7 8.1"/>
<line x1="965.50" y1="173.40" x2="965.50" y2="276.00" stroke="#ff3c3c" stroke-width="4.8" stroke-dasharray="13.7 8.1"/>
<line x1="473.60" y1="530.50" x2="473.60" y2="631.20" stroke="#d23cff" stroke-width="4.8" stroke-dasharray="13.7 8.1"/>
<line x1="911.80" y1="430.40" x2="911.80" y2="531.40" stroke="#d23cff" stroke-width="4.8" stroke-dasharray="13.7 8.1"/>
<use href="#dot" x="213.7" y="669.0"/>
<use href="#dot" x="221.5" y="668.2"/>
<use href="#dot" x="229.4" y="667.3"/>
<use href="#dot" x="237.2" y="666.5"/>
<use href="#dot" x="245.0" y="665.7"/>
<use href="#dot" x="252.9" y="664.5"/>
<use href="#dot" x="260.7" y="663.3"/>
<use href="#dot" x="268.6" y="662.1"/>
<use href="#dot" x="276.4" y="660.8"/>
<use href="#dot" x="284.2" y="659.2"/>
<use href="#dot" x="292.1" y="657.5"/>
<use href="#dot" x="299.9" y="655.1"/>
<use href="#dot" x="307.7" y="652.7"/>
<use href="#dot" x="315.6" y="650.5"/>
<use href="#dot" x="323.4" y="648.9"/>
<use href="#dot" x="331.3" y="647.3"/>
<use href="#dot" x="339.1" y="645.8"/>
<use href="#dot" x="346.9" y="644.7"/>
<use href="#dot" x="354.8" y="643.5"/>
<use href="#dot" x="362.6" y="641.6"/>
<use href="#dot" x="370.4" y="638.0"/>
<use href="#dot" x="378.3" y="634.4"/>
<use href="#dot" x="386.1" y="632.2"/>
<use href="#dot" x="394.0" y="629.5"/>
<use href="#dot" x="401.8" y="620.9"/>
<use href="#dot" x="409.6" y="618.6"/>
<use href="#dot" x="417.5" y="616.3"/>
<use href="#dot" x="425.3" y="610.3"/>
<use href="#dot" x="433.1" y="604.3"/>
<use href="#dot" x="441.0" y="598.1"/>
<use href="#dot" x="448.8" y="591.7"/>
<use href="#dot" x="456.6" y="580.3"/>
<use href="#dot" x="464.5" y="568.6"/>
<use href="#dot" x="472.3" y="554.7"/>
<use href="#dot" x="480.2" y="538.8"/>
<use href="#dot" x="488.0" y="526.8"/>
<use href="#dot" x="495.8" y="510.7"/>
<use href="#dot" x="503.7" y="487.8"/>
<use href="#dot" x="511.5" y="462.9"/>
<use href="#dot" x="519.3" y="437.7"/>
<use href="#dot" x="527.2" y="410.5"/>
<use href="#dot" x="535.0" y="387.6"/>
<use href="#dot" x="542.9" y="371.0"/>
<use href="#dot" x="550.7" y="364.5"/>
<use href="#dot" x="558.5" y="373.4"/>
<use href="#dot" x="566.4" y="396.5"/>
<use href="#dot" x="574.2" y="432.1"/>
<use href="#dot" x="582.0" y="470.8"/>
<use href="#dot" x="589.9" y="509.2"/>
<use href="#dot" x="597.7" y="543.6"/>
<use href="#dot" x="605.5" y="574.5"/>
<use href="#dot" x="613.4" y="596.4"/>
<use href="#dot" x="621.2" y="610.1"/>
<use href="#dot" x="629.1" y="619.7"/>
<use href="#dot" x="636.9" y="627.0"/>
<use href="#dot" x="644.7" y="634.0"/>
<use href="#dot" x="652.6" y="635.7"/>
<use href="#dot" x="660.4" y="639.3"/>
<use href="#dot" x="668.2" y="639.1"/>
<use href="#dot" x="676.1" y="638.3"/>
<use href="#dot" x="683.9" y="638.4"/>
<use href="#dot" x="691.8" y="640.1"/>
<use href="#dot" x="699.6" y="639.0"/>
<use href="#dot" x="707.4" y="636.6"/>
<use href="#dot" x="715.3" y="634.7"/>
<use href="#dot" x="723.1" y="636.4"/>
<use href="#dot" x="730.9" y="633.7"/>
<use href="#dot" x="738.8" y="628.7"/>
<use href="#dot" x="746.6" y="624.6"/>
<use href="#dot" x="754.5" y="622.0"/>
<use href="#dot" x="762.3" y="621.6"/>
<use href="#dot" x="770.1" y="617.6"/>
<use href="#dot" x="778.0" y="613.6"/>
<use href="#dot" x="785.8" y="610.1"/>
<use href="#dot" x="793.6" y="606.4"/>
<use href="#dot" x="801.5" y="601.4"/>
<use href="#dot" x="809.3" y="597.0"/>
<use href="#dot" x="817.1" y="594.3"/>
<use href="#dot" x="825.0" y="588.3"/>
<use href="#dot" x="832.8" y="578.2"/>
<use href="#dot" x="840.7" y="568.9"/>
<use href="#dot" x="848.5" y="560.7"/>
<use href="#dot" x="856.3" y="549.8"/>
<use href="#dot" x="864.2" y="536.0"/>
<use href="#dot" x="872.0" y="521.2"/>
<use href="#dot" x="879.8" y="501.7"/>
<use href="#dot" x="887.7" y="482.9"/>
<use href="#dot" x="895.5" y="457.7"/>
<use href="#dot" x="903.4" y="427.4"/>
<use href="#dot" x="911.2" y="396.8"/>
<use href="#dot" x="919.0" y="360.5"/>
<use href="#dot" x="926.9" y="319.9"/>
<use href="#dot" x="934.7" y="275.2"/>
<use href="#dot" x="942.5" y="235.6"/>
<use href="#dot" x="950.4" y="197.4"/>
<use href="#dot" x="958.2" y="172.0"/>
<use href="#dot" x="966.1" y="166.3"/>
<use href="#dot" x="973.9" y="183.7"/>
<use href="#dot" x="981.7" y="222.3"/>
<use href="#dot" x="989.6" y="276.5"/>
<use href="#dot" x="997.4" y="340.2"/>
<use href="#dot" x="1005.2" y="399.8"/>
<use href="#dot" x="1013.1" y="450.3"/>
<use href="#dot" x="1020.9" y="481.9"/>
<use href="#dot" x="1028.7" y="507.4"/>
<use href="#dot" x="1036.6" y="524.6"/>
<use href="#dot" x="1044.4" y="532.7"/>
<use href="#dot" x="1052.3" y="540.7"/>
<use href="#dot" x="1060.1" y="542.5"/>
<use href="#dot" x="1067.9" y="541.2"/>
<use href="#dot" x="1075.8" y="539.3"/>
<use href="#dot" x="1083.6" y="536.9"/>
<use href="#dot" x="1091.4" y="530.4"/>
<use href="#dot" x="1099.3" y="523.6"/>
<use href="#dot" x="1107.1" y="516.6"/>
<use href="#dot" x="1115.0" y="509.0"/>
<use href="#dot" x="1122.8" y="502.6"/>
<use href="#dot" x="1130.6" y="494.2"/>
<use href="#dot" x="1138.5" y="488.3"/>
<use href="#dot" x="1146.3" y="482.0"/>
<use href="#dot" x="1154.1" y="476.0"/>
<rect x="212" y="48.5" width="939" height="690.0" fill="none" stroke="#000" stroke-width="5.6" stroke-linejoin="miter"/>
<line x1="289.70" y1="738.00" x2="289.70" y2="724.70" stroke="#000" stroke-width="5.6" />
<line x1="446.44" y1="738.00" x2="446.44" y2="724.70" stroke="#000" stroke-width="5.6" />
<line x1="603.18" y1="738.00" x2="603.18" y2="724.70" stroke="#000" stroke-width="5.6" />
<line x1="759.92" y1="738.00" x2="759.92" y2="724.70" stroke="#000" stroke-width="5.6" />
<line x1="916.66" y1="738.00" x2="916.66" y2="724.70" stroke="#000" stroke-width="5.6" />
<line x1="1073.40" y1="738.00" x2="1073.40" y2="724.70" stroke="#000" stroke-width="5.6" />
<line x1="368.07" y1="738.00" x2="368.07" y2="731.50" stroke="#000" stroke-width="5.6" />
<line x1="524.81" y1="738.00" x2="524.81" y2="731.50" stroke="#000" stroke-width="5.6" />
<line x1="681.55" y1="738.00" x2="681.55" y2="731.50" stroke="#000" stroke-width="5.6" />
<line x1="838.29" y1="738.00" x2="838.29" y2="731.50" stroke="#000" stroke-width="5.6" />
<line x1="995.03" y1="738.00" x2="995.03" y2="731.50" stroke="#000" stroke-width="5.6" />
<text x="242.61" y="801.50" font-size="62.00" font-weight="bold" fill="#000">344</text>
<text x="400.11" y="801.50" font-size="62.00" font-weight="bold" fill="#000">342</text>
<text x="556.70" y="801.50" font-size="62.00" font-weight="bold" fill="#000">340</text>
<text x="713.28" y="801.50" font-size="62.00" font-weight="bold" fill="#000">338</text>
<text x="869.90" y="801.50" font-size="62.00" font-weight="bold" fill="#000">336</text>
<text x="1026.31" y="801.50" font-size="62.00" font-weight="bold" fill="#000">334</text>
<text x="321.34" y="879.90" font-size="81.75" font-weight="bold" fill="#000">Binding Energy (eV)</text>
<text transform="translate(169.40,653.77) rotate(-90)" font-size="82.30" font-weight="bold" fill="#000">Intensity (a.u.)</text>
<text x="20.53" y="90.30" font-size="87.97" font-weight="normal" fill="#000">(a)</text>
<rect x="226.7" y="69.8" width="107.1" height="52.6" fill="url(#gLegPink)" stroke="#111" stroke-width="1.6"/>
<rect x="226.7" y="136.9" width="107.1" height="52.2" fill="url(#gLegPurp)" stroke="#777" stroke-width="1.6"/>
<text x="347.50" y="111.60" font-size="47.00" font-weight="bold" fill="#000">Pd3d(Pd</text>
<text x="533.18" y="92.00" font-size="32.00" font-weight="normal" fill="#000">0</text>
<text x="556.59" y="111.60" font-size="47.00" font-weight="normal" fill="#000">)</text>
<text x="575.74" y="111.60" font-size="47.00" font-weight="bold" fill="#000">:</text>
<text x="621.76" y="111.60" font-size="48.36" font-weight="bold" fill="#000">52.63%</text>
<text x="347.50" y="178.40" font-size="47.00" font-weight="bold" fill="#000">Pd3d(Pd</text>
<text x="525.49" y="159.00" font-size="32.00" font-weight="normal" fill="#000">2+</text>
<text x="558.79" y="178.40" font-size="47.00" font-weight="normal" fill="#000">)</text>
<text x="576.84" y="178.40" font-size="47.00" font-weight="bold" fill="#000">:</text>
<text x="625.24" y="178.40" font-size="47.92" font-weight="bold" fill="#000">47.37%</text>
<text x="497.10" y="334.00" font-size="47.00" font-weight="bold" fill="#000">Pd3d</text>
<text x="602.90" y="347.60" font-size="32.00" font-weight="bold" fill="#000">3/2</text>
<text x="892.50" y="147.00" font-size="47.00" font-weight="bold" fill="#000">Pd3d</text>
<text x="998.22" y="160.20" font-size="32.00" font-weight="bold" fill="#000">5/2</text>
<text x="303.02" y="446.90" font-size="47.65" font-weight="normal" fill="#f86868">340.68 eV</text>
<text x="724.22" y="275.20" font-size="47.65" font-weight="normal" fill="#f86868">335.38 eV</text>
<text x="238.92" y="598.00" font-size="47.65" font-weight="normal" fill="#d23cf5">341.68 eV</text>
<text x="670.23" y="511.60" font-size="47.53" font-weight="normal" fill="#d23cf5">335.98 eV</text>
<path d="M1378,621.7L1379,621.6L1380,621.5L1381,621.4L1382,621.3L1383,621.2L1384,621.1L1385,621.0L1386,621.0L1387,620.9L1388,620.8L1389,620.7L1390,620.6L1391,620.5L1392,620.4L1393,620.3L1394,620.2L1395,620.2L1396,620.1L1397,620.0L1398,619.9L1399,619.8L1400,619.7L1401,619.7L1402,619.6L1403,619.5L1404,619.4L1405,619.3L1406,619.2L1407,619.2L1408,619.1L1409,619.0L1410,618.9L1411,618.9L1412,618.8L1413,618.7L1414,618.6L1415,618.5L1416,618.5L1417,618.4L1418,618.3L1419,618.3L1420,618.2L1421,618.1L1422,618.0L1423,618.0L1424,617.9L1425,617.8L1426,617.8L1427,617.7L1428,617.6L1429,617.6L1430,617.5L1431,617.4L1432,617.4L1433,617.3L1434,617.2L1435,617.2L1436,617.1L1437,617.1L1438,617.0L1439,617.0L1440,616.9L1441,616.8L1442,616.8L1443,616.7L1444,616.7L1445,616.6L1446,616.6L1447,616.5L1448,616.5L1449,616.4L1450,616.4L1451,616.3L1452,616.3L1453,616.2L1454,616.2L1455,616.1L1456,616.0L1457,616.0L1458,615.9L1459,615.9L1460,615.8L1461,615.8L1462,615.7L1463,615.7L1464,615.6L1465,615.6L1466,615.5L1467,615.5L1468,615.4L1469,615.4L1470,615.3L1471,615.3L1472,615.2L1473,615.2L1474,615.1L1475,615.1L1476,615.0L1477,615.0L1478,614.9L1479,614.9L1480,614.8L1481,614.7L1482,614.7L1483,614.6L1484,614.6L1485,614.5L1486,614.5L1487,614.4L1488,614.4L1489,614.3L1490,614.3L1491,614.2L1492,614.1L1493,614.1L1494,614.0L1495,614.0L1496,613.9L1497,613.9L1498,613.8L1499,613.8L1500,613.7L1501,613.7L1502,613.6L1503,613.6L1504,613.5L1505,613.5L1506,613.4L1507,613.4L1508,613.3L1509,613.2L1510,613.2L1511,613.1L1512,613.1L1513,613.0L1514,613.0L1515,612.9L1516,612.8L1517,612.8L1518,612.7L1519,612.7L1520,612.6L1521,612.5L1522,612.5L1523,612.4L1524,612.3L1525,612.3L1526,612.2L1527,612.1L1528,612.1L1529,612.0L1530,611.9L1531,611.9L1532,611.8L1533,611.7L1534,611.6L1535,611.6L1536,611.5L1537,611.4L1538,611.3L1539,611.2L1540,611.1L1541,611.1L1542,611.0L1543,610.9L1544,610.8L1545,610.7L1546,610.5L1547,610.4L1548,610.3L1549,610.2L1550,610.1L1551,610.0L1552,609.9L1553,609.7L1554,609.6L1555,609.5L1556,609.4L1557,609.2L1558,609.1L1559,609.0L1560,608.8L1561,608.7L1562,608.6L1563,608.4L1564,608.3L1565,608.2L1566,608.0L1567,607.9L1568,607.7L1569,607.6L1570,607.5L1571,607.3L1572,607.2L1573,607.0L1574,606.9L1575,606.7L1576,606.6L1577,606.4L1578,606.3L1579,606.2L1580,606.0L1581,605.9L1582,605.7L1583,605.6L1584,605.4L1585,605.3L1586,605.1L1587,605.0L1588,604.9L1589,604.7L1590,604.6L1591,604.4L1592,604.3L1593,604.2L1594,604.0L1595,603.9L1596,603.8L1597,603.7L1598,603.5L1599,603.4L1600,603.3L1601,603.2L1602,603.0L1603,602.9L1604,602.8L1605,602.7L1606,602.6L1607,602.5L1608,602.3L1609,602.2L1610,602.1L1611,602.0L1612,601.9L1613,601.8L1614,601.7L1615,601.6L1616,601.5L1617,601.4L1618,601.2L1619,601.1L1620,601.0L1621,600.9L1622,600.8L1623,600.7L1624,600.6L1625,600.5L1626,600.4L1627,600.3L1628,600.2L1629,600.1L1630,600.0L1631,599.8L1632,599.7L1633,599.6L1634,599.5L1635,599.4L1636,599.3L1637,599.1L1638,599.0L1639,598.9L1640,598.8L1641,598.7L1642,598.5L1643,598.4L1644,598.3L1645,598.1L1646,598.0L1647,597.9L1648,597.7L1649,597.6L1650,597.4L1651,597.3L1652,597.1L1653,597.0L1654,596.8L1655,596.7L1656,596.5L1657,596.3L1658,596.2L1659,596.0L1660,595.8L1661,595.6L1662,595.4L1663,595.2L1664,595.0L1665,594.8L1666,594.6L1667,594.4L1668,594.2L1669,593.9L1670,593.7L1671,593.5L1672,593.2L1673,593.0L1674,592.7L1675,592.5L1676,592.2L1677,591.9L1678,591.7L1679,591.4L1680,591.1L1681,590.8L1682,590.5L1683,590.2L1684,589.9L1685,589.5L1686,589.2L1687,588.8L1688,588.5L1689,588.1L1690,587.7L1691,587.3L1692,587.0L1693,586.6L1694,586.2L1695,585.8L1696,585.4L1697,585.0L1698,584.6L1699,584.2L1700,583.8L1701,583.4L1702,583.0L1703,582.6L1704,582.2L1705,581.8L1706,581.4L1707,581.0L1708,580.6L1709,580.2L1710,579.8L1711,579.4L1712,579.0L1713,578.5L1714,578.1L1715,577.7L1716,577.2L1717,576.8L1718,576.3L1719,575.8L1720,575.4L1721,574.9L1722,574.4L1723,573.8L1724,573.3L1725,572.7L1726,572.2L1727,571.6L1728,571.0L1729,570.3L1730,569.7L1731,569.0L1732,568.2L1733,567.5L1734,566.7L1735,565.8L1736,565.0L1737,564.1L1738,563.2L1739,562.3L1740,561.3L1741,560.4L1742,559.4L1743,558.4L1744,557.4L1745,556.4L1746,555.4L1747,554.4L1748,553.4L1749,552.3L1750,551.3L1751,550.2L1752,549.1L1753,547.9L1754,546.8L1755,545.6L1756,544.4L1757,543.2L1758,541.9L1759,540.6L1760,539.3L1761,537.9L1762,536.5L1763,535.0L1764,533.5L1765,532.0L1766,530.4L1767,528.7L1768,526.9L1769,525.1L1770,523.2L1771,521.2L1772,519.3L1773,517.2L1774,515.1L1775,513.0L1776,510.9L1777,508.7L1778,506.4L1779,504.0L1780,501.6L1781,499.1L1782,496.5L1783,493.9L1784,491.2L1785,488.4L1786,485.6L1787,482.7L1788,479.8L1789,476.7L1790,473.5L1791,470.3L1792,467.0L1793,463.5L1794,460.0L1795,456.3L1796,452.4L1797,448.4L1798,444.3L1799,440.1L1800,435.9L1801,431.7L1802,427.3L1803,422.9L1804,418.4L1805,413.7L1806,408.9L1807,403.9L1808,398.8L1809,393.7L1810,388.5L1811,383.5L1812,378.4L1813,373.3L1814,368.2L1815,363.1L1816,358.0L1817,352.9L1818,347.9L1819,342.8L1820,337.7L1821,332.7L1822,327.6L1823,322.5L1824,317.4L1825,312.1L1826,306.9L1827,301.8L1828,296.9L1829,292.2L1830,287.8L1831,283.4L1832,279.0L1833,274.8L1834,270.8L1835,267.2L1836,263.9L1837,261.0L1838,258.3L1839,255.9L1840,253.8L1841,252.0L1842,250.3L1843,248.7L1844,247.9L1845,248.0L1846,248.7L1847,249.8L1848,251.0L1849,252.3L1850,253.8L1851,255.6L1852,257.7L1853,260.0L1854,262.7L1855,266.1L1856,270.6L1857,275.8L1858,281.6L1859,287.7L1860,293.8L1861,299.7L1862,305.5L1863,311.4L1864,317.4L1865,323.6L1866,329.9L1867,336.4L1868,343.1L1869,350.0L1870,357.2L1871,364.5L1872,372.0L1873,379.8L1874,387.7L1875,395.8L1876,404.2L1877,413.1L1878,422.2L1879,431.2L1880,440.0L1881,448.7L1882,457.4L1883,466.0L1884,474.2L1885,481.8L1886,489.0L1887,495.9L1888,502.5L1889,508.6L1890,514.1L1891,519.0L1892,523.4L1893,527.6L1894,531.5L1895,535.2L1896,538.7L1897,542.1L1898,545.4L1899,548.6L1900,551.8L1901,554.8L1902,557.5L1903,560.1L1904,562.4L1905,564.4L1906,566.3L1907,568.1L1908,569.8L1909,571.3L1910,572.7L1911,573.9L1912,574.8L1913,575.5L1914,576.1L1915,576.8L1916,577.4L1917,577.9L1918,578.4L1919,578.8L1920,579.1L1921,579.4L1922,579.5L1923,579.5L1924,579.5L1925,579.5L1926,579.5L1927,579.5L1928,579.5L1929,579.5L1930,579.5L1931,579.5L1932,579.5L1933,579.4L1934,579.2L1935,578.9L1936,578.6L1937,578.2L1938,577.7L1939,577.1L1940,576.6L1941,576.0L1942,575.3L1943,574.7L1944,574.1L1945,573.4L1946,572.7L1947,572.0L1948,571.1L1949,570.2L1950,569.2L1951,568.1L1952,567.0L1953,565.9L1954,564.8L1955,563.7L1956,562.5L1957,561.4L1958,560.2L1959,559.1L1960,557.9L1961,556.7L1962,555.5L1963,554.3L1964,553.0L1965,551.7L1966,550.4L1967,549.0L1968,547.6L1969,546.1L1970,544.6L1971,543.1L1972,541.4L1973,539.7L1974,537.9L1975,536.1L1976,534.2L1977,532.2L1978,530.2L1979,528.2L1980,526.1L1981,524.0L1982,521.8L1983,519.6L1984,517.4L1985,515.1L1986,512.7L1987,510.2L1988,507.6L1989,504.9L1990,502.1L1991,499.1L1992,495.9L1993,492.5L1994,489.0L1995,485.3L1996,481.5L1997,477.5L1998,473.1L1999,468.6L2000,463.9L2001,459.3L2002,454.8L2003,450.4L2004,445.9L2005,441.4L2006,436.7L2007,431.7L2008,426.5L2009,421.2L2010,415.7L2011,410.0L2012,404.0L2013,397.6L2014,391.0L2015,384.1L2016,377.2L2017,370.1L2018,362.8L2019,355.4L2020,348.0L2021,340.6L2022,333.5L2023,326.8L2024,320.3L2025,314.2L2026,308.2L2027,302.3L2028,296.6L2029,290.8L2030,284.9L2031,278.9L2032,272.7L2033,266.1L2034,259.3L2035,252.2L2036,245.2L2037,238.3L2038,231.6L2039,225.2L2040,219.4L2041,213.7L2042,208.0L2043,202.5L2044,197.4L2045,192.6L2046,188.4L2047,184.9L2048,181.8L2049,179.1L2050,176.9L2051,175.2L2052,173.6L2053,172.4L2054,172.0L2055,172.7L2056,174.1L2057,176.0L2058,178.0L2059,180.6L2060,183.7L2061,187.3L2062,191.4L2063,196.3L2064,202.1L2065,208.8L2066,215.9L2067,223.5L2068,231.2L2069,238.9L2070,246.7L2071,254.8L2072,263.3L2073,272.1L2074,281.2L2075,290.8L2076,300.7L2077,311.3L2078,322.6L2079,334.4L2080,346.6L2081,358.9L2082,371.7L2083,385.2L2084,399.0L2085,412.7L2086,425.7L2087,437.7L2088,449.4L2089,460.8L2090,471.9L2091,482.6L2092,492.9L2093,502.8L2094,512.1L2095,520.9L2096,529.3L2097,537.3L2098,545.1L2099,552.4L2100,559.4L2101,565.9L2102,572.0L2103,577.7L2104,583.0L2105,588.0L2106,592.8L2107,597.3L2108,601.6L2109,605.8L2110,609.9L2111,613.9L2112,617.7L2113,621.2L2114,624.3L2115,627.0L2116,629.4L2117,631.6L2118,633.7L2119,635.6L2120,637.5L2121,639.2L2122,640.8L2123,642.3L2124,643.7L2125,645.0L2126,646.3L2127,647.5L2128,648.6L2129,649.7L2130,650.7L2131,651.7L2132,652.6L2133,653.5L2134,654.3L2135,655.0L2136,655.7L2137,656.4L2138,657.0L2139,657.7L2140,658.3L2141,658.9L2142,659.4L2143,659.9L2144,660.4L2145,660.9L2146,661.3L2147,661.7L2148,662.1L2149,662.4L2150,662.8L2151,663.1L2152,663.4L2153,663.7L2154,664.0L2155,664.3L2156,664.6L2157,664.9L2158,665.1L2159,665.4L2160,665.6L2161,665.9L2162,666.1L2163,666.3L2164,666.6L2165,666.8L2166,667.0L2167,667.2L2168,667.4L2169,667.5L2170,667.7L2171,667.9L2172,668.1L2173,668.2L2174,668.4L2175,668.5L2176,668.6L2177,668.8L2178,668.9L2179,669.0L2180,669.2L2181,669.3L2182,669.4L2183,669.6L2184,669.7L2185,669.8L2186,669.9L2187,670.0L2188,670.1L2189,670.3L2190,670.4L2191,670.5L2192,670.6L2193,670.7L2194,670.8L2195,670.9L2196,671.0L2197,671.1L2198,671.2L2199,671.2L2200,671.3L2201,671.4L2202,671.5L2203,671.6L2204,671.6L2205,671.7L2206,671.8L2207,671.9L2208,671.9L2209,672.0L2210,672.0L2211,672.1L2212,672.1L2213,672.2L2214,672.2L2215,672.3L2216,672.3L2217,672.4L2218,672.4L2219,672.5L2220,672.5L2221,672.5L2222,672.6L2223,672.6L2224,672.6L2225,672.7L2226,672.7L2227,672.7L2228,672.8L2229,672.8L2230,672.8L2231,672.9L2232,672.9L2233,672.9L2234,672.9L2235,673.0L2236,673.0L2237,673.0L2238,673.1L2239,673.1L2240,673.1L2241,673.1L2242,673.1L2243,673.2L2244,673.2L2245,673.2L2246,673.2L2247,673.3L2248,673.3L2249,673.3L2250,673.3L2251,673.3L2252,673.4L2253,673.4L2254,673.4L2255,673.4L2256,673.4L2257,673.4L2258,673.5L2259,673.5L2260,673.5L2261,673.5L2262,673.5L2263,673.6L2264,673.6L2265,673.6L2266,673.6L2267,673.6L2268,673.6L2269,673.6L2270,673.7L2271,673.7L2272,673.7L2273,673.7L2274,673.7L2275,673.7L2276,673.8L2277,673.8L2278,673.8L2279,673.8L2280,673.8L2281,673.8L2282,673.8L2283,673.9L2284,673.9L2285,673.9L2286,673.9L2287,673.9L2288,673.9L2289,673.9L2290,674.0L2291,674.0L2292,674.0L2293,674.0L2294,674.0L2295,674.0L2296,674.0L2297,674.0L2298,674.1L2299,674.1L2300,674.1L2301,674.1L2302,674.1L2303,674.1L2304,674.1L2305,674.1L2306,674.1L2307,674.1L2308,674.1L2309,674.2L2310,674.2L2311,674.2L2312,674.2L2313,674.2L2314,674.2L2315,674.2L2316,674.2L2317,674.2L2318,674.2L2318,677.3L2317,677.3L2316,677.3L2315,677.3L2314,677.3L2313,677.3L2312,677.3L2311,677.3L2310,677.3L2309,677.3L2308,677.3L2307,677.3L2306,677.3L2305,677.3L2304,677.3L2303,677.3L2302,677.3L2301,677.3L2300,677.3L2299,677.3L2298,677.3L2297,677.3L2296,677.3L2295,677.3L2294,677.3L2293,677.3L2292,677.3L2291,677.3L2290,677.3L2289,677.3L2288,677.3L2287,677.3L2286,677.3L2285,677.3L2284,677.3L2283,677.3L2282,677.3L2281,677.3L2280,677.3L2279,677.3L2278,677.3L2277,677.3L2276,677.3L2275,677.3L2274,677.3L2273,677.3L2272,677.3L2271,677.3L2270,677.3L2269,677.3L2268,677.3L2267,677.3L2266,677.3L2265,677.3L2264,677.3L2263,677.3L2262,677.3L2261,677.3L2260,677.3L2259,677.3L2258,677.3L2257,677.3L2256,677.3L2255,677.3L2254,677.3L2253,677.3L2252,677.3L2251,677.3L2250,677.3L2249,677.3L2248,677.3L2247,677.3L2246,677.3L2245,677.3L2244,677.3L2243,677.3L2242,677.3L2241,677.3L2240,677.3L2239,677.3L2238,677.3L2237,677.3L2236,677.3L2235,677.3L2234,677.3L2233,677.3L2232,677.3L2231,677.3L2230,677.3L2229,677.3L2228,677.3L2227,677.3L2226,677.3L2225,677.3L2224,677.3L2223,677.3L2222,677.3L2221,677.3L2220,677.3L2219,677.3L2218,677.3L2217,677.3L2216,677.3L2215,677.3L2214,677.3L2213,677.3L2212,677.3L2211,677.3L2210,677.3L2209,677.3L2208,677.3L2207,677.3L2206,677.3L2205,677.3L2204,677.3L2203,677.3L2202,677.3L2201,677.3L2200,677.3L2199,677.3L2198,677.3L2197,677.3L2196,677.3L2195,677.3L2194,677.3L2193,677.3L2192,677.3L2191,677.3L2190,677.3L2189,677.3L2188,677.3L2187,677.3L2186,677.3L2185,677.3L2184,677.3L2183,677.3L2182,677.3L2181,677.3L2180,677.3L2179,677.3L2178,677.3L2177,677.3L2176,677.3L2175,677.3L2174,677.3L2173,677.3L2172,677.3L2171,677.3L2170,677.3L2169,677.3L2168,677.3L2167,677.3L2166,677.3L2165,677.3L2164,677.3L2163,677.3L2162,677.3L2161,677.3L2160,677.3L2159,677.3L2158,677.3L2157,677.3L2156,677.3L2155,677.3L2154,677.3L2153,677.3L2152,677.3L2151,677.3L2150,677.3L2149,677.3L2148,677.3L2147,677.3L2146,677.3L2145,677.3L2144,677.3L2143,677.3L2142,677.3L2141,677.3L2140,677.3L2139,677.3L2138,677.3L2137,677.3L2136,677.3L2135,677.3L2134,677.3L2133,677.3L2132,677.3L2131,677.3L2130,677.3L2129,677.3L2128,677.3L2127,677.3L2126,677.3L2125,677.3L2124,677.3L2123,677.3L2122,677.3L2121,677.3L2120,677.3L2119,677.3L2118,677.3L2117,677.3L2116,677.3L2115,677.3L2114,677.3L2113,677.3L2112,677.3L2111,677.3L2110,677.3L2109,677.3L2108,677.3L2107,677.3L2106,677.3L2105,677.3L2104,677.3L2103,677.3L2102,677.3L2101,677.3L2100,677.3L2099,677.3L2098,677.3L2097,677.3L2096,677.3L2095,677.3L2094,677.3L2093,677.3L2092,677.3L2091,677.3L2090,677.3L2089,677.2L2088,677.2L2087,677.1L2086,677.0L2085,676.9L2084,676.7L2083,676.6L2082,676.4L2081,676.2L2080,676.0L2079,675.7L2078,675.5L2077,675.2L2076,675.0L2075,674.7L2074,674.4L2073,674.1L2072,673.8L2071,673.5L2070,673.2L2069,672.9L2068,672.5L2067,672.2L2066,671.9L2065,671.6L2064,671.3L2063,670.9L2062,670.6L2061,670.3L2060,670.0L2059,669.7L2058,669.4L2057,669.2L2056,668.9L2055,668.6L2054,668.4L2053,668.1L2052,667.9L2051,667.7L2050,667.5L2049,667.4L2048,667.2L2047,667.1L2046,666.9L2045,666.8L2044,666.6L2043,666.5L2042,666.4L2041,666.2L2040,666.1L2039,665.9L2038,665.8L2037,665.7L2036,665.5L2035,665.4L2034,665.3L2033,665.2L2032,665.0L2031,664.9L2030,664.8L2029,664.7L2028,664.5L2027,664.4L2026,664.3L2025,664.2L2024,664.1L2023,663.9L2022,663.8L2021,663.7L2020,663.6L2019,663.5L2018,663.4L2017,663.3L2016,663.2L2015,663.1L2014,663.0L2013,662.9L2012,662.8L2011,662.7L2010,662.6L2009,662.5L2008,662.4L2007,662.3L2006,662.2L2005,662.1L2004,662.0L2003,662.0L2002,661.9L2001,661.8L2000,661.7L1999,661.6L1998,661.5L1997,661.5L1996,661.4L1995,661.3L1994,661.3L1993,661.2L1992,661.1L1991,661.1L1990,661.0L1989,660.9L1988,660.9L1987,660.8L1986,660.8L1985,660.7L1984,660.6L1983,660.6L1982,660.5L1981,660.5L1980,660.5L1979,660.4L1978,660.4L1977,660.3L1976,660.3L1975,660.2L1974,660.2L1973,660.2L1972,660.1L1971,660.1L1970,660.1L1969,660.0L1968,660.0L1967,659.9L1966,659.9L1965,659.9L1964,659.9L1963,659.8L1962,659.8L1961,659.8L1960,659.7L1959,659.7L1958,659.7L1957,659.7L1956,659.6L1955,659.6L1954,659.6L1953,659.6L1952,659.5L1951,659.5L1950,659.5L1949,659.5L1948,659.4L1947,659.4L1946,659.4L1945,659.4L1944,659.4L1943,659.3L1942,659.3L1941,659.3L1940,659.3L1939,659.3L1938,659.3L1937,659.2L1936,659.2L1935,659.2L1934,659.2L1933,659.2L1932,659.1L1931,659.1L1930,659.1L1929,659.1L1928,659.1L1927,659.1L1926,659.0L1925,659.0L1924,659.0L1923,659.0L1922,659.0L1921,659.0L1920,658.9L1919,658.9L1918,658.9L1917,658.9L1916,658.9L1915,658.9L1914,658.8L1913,658.8L1912,658.8L1911,658.8L1910,658.8L1909,658.7L1908,658.7L1907,658.7L1906,658.7L1905,658.7L1904,658.6L1903,658.6L1902,658.6L1901,658.6L1900,658.6L1899,658.5L1898,658.5L1897,658.5L1896,658.5L1895,658.4L1894,658.4L1893,658.4L1892,658.3L1891,658.3L1890,658.3L1889,658.3L1888,658.2L1887,658.2L1886,658.2L1885,658.1L1884,658.1L1883,658.1L1882,658.0L1881,658.0L1880,657.9L1879,657.9L1878,657.9L1877,657.8L1876,657.8L1875,657.7L1874,657.7L1873,657.7L1872,657.6L1871,657.6L1870,657.5L1869,657.5L1868,657.4L1867,657.4L1866,657.3L1865,657.3L1864,657.2L1863,657.1L1862,657.1L1861,657.0L1860,656.8L1859,656.7L1858,656.6L1857,656.4L1856,656.3L1855,656.1L1854,655.9L1853,655.7L1852,655.5L1851,655.3L1850,655.1L1849,654.9L1848,654.6L1847,654.4L1846,654.1L1845,653.9L1844,653.7L1843,653.4L1842,653.2L1841,652.9L1840,652.7L1839,652.4L1838,652.2L1837,651.9L1836,651.7L1835,651.4L1834,651.2L1833,651.0L1832,650.8L1831,650.5L1830,650.3L1829,650.1L1828,650.0L1827,649.8L1826,649.6L1825,649.5L1824,649.3L1823,649.2L1822,649.1L1821,649.0L1820,648.8L1819,648.7L1818,648.6L1817,648.5L1816,648.4L1815,648.3L1814,648.2L1813,648.1L1812,648.0L1811,647.9L1810,647.8L1809,647.7L1808,647.6L1807,647.5L1806,647.4L1805,647.3L1804,647.2L1803,647.1L1802,647.0L1801,646.9L1800,646.8L1799,646.7L1798,646.7L1797,646.6L1796,646.5L1795,646.4L1794,646.3L1793,646.3L1792,646.2L1791,646.1L1790,646.1L1789,646.0L1788,645.9L1787,645.9L1786,645.8L1785,645.8L1784,645.7L1783,645.6L1782,645.6L1781,645.5L1780,645.5L1779,645.5L1778,645.4L1777,645.4L1776,645.3L1775,645.3L1774,645.2L1773,645.2L1772,645.2L1771,645.1L1770,645.1L1769,645.0L1768,645.0L1767,645.0L1766,644.9L1765,644.9L1764,644.8L1763,644.8L1762,644.8L1761,644.7L1760,644.7L1759,644.7L1758,644.6L1757,644.6L1756,644.6L1755,644.5L1754,644.5L1753,644.5L1752,644.4L1751,644.4L1750,644.4L1749,644.3L1748,644.3L1747,644.3L1746,644.3L1745,644.2L1744,644.2L1743,644.2L1742,644.1L1741,644.1L1740,644.1L1739,644.1L1738,644.0L1737,644.0L1736,644.0L1735,644.0L1734,643.9L1733,643.9L1732,643.9L1731,643.9L1730,643.9L1729,643.8L1728,643.8L1727,643.8L1726,643.8L1725,643.7L1724,643.7L1723,643.7L1722,643.7L1721,643.7L1720,643.6L1719,643.6L1718,643.6L1717,643.6L1716,643.6L1715,643.5L1714,643.5L1713,643.5L1712,643.5L1711,643.5L1710,643.4L1709,643.4L1708,643.4L1707,643.4L1706,643.4L1705,643.4L1704,643.3L1703,643.3L1702,643.3L1701,643.3L1700,643.3L1699,643.2L1698,643.2L1697,643.2L1696,643.2L1695,643.2L1694,643.2L1693,643.1L1692,643.1L1691,643.1L1690,643.1L1689,643.1L1688,643.1L1687,643.0L1686,643.0L1685,643.0L1684,643.0L1683,643.0L1682,643.0L1681,642.9L1680,642.9L1679,642.9L1678,642.9L1677,642.9L1676,642.9L1675,642.9L1674,642.8L1673,642.8L1672,642.8L1671,642.8L1670,642.8L1669,642.8L1668,642.7L1667,642.7L1666,642.7L1665,642.7L1664,642.7L1663,642.7L1662,642.7L1661,642.6L1660,642.6L1659,642.6L1658,642.6L1657,642.6L1656,642.6L1655,642.6L1654,642.5L1653,642.5L1652,642.5L1651,642.5L1650,642.5L1649,642.5L1648,642.5L1647,642.5L1646,642.4L1645,642.4L1644,642.4L1643,642.4L1642,642.4L1641,642.4L1640,642.4L1639,642.4L1638,642.3L1637,642.3L1636,642.3L1635,642.3L1634,642.3L1633,642.3L1632,642.3L1631,642.3L1630,642.2L1629,642.2L1628,642.2L1627,642.2L1626,642.2L1625,642.2L1624,642.2L1623,642.2L1622,642.1L1621,642.1L1620,642.1L1619,642.1L1618,642.1L1617,642.1L1616,642.1L1615,642.1L1614,642.1L1613,642.0L1612,642.0L1611,642.0L1610,642.0L1609,642.0L1608,642.0L1607,642.0L1606,642.0L1605,642.0L1604,641.9L1603,641.9L1602,641.9L1601,641.9L1600,641.9L1599,641.9L1598,641.9L1597,641.9L1596,641.9L1595,641.8L1594,641.8L1593,641.8L1592,641.8L1591,641.8L1590,641.8L1589,641.8L1588,641.8L1587,641.8L1586,641.7L1585,641.7L1584,641.7L1583,641.7L1582,641.7L1581,641.7L1580,641.7L1579,641.7L1578,641.7L1577,641.7L1576,641.6L1575,641.6L1574,641.6L1573,641.6L1572,641.6L1571,641.6L1570,641.6L1569,641.6L1568,641.6L1567,641.6L1566,641.5L1565,641.5L1564,641.5L1563,641.5L1562,641.5L1561,641.5L1560,641.5L1559,641.5L1558,641.5L1557,641.5L1556,641.5L1555,641.4L1554,641.4L1553,641.4L1552,641.4L1551,641.4L1550,641.4L1549,641.4L1548,641.4L1547,641.4L1546,641.4L1545,641.3L1544,641.3L1543,641.3L1542,641.3L1541,641.3L1540,641.3L1539,641.3L1538,641.3L1537,641.3L1536,641.3L1535,641.2L1534,641.2L1533,641.2L1532,641.2L1531,641.2L1530,641.2L1529,641.2L1528,641.2L1527,641.2L1526,641.2L1525,641.2L1524,641.1L1523,641.1L1522,641.1L1521,641.1L1520,641.1L1519,641.1L1518,641.1L1517,641.1L1516,641.1L1515,641.1L1514,641.0L1513,641.0L1512,641.0L1511,641.0L1510,641.0L1509,641.0L1508,641.0L1507,641.0L1506,641.0L1505,641.0L1504,641.0L1503,640.9L1502,640.9L1501,640.9L1500,640.9L1499,640.9L1498,640.9L1497,640.9L1496,640.9L1495,640.9L1494,640.9L1493,640.9L1492,640.8L1491,640.8L1490,640.8L1489,640.8L1488,640.8L1487,640.8L1486,640.8L1485,640.8L1484,640.8L1483,640.8L1482,640.8L1481,640.8L1480,640.7L1479,640.7L1478,640.7L1477,640.7L1476,640.7L1475,640.7L1474,640.7L1473,640.7L1472,640.7L1471,640.7L1470,640.7L1469,640.6L1468,640.6L1467,640.6L1466,640.6L1465,640.6L1464,640.6L1463,640.6L1462,640.6L1461,640.6L1460,640.6L1459,640.6L1458,640.6L1457,640.6L1456,640.5L1455,640.5L1454,640.5L1453,640.5L1452,640.5L1451,640.5L1450,640.5L1449,640.5L1448,640.5L1447,640.5L1446,640.5L1445,640.5L1444,640.4L1443,640.4L1442,640.4L1441,640.4L1440,640.4L1439,640.4L1438,640.4L1437,640.4L1436,640.4L1435,640.4L1434,640.4L1433,640.4L1432,640.4L1431,640.3L1430,640.3L1429,640.3L1428,640.3L1427,640.3L1426,640.3L1425,640.3L1424,640.3L1423,640.3L1422,640.3L1421,640.3L1420,640.3L1419,640.3L1418,640.3L1417,640.2L1416,640.2L1415,640.2L1414,640.2L1413,640.2L1412,640.2L1411,640.2L1410,640.2L1409,640.2L1408,640.2L1407,640.2L1406,640.2L1405,640.2L1404,640.2L1403,640.2L1402,640.1L1401,640.1L1400,640.1L1399,640.1L1398,640.1L1397,640.1L1396,640.1L1395,640.1L1394,640.1L1393,640.1L1392,640.1L1391,640.1L1390,640.1L1389,640.1L1388,640.1L1387,640.1L1386,640.0L1385,640.0L1384,640.0L1383,640.0L1382,640.0L1381,640.0L1380,640.0L1379,640.0L1378,640.0 Z" fill="url(#gBlueB)" stroke="none" />
<path d="M1378,640.0L1379,640.0L1380,640.0L1381,640.0L1382,640.0L1383,640.0L1384,640.0L1385,640.0L1386,640.0L1387,640.1L1388,640.1L1389,640.1L1390,640.1L1391,640.1L1392,640.1L1393,640.1L1394,640.1L1395,640.1L1396,640.1L1397,640.1L1398,640.1L1399,640.1L1400,640.1L1401,640.1L1402,640.1L1403,640.2L1404,640.2L1405,640.2L1406,640.2L1407,640.2L1408,640.2L1409,640.2L1410,640.2L1411,640.2L1412,640.2L1413,640.2L1414,640.2L1415,640.2L1416,640.2L1417,640.2L1418,640.3L1419,640.3L1420,640.3L1421,640.3L1422,640.3L1423,640.3L1424,640.3L1425,640.3L1426,640.3L1427,640.3L1428,640.3L1429,640.3L1430,640.3L1431,640.3L1432,640.4L1433,640.4L1434,640.4L1435,640.4L1436,640.4L1437,640.4L1438,640.4L1439,640.4L1440,640.4L1441,640.4L1442,640.4L1443,640.4L1444,640.4L1445,640.5L1446,640.5L1447,640.5L1448,640.5L1449,640.5L1450,640.5L1451,640.5L1452,640.5L1453,640.5L1454,640.5L1455,640.5L1456,640.5L1457,640.6L1458,640.6L1459,640.6L1460,640.6L1461,640.6L1462,640.6L1463,640.6L1464,640.6L1465,640.6L1466,640.6L1467,640.6L1468,640.6L1469,640.6L1470,640.7L1471,640.7L1472,640.7L1473,640.7L1474,640.7L1475,640.7L1476,640.7L1477,640.7L1478,640.7L1479,640.7L1480,640.7L1481,640.8L1482,640.8L1483,640.8L1484,640.8L1485,640.8L1486,640.8L1487,640.8L1488,640.8L1489,640.8L1490,640.8L1491,640.8L1492,640.8L1493,640.9L1494,640.9L1495,640.9L1496,640.9L1497,640.9L1498,640.9L1499,640.9L1500,640.9L1501,640.9L1502,640.9L1503,640.9L1504,641.0L1505,641.0L1506,641.0L1507,641.0L1508,641.0L1509,641.0L1510,641.0L1511,641.0L1512,641.0L1513,641.0L1514,641.0L1515,641.1L1516,641.1L1517,641.1L1518,641.1L1519,641.1L1520,641.1L1521,641.1L1522,641.1L1523,641.1L1524,641.1L1525,641.2L1526,641.2L1527,641.2L1528,641.2L1529,641.2L1530,641.2L1531,641.2L1532,641.2L1533,641.2L1534,641.2L1535,641.2L1536,641.3L1537,641.3L1538,641.3L1539,641.3L1540,641.3L1541,641.3L1542,641.3L1543,641.3L1544,641.3L1545,641.3L1546,641.4L1547,641.4L1548,641.4L1549,641.4L1550,641.4L1551,641.4L1552,641.4L1553,641.4L1554,641.4L1555,641.4L1556,641.5L1557,641.5L1558,641.5L1559,641.5L1560,641.5L1561,641.5L1562,641.5L1563,641.5L1564,641.5L1565,641.5L1566,641.5L1567,641.6L1568,641.6L1569,641.6L1570,641.6L1571,641.6L1572,641.6L1573,641.6L1574,641.6L1575,641.6L1576,641.6L1577,641.7L1578,641.7L1579,641.7L1580,641.7L1581,641.7L1582,641.7L1583,641.7L1584,641.7L1585,641.7L1586,641.7L1587,641.8L1588,641.8L1589,641.8L1590,641.8L1591,641.8L1592,641.8L1593,641.8L1594,641.8L1595,641.8L1596,641.9L1597,641.9L1598,641.9L1599,641.9L1600,641.9L1601,641.9L1602,641.9L1603,641.9L1604,641.9L1605,642.0L1606,642.0L1607,642.0L1608,642.0L1609,642.0L1610,642.0L1611,642.0L1612,642.0L1613,642.0L1614,642.1L1615,642.1L1616,642.1L1617,642.1L1618,642.1L1619,642.1L1620,642.1L1621,642.1L1622,642.1L1623,642.2L1624,642.2L1625,642.2L1626,642.2L1627,642.2L1628,642.2L1629,642.2L1630,642.2L1631,642.3L1632,642.3L1633,642.3L1634,642.3L1635,642.3L1636,642.3L1637,642.3L1638,642.3L1639,642.4L1640,642.4L1641,642.4L1642,642.4L1643,642.4L1644,642.4L1645,642.4L1646,642.4L1647,642.5L1648,642.5L1649,642.5L1650,642.5L1651,642.5L1652,642.5L1653,642.5L1654,642.5L1655,642.6L1656,642.6L1657,642.6L1658,642.6L1659,642.6L1660,642.6L1661,642.6L1662,642.7L1663,642.7L1664,642.7L1665,642.7L1666,642.7L1667,642.7L1668,642.7L1669,642.8L1670,642.8L1671,642.8L1672,642.8L1673,642.8L1674,642.8L1675,642.9L1676,642.9L1677,642.9L1678,642.9L1679,642.9L1680,642.9L1681,642.9L1682,643.0L1683,643.0L1684,643.0L1685,643.0L1686,643.0L1687,643.0L1688,643.1L1689,643.1L1690,643.1L1691,643.1L1692,643.1L1693,643.1L1694,643.2L1695,643.2L1696,643.2L1697,643.2L1698,643.2L1699,643.2L1700,643.3L1701,643.3L1702,643.3L1703,643.3L1704,643.3L1705,643.4L1706,643.4L1707,643.4L1708,643.4L1709,643.4L1710,643.4L1711,643.5L1712,643.5L1713,643.5L1714,643.5L1715,643.5L1716,643.6L1717,643.6L1718,643.6L1719,643.6L1720,643.6L1721,643.7L1722,643.7L1723,643.7L1724,643.7L1725,643.7L1726,643.8L1727,643.8L1728,643.8L1729,643.8L1730,643.9L1731,643.9L1732,643.9L1733,643.9L1734,643.9L1735,644.0L1736,644.0L1737,644.0L1738,644.0L1739,644.1L1740,644.1L1741,644.1L1742,644.1L1743,644.2L1744,644.2L1745,644.2L1746,644.3L1747,644.3L1748,644.3L1749,644.3L1750,644.4L1751,644.4L1752,644.4L1753,644.5L1754,644.5L1755,644.5L1756,644.6L1757,644.6L1758,644.6L1759,644.7L1760,644.7L1761,644.7L1762,644.8L1763,644.8L1764,644.8L1765,644.9L1766,644.9L1767,645.0L1768,645.0L1769,645.0L1770,645.1L1771,645.1L1772,645.2L1773,645.2L1774,645.2L1775,645.3L1776,645.3L1777,645.4L1778,645.4L1779,645.5L1780,645.5L1781,645.5L1782,645.6L1783,645.6L1784,645.7L1785,645.8L1786,645.8L1787,645.9L1788,645.9L1789,646.0L1790,646.1L1791,646.1L1792,646.2L1793,646.3L1794,646.3L1795,646.4L1796,646.5L1797,646.6L1798,646.7L1799,646.7L1800,646.8L1801,646.9L1802,647.0L1803,647.1L1804,647.2L1805,647.3L1806,647.4L1807,647.5L1808,647.6L1809,647.7L1810,647.8L1811,647.9L1812,648.0L1813,648.1L1814,648.2L1815,648.3L1816,648.4L1817,648.5L1818,648.6L1819,648.7L1820,648.8L1821,649.0L1822,649.1L1823,649.2L1824,649.3L1825,649.5L1826,649.6L1827,649.8L1828,650.0L1829,650.1L1830,650.3L1831,650.5L1832,650.8L1833,651.0L1834,651.2L1835,651.4L1836,651.7L1837,651.9L1838,652.2L1839,652.4L1840,652.7L1841,652.9L1842,653.2L1843,653.4L1844,653.7L1845,653.9L1846,654.1L1847,654.4L1848,654.6L1849,654.9L1850,655.1L1851,655.3L1852,655.5L1853,655.7L1854,655.9L1855,656.1L1856,656.3L1857,656.4L1858,656.6L1859,656.7L1860,656.8L1861,657.0L1862,657.1L1863,657.1L1864,657.2L1865,657.3L1866,657.3L1867,657.4L1868,657.4L1869,657.5L1870,657.5L1871,657.6L1872,657.6L1873,657.7L1874,657.7L1875,657.7L1876,657.8L1877,657.8L1878,657.9L1879,657.9L1880,657.9L1881,658.0L1882,658.0L1883,658.1L1884,658.1L1885,658.1L1886,658.2L1887,658.2L1888,658.2L1889,658.3L1890,658.3L1891,658.3L1892,658.3L1893,658.4L1894,658.4L1895,658.4L1896,658.5L1897,658.5L1898,658.5L1899,658.5L1900,658.6L1901,658.6L1902,658.6L1903,658.6L1904,658.6L1905,658.7L1906,658.7L1907,658.7L1908,658.7L1909,658.7L1910,658.8L1911,658.8L1912,658.8L1913,658.8L1914,658.8L1915,658.9L1916,658.9L1917,658.9L1918,658.9L1919,658.9L1920,658.9L1921,659.0L1922,659.0L1923,659.0L1924,659.0L1925,659.0L1926,659.0L1927,659.1L1928,659.1L1929,659.1L1930,659.1L1931,659.1L1932,659.1L1933,659.2L1934,659.2L1935,659.2L1936,659.2L1937,659.2L1938,659.3L1939,659.3L1940,659.3L1941,659.3L1942,659.3L1943,659.3L1944,659.4L1945,659.4L1946,659.4L1947,659.4L1948,659.4L1949,659.5L1950,659.5L1951,659.5L1952,659.5L1953,659.6L1954,659.6L1955,659.6L1956,659.6L1957,659.7L1958,659.7L1959,659.7L1960,659.7L1961,659.8L1962,659.8L1963,659.8L1964,659.9L1965,659.9L1966,659.9L1967,659.9L1968,660.0L1969,660.0L1970,660.1L1971,660.1L1972,660.1L1973,660.2L1974,660.2L1975,660.2L1976,660.3L1977,660.3L1978,660.4L1979,660.4L1980,660.5L1981,660.5L1982,660.5L1983,660.6L1984,660.6L1985,660.7L1986,660.8L1987,660.8L1988,660.9L1989,660.9L1990,661.0L1991,661.1L1992,661.1L1993,661.2L1994,661.3L1995,661.3L1996,661.4L1997,661.5L1998,661.5L1999,661.6L2000,661.7L2001,661.8L2002,661.9L2003,662.0L2004,662.0L2005,662.1L2006,662.2L2007,662.3L2008,662.4L2009,662.5L2010,662.6L2011,662.7L2012,662.8L2013,662.9L2014,663.0L2015,663.1L2016,663.2L2017,663.3L2018,663.4L2019,663.5L2020,663.6L2021,663.7L2022,663.8L2023,663.9L2024,664.1L2025,664.2L2026,664.3L2027,664.4L2028,664.5L2029,664.7L2030,664.8L2031,664.9L2032,665.0L2033,665.2L2034,665.3L2035,665.4L2036,665.5L2037,665.7L2038,665.8L2039,665.9L2040,666.1L2041,666.2L2042,666.4L2043,666.5L2044,666.6L2045,666.8L2046,666.9L2047,667.1L2048,667.2L2049,667.4L2050,667.5L2051,667.7L2052,667.9L2053,668.1L2054,668.4L2055,668.6L2056,668.9L2057,669.2L2058,669.4L2059,669.7L2060,670.0L2061,670.3L2062,670.6L2063,670.9L2064,671.3L2065,671.6L2066,671.9L2067,672.2L2068,672.5L2069,672.9L2070,673.2L2071,673.5L2072,673.8L2073,674.1L2074,674.4L2075,674.7L2076,675.0L2077,675.2L2078,675.5L2079,675.7L2080,676.0L2081,676.2L2082,676.4L2083,676.6L2084,676.7L2085,676.9L2086,677.0L2087,677.1L2088,677.2L2089,677.2L2090,677.3L2091,677.3L2092,677.3L2093,677.3L2094,677.3L2095,677.3L2096,677.3L2097,677.3L2098,677.3L2099,677.3L2100,677.3L2101,677.3L2102,677.3L2103,677.3L2104,677.3L2105,677.3L2106,677.3L2107,677.3L2108,677.3L2109,677.3L2110,677.3L2111,677.3L2112,677.3L2113,677.3L2114,677.3L2115,677.3L2116,677.3L2117,677.3L2118,677.3L2119,677.3L2120,677.3L2121,677.3L2122,677.3L2123,677.3L2124,677.3L2125,677.3L2126,677.3L2127,677.3L2128,677.3L2129,677.3L2130,677.3L2131,677.3L2132,677.3L2133,677.3L2134,677.3L2135,677.3L2136,677.3L2137,677.3L2138,677.3L2139,677.3L2140,677.3L2141,677.3L2142,677.3L2143,677.3L2144,677.3L2145,677.3L2146,677.3L2147,677.3L2148,677.3L2149,677.3L2150,677.3L2151,677.3L2152,677.3L2153,677.3L2154,677.3L2155,677.3L2156,677.3L2157,677.3L2158,677.3L2159,677.3L2160,677.3L2161,677.3L2162,677.3L2163,677.3L2164,677.3L2165,677.3L2166,677.3L2167,677.3L2168,677.3L2169,677.3L2170,677.3L2171,677.3L2172,677.3L2173,677.3L2174,677.3L2175,677.3L2176,677.3L2177,677.3L2178,677.3L2179,677.3L2180,677.3L2181,677.3L2182,677.3L2183,677.3L2184,677.3L2185,677.3L2186,677.3L2187,677.3L2188,677.3L2189,677.3L2190,677.3L2191,677.3L2192,677.3L2193,677.3L2194,677.3L2195,677.3L2196,677.3L2197,677.3L2198,677.3L2199,677.3L2200,677.3L2201,677.3L2202,677.3L2203,677.3L2204,677.3L2205,677.3L2206,677.3L2207,677.3L2208,677.3L2209,677.3L2210,677.3L2211,677.3L2212,677.3L2213,677.3L2214,677.3L2215,677.3L2216,677.3L2217,677.3L2218,677.3L2219,677.3L2220,677.3L2221,677.3L2222,677.3L2223,677.3L2224,677.3L2225,677.3L2226,677.3L2227,677.3L2228,677.3L2229,677.3L2230,677.3L2231,677.3L2232,677.3L2233,677.3L2234,677.3L2235,677.3L2236,677.3L2237,677.3L2238,677.3L2239,677.3L2240,677.3L2241,677.3L2242,677.3L2243,677.3L2244,677.3L2245,677.3L2246,677.3L2247,677.3L2248,677.3L2249,677.3L2250,677.3L2251,677.3L2252,677.3L2253,677.3L2254,677.3L2255,677.3L2256,677.3L2257,677.3L2258,677.3L2259,677.3L2260,677.3L2261,677.3L2262,677.3L2263,677.3L2264,677.3L2265,677.3L2266,677.3L2267,677.3L2268,677.3L2269,677.3L2270,677.3L2271,677.3L2272,677.3L2273,677.3L2274,677.3L2275,677.3L2276,677.3L2277,677.3L2278,677.3L2279,677.3L2280,677.3L2281,677.3L2282,677.3L2283,677.3L2284,677.3L2285,677.3L2286,677.3L2287,677.3L2288,677.3L2289,677.3L2290,677.3L2291,677.3L2292,677.3L2293,677.3L2294,677.3L2295,677.3L2296,677.3L2297,677.3L2298,677.3L2299,677.3L2300,677.3L2301,677.3L2302,677.3L2303,677.3L2304,677.3L2305,677.3L2306,677.3L2307,677.3L2308,677.3L2309,677.3L2310,677.3L2311,677.3L2312,677.3L2313,677.3L2314,677.3L2315,677.3L2316,677.3L2317,677.3L2318,677.3" fill="none" stroke="#858585" stroke-width="5.2" stroke-linejoin="round" stroke-linecap="butt" />
<path d="M1378,621.7L1379,621.6L1380,621.5L1381,621.4L1382,621.3L1383,621.2L1384,621.1L1385,621.0L1386,621.0L1387,620.9L1388,620.8L1389,620.7L1390,620.6L1391,620.5L1392,620.4L1393,620.3L1394,620.2L1395,620.2L1396,620.1L1397,620.0L1398,619.9L1399,619.8L1400,619.7L1401,619.7L1402,619.6L1403,619.5L1404,619.4L1405,619.3L1406,619.2L1407,619.2L1408,619.1L1409,619.0L1410,618.9L1411,618.9L1412,618.8L1413,618.7L1414,618.6L1415,618.5L1416,618.5L1417,618.4L1418,618.3L1419,618.3L1420,618.2L1421,618.1L1422,618.0L1423,618.0L1424,617.9L1425,617.8L1426,617.8L1427,617.7L1428,617.6L1429,617.6L1430,617.5L1431,617.4L1432,617.4L1433,617.3L1434,617.2L1435,617.2L1436,617.1L1437,617.1L1438,617.0L1439,617.0L1440,616.9L1441,616.8L1442,616.8L1443,616.7L1444,616.7L1445,616.6L1446,616.6L1447,616.5L1448,616.5L1449,616.4L1450,616.4L1451,616.3L1452,616.3L1453,616.2L1454,616.2L1455,616.1L1456,616.0L1457,616.0L1458,615.9L1459,615.9L1460,615.8L1461,615.8L1462,615.7L1463,615.7L1464,615.6L1465,615.6L1466,615.5L1467,615.5L1468,615.4L1469,615.4L1470,615.3L1471,615.3L1472,615.2L1473,615.2L1474,615.1L1475,615.1L1476,615.0L1477,615.0L1478,614.9L1479,614.9L1480,614.8L1481,614.7L1482,614.7L1483,614.6L1484,614.6L1485,614.5L1486,614.5L1487,614.4L1488,614.4L1489,614.3L1490,614.3L1491,614.2L1492,614.1L1493,614.1L1494,614.0L1495,614.0L1496,613.9L1497,613.9L1498,613.8L1499,613.8L1500,613.7L1501,613.7L1502,613.6L1503,613.6L1504,613.5L1505,613.5L1506,613.4L1507,613.4L1508,613.3L1509,613.2L1510,613.2L1511,613.1L1512,613.1L1513,613.0L1514,613.0L1515,612.9L1516,612.8L1517,612.8L1518,612.7L1519,612.7L1520,612.6L1521,612.5L1522,612.5L1523,612.4L1524,612.3L1525,612.3L1526,612.2L1527,612.1L1528,612.1L1529,612.0L1530,611.9L1531,611.9L1532,611.8L1533,611.7L1534,611.6L1535,611.6L1536,611.5L1537,611.4L1538,611.3L1539,611.2L1540,611.1L1541,611.1L1542,611.0L1543,610.9L1544,610.8L1545,610.7L1546,610.5L1547,610.4L1548,610.3L1549,610.2L1550,610.1L1551,610.0L1552,609.9L1553,609.7L1554,609.6L1555,609.5L1556,609.4L1557,609.2L1558,609.1L1559,609.0L1560,608.8L1561,608.7L1562,608.6L1563,608.4L1564,608.3L1565,608.2L1566,608.0L1567,607.9L1568,607.7L1569,607.6L1570,607.5L1571,607.3L1572,607.2L1573,607.0L1574,606.9L1575,606.7L1576,606.6L1577,606.4L1578,606.3L1579,606.2L1580,606.0L1581,605.9L1582,605.7L1583,605.6L1584,605.4L1585,605.3L1586,605.1L1587,605.0L1588,604.9L1589,604.7L1590,604.6L1591,604.4L1592,604.3L1593,604.2L1594,604.0L1595,603.9L1596,603.8L1597,603.7L1598,603.5L1599,603.4L1600,603.3L1601,603.2L1602,603.0L1603,602.9L1604,602.8L1605,602.7L1606,602.6L1607,602.5L1608,602.3L1609,602.2L1610,602.1L1611,602.0L1612,601.9L1613,601.8L1614,601.7L1615,601.6L1616,601.5L1617,601.4L1618,601.2L1619,601.1L1620,601.0L1621,600.9L1622,600.8L1623,600.7L1624,600.6L1625,600.5L1626,600.4L1627,600.3L1628,600.2L1629,600.1L1630,600.0L1631,599.8L1632,599.7L1633,599.6L1634,599.5L1635,599.4L1636,599.3L1637,599.1L1638,599.0L1639,598.9L1640,598.8L1641,598.7L1642,598.5L1643,598.4L1644,598.3L1645,598.1L1646,598.0L1647,597.9L1648,597.7L1649,597.6L1650,597.4L1651,597.3L1652,597.1L1653,597.0L1654,596.8L1655,596.7L1656,596.5L1657,596.3L1658,596.2L1659,596.0L1660,595.8L1661,595.6L1662,595.4L1663,595.2L1664,595.0L1665,594.8L1666,594.6L1667,594.4L1668,594.2L1669,593.9L1670,593.7L1671,593.5L1672,593.2L1673,593.0L1674,592.7L1675,592.5L1676,592.2L1677,591.9L1678,591.7L1679,591.4L1680,591.1L1681,590.8L1682,590.5L1683,590.2L1684,589.9L1685,589.5L1686,589.2L1687,588.8L1688,588.5L1689,588.1L1690,587.7L1691,587.3L1692,587.0L1693,586.6L1694,586.2L1695,585.8L1696,585.4L1697,585.0L1698,584.6L1699,584.2L1700,583.8L1701,583.4L1702,583.0L1703,582.6L1704,582.2L1705,581.8L1706,581.4L1707,581.0L1708,580.6L1709,580.2L1710,579.8L1711,579.4L1712,579.0L1713,578.5L1714,578.1L1715,577.7L1716,577.2L1717,576.8L1718,576.3L1719,575.8L1720,575.4L1721,574.9L1722,574.4L1723,573.8L1724,573.3L1725,572.7L1726,572.2L1727,571.6L1728,571.0L1729,570.3L1730,569.7L1731,569.0L1732,568.2L1733,567.5L1734,566.7L1735,565.8L1736,565.0L1737,564.1L1738,563.2L1739,562.3L1740,561.3L1741,560.4L1742,559.4L1743,558.4L1744,557.4L1745,556.4L1746,555.4L1747,554.4L1748,553.4L1749,552.3L1750,551.3L1751,550.2L1752,549.1L1753,547.9L1754,546.8L1755,545.6L1756,544.4L1757,543.2L1758,541.9L1759,540.6L1760,539.3L1761,537.9L1762,536.5L1763,535.0L1764,533.5L1765,532.0L1766,530.4L1767,528.7L1768,526.9L1769,525.1L1770,523.2L1771,521.2L1772,519.3L1773,517.2L1774,515.1L1775,513.0L1776,510.9L1777,508.7L1778,506.4L1779,504.0L1780,501.6L1781,499.1L1782,496.5L1783,493.9L1784,491.2L1785,488.4L1786,485.6L1787,482.7L1788,479.8L1789,476.7L1790,473.5L1791,470.3L1792,467.0L1793,463.5L1794,460.0L1795,456.3L1796,452.4L1797,448.4L1798,444.3L1799,440.1L1800,435.9L1801,431.7L1802,427.3L1803,422.9L1804,418.4L1805,413.7L1806,408.9L1807,403.9L1808,398.8L1809,393.7L1810,388.5L1811,383.5L1812,378.4L1813,373.3L1814,368.2L1815,363.1L1816,358.0L1817,352.9L1818,347.9L1819,342.8L1820,337.7L1821,332.7L1822,327.6L1823,322.5L1824,317.4L1825,312.1L1826,306.9L1827,301.8L1828,296.9L1829,292.2L1830,287.8L1831,283.4L1832,279.0L1833,274.8L1834,270.8L1835,267.2L1836,263.9L1837,261.0L1838,258.3L1839,255.9L1840,253.8L1841,252.0L1842,250.3L1843,248.7L1844,247.9L1845,248.0L1846,248.7L1847,249.8L1848,251.0L1849,252.3L1850,253.8L1851,255.6L1852,257.7L1853,260.0L1854,262.7L1855,266.1L1856,270.6L1857,275.8L1858,281.6L1859,287.7L1860,293.8L1861,299.7L1862,305.5L1863,311.4L1864,317.4L1865,323.6L1866,329.9L1867,336.4L1868,343.1L1869,350.0L1870,357.2L1871,364.5L1872,372.0L1873,379.8L1874,387.7L1875,395.8L1876,404.2L1877,413.1L1878,422.2L1879,431.2L1880,440.0L1881,448.7L1882,457.4L1883,466.0L1884,474.2L1885,481.8L1886,489.0L1887,495.9L1888,502.5L1889,508.6L1890,514.1L1891,519.0L1892,523.4L1893,527.6L1894,531.5L1895,535.2L1896,538.7L1897,542.1L1898,545.4L1899,548.6L1900,551.8L1901,554.8L1902,557.5L1903,560.1L1904,562.4L1905,564.4L1906,566.3L1907,568.1L1908,569.8L1909,571.3L1910,572.7L1911,573.9L1912,574.8L1913,575.5L1914,576.1L1915,576.8L1916,577.4L1917,577.9L1918,578.4L1919,578.8L1920,579.1L1921,579.4L1922,579.5L1923,579.5L1924,579.5L1925,579.5L1926,579.5L1927,579.5L1928,579.5L1929,579.5L1930,579.5L1931,579.5L1932,579.5L1933,579.4L1934,579.2L1935,578.9L1936,578.6L1937,578.2L1938,577.7L1939,577.1L1940,576.6L1941,576.0L1942,575.3L1943,574.7L1944,574.1L1945,573.4L1946,572.7L1947,572.0L1948,571.1L1949,570.2L1950,569.2L1951,568.1L1952,567.0L1953,565.9L1954,564.8L1955,563.7L1956,562.5L1957,561.4L1958,560.2L1959,559.1L1960,557.9L1961,556.7L1962,555.5L1963,554.3L1964,553.0L1965,551.7L1966,550.4L1967,549.0L1968,547.6L1969,546.1L1970,544.6L1971,543.1L1972,541.4L1973,539.7L1974,537.9L1975,536.1L1976,534.2L1977,532.2L1978,530.2L1979,528.2L1980,526.1L1981,524.0L1982,521.8L1983,519.6L1984,517.4L1985,515.1L1986,512.7L1987,510.2L1988,507.6L1989,504.9L1990,502.1L1991,499.1L1992,495.9L1993,492.5L1994,489.0L1995,485.3L1996,481.5L1997,477.5L1998,473.1L1999,468.6L2000,463.9L2001,459.3L2002,454.8L2003,450.4L2004,445.9L2005,441.4L2006,436.7L2007,431.7L2008,426.5L2009,421.2L2010,415.7L2011,410.0L2012,404.0L2013,397.6L2014,391.0L2015,384.1L2016,377.2L2017,370.1L2018,362.8L2019,355.4L2020,348.0L2021,340.6L2022,333.5L2023,326.8L2024,320.3L2025,314.2L2026,308.2L2027,302.3L2028,296.6L2029,290.8L2030,284.9L2031,278.9L2032,272.7L2033,266.1L2034,259.3L2035,252.2L2036,245.2L2037,238.3L2038,231.6L2039,225.2L2040,219.4L2041,213.7L2042,208.0L2043,202.5L2044,197.4L2045,192.6L2046,188.4L2047,184.9L2048,181.8L2049,179.1L2050,176.9L2051,175.2L2052,173.6L2053,172.4L2054,172.0L2055,172.7L2056,174.1L2057,176.0L2058,178.0L2059,180.6L2060,183.7L2061,187.3L2062,191.4L2063,196.3L2064,202.1L2065,208.8L2066,215.9L2067,223.5L2068,231.2L2069,238.9L2070,246.7L2071,254.8L2072,263.3L2073,272.1L2074,281.2L2075,290.8L2076,300.7L2077,311.3L2078,322.6L2079,334.4L2080,346.6L2081,358.9L2082,371.7L2083,385.2L2084,399.0L2085,412.7L2086,425.7L2087,437.7L2088,449.4L2089,460.8L2090,471.9L2091,482.6L2092,492.9L2093,502.8L2094,512.1L2095,520.9L2096,529.3L2097,537.3L2098,545.1L2099,552.4L2100,559.4L2101,565.9L2102,572.0L2103,577.7L2104,583.0L2105,588.0L2106,592.8L2107,597.3L2108,601.6L2109,605.8L2110,609.9L2111,613.9L2112,617.7L2113,621.2L2114,624.3L2115,627.0L2116,629.4L2117,631.6L2118,633.7L2119,635.6L2120,637.5L2121,639.2L2122,640.8L2123,642.3L2124,643.7L2125,645.0L2126,646.3L2127,647.5L2128,648.6L2129,649.7L2130,650.7L2131,651.7L2132,652.6L2133,653.5L2134,654.3L2135,655.0L2136,655.7L2137,656.4L2138,657.0L2139,657.7L2140,658.3L2141,658.9L2142,659.4L2143,659.9L2144,660.4L2145,660.9L2146,661.3L2147,661.7L2148,662.1L2149,662.4L2150,662.8L2151,663.1L2152,663.4L2153,663.7L2154,664.0L2155,664.3L2156,664.6L2157,664.9L2158,665.1L2159,665.4L2160,665.6L2161,665.9L2162,666.1L2163,666.3L2164,666.6L2165,666.8L2166,667.0L2167,667.2L2168,667.4L2169,667.5L2170,667.7L2171,667.9L2172,668.1L2173,668.2L2174,668.4L2175,668.5L2176,668.6L2177,668.8L2178,668.9L2179,669.0L2180,669.2L2181,669.3L2182,669.4L2183,669.6L2184,669.7L2185,669.8L2186,669.9L2187,670.0L2188,670.1L2189,670.3L2190,670.4L2191,670.5L2192,670.6L2193,670.7L2194,670.8L2195,670.9L2196,671.0L2197,671.1L2198,671.2L2199,671.2L2200,671.3L2201,671.4L2202,671.5L2203,671.6L2204,671.6L2205,671.7L2206,671.8L2207,671.9L2208,671.9L2209,672.0L2210,672.0L2211,672.1L2212,672.1L2213,672.2L2214,672.2L2215,672.3L2216,672.3L2217,672.4L2218,672.4L2219,672.5L2220,672.5L2221,672.5L2222,672.6L2223,672.6L2224,672.6L2225,672.7L2226,672.7L2227,672.7L2228,672.8L2229,672.8L2230,672.8L2231,672.9L2232,672.9L2233,672.9L2234,672.9L2235,673.0L2236,673.0L2237,673.0L2238,673.1L2239,673.1L2240,673.1L2241,673.1L2242,673.1L2243,673.2L2244,673.2L2245,673.2L2246,673.2L2247,673.3L2248,673.3L2249,673.3L2250,673.3L2251,673.3L2252,673.4L2253,673.4L2254,673.4L2255,673.4L2256,673.4L2257,673.4L2258,673.5L2259,673.5L2260,673.5L2261,673.5L2262,673.5L2263,673.6L2264,673.6L2265,673.6L2266,673.6L2267,673.6L2268,673.6L2269,673.6L2270,673.7L2271,673.7L2272,673.7L2273,673.7L2274,673.7L2275,673.7L2276,673.8L2277,673.8L2278,673.8L2279,673.8L2280,673.8L2281,673.8L2282,673.8L2283,673.9L2284,673.9L2285,673.9L2286,673.9L2287,673.9L2288,673.9L2289,673.9L2290,674.0L2291,674.0L2292,674.0L2293,674.0L2294,674.0L2295,674.0L2296,674.0L2297,674.0L2298,674.1L2299,674.1L2300,674.1L2301,674.1L2302,674.1L2303,674.1L2304,674.1L2305,674.1L2306,674.1L2307,674.1L2308,674.1L2309,674.2L2310,674.2L2311,674.2L2312,674.2L2313,674.2L2314,674.2L2315,674.2L2316,674.2L2317,674.2L2318,674.2" fill="none" stroke="#00a2ff" stroke-width="5.2" stroke-linejoin="round" stroke-linecap="butt" />
<line x1="1846.00" y1="194.90" x2="1846.00" y2="303.70" stroke="#1a2cff" stroke-width="3.4" stroke-dasharray="17 13.5"/>
<line x1="2053.50" y1="123.00" x2="2053.50" y2="231.80" stroke="#1a2cff" stroke-width="3.2" stroke-dasharray="17 13.5"/>
<rect x="1378" y="48.5" width="940" height="690.0" fill="none" stroke="#000" stroke-width="5.6" stroke-linejoin="miter"/>
<line x1="1503.10" y1="738.00" x2="1503.10" y2="724.70" stroke="#000" stroke-width="5.6" />
<line x1="1628.50" y1="738.00" x2="1628.50" y2="724.70" stroke="#000" stroke-width="5.6" />
<line x1="1753.90" y1="738.00" x2="1753.90" y2="724.70" stroke="#000" stroke-width="5.6" />
<line x1="1879.30" y1="738.00" x2="1879.30" y2="724.70" stroke="#000" stroke-width="5.6" />
<line x1="2004.70" y1="738.00" x2="2004.70" y2="724.70" stroke="#000" stroke-width="5.6" />
<line x1="2130.10" y1="738.00" x2="2130.10" y2="724.70" stroke="#000" stroke-width="5.6" />
<line x1="2255.50" y1="738.00" x2="2255.50" y2="724.70" stroke="#000" stroke-width="5.6" />
<line x1="1440.40" y1="738.00" x2="1440.40" y2="731.50" stroke="#000" stroke-width="5.6" />
<line x1="1565.80" y1="738.00" x2="1565.80" y2="731.50" stroke="#000" stroke-width="5.6" />
<line x1="1691.20" y1="738.00" x2="1691.20" y2="731.50" stroke="#000" stroke-width="5.6" />
<line x1="1816.60" y1="738.00" x2="1816.60" y2="731.50" stroke="#000" stroke-width="5.6" />
<line x1="1942.00" y1="738.00" x2="1942.00" y2="731.50" stroke="#000" stroke-width="5.6" />
<line x1="2067.40" y1="738.00" x2="2067.40" y2="731.50" stroke="#000" stroke-width="5.6" />
<line x1="2192.80" y1="738.00" x2="2192.80" y2="731.50" stroke="#000" stroke-width="5.6" />
<line x1="2318.20" y1="738.00" x2="2318.20" y2="731.50" stroke="#000" stroke-width="5.6" />
<text x="1347.00" y="801.50" font-size="62.00" font-weight="bold" fill="#000">82</text>
<text x="1472.25" y="801.50" font-size="62.00" font-weight="bold" fill="#000">80</text>
<text x="1596.76" y="801.50" font-size="62.00" font-weight="bold" fill="#000">78</text>
<text x="1722.04" y="801.50" font-size="62.00" font-weight="bold" fill="#000">76</text>
<text x="1847.10" y="801.50" font-size="62.00" font-weight="bold" fill="#000">74</text>
<text x="1973.26" y="801.50" font-size="62.00" font-weight="bold" fill="#000">72</text>
<text x="2098.51" y="801.50" font-size="62.00" font-weight="bold" fill="#000">70</text>
<text x="2224.47" y="801.50" font-size="62.00" font-weight="bold" fill="#000">68</text>
<text x="1487.14" y="879.90" font-size="81.83" font-weight="bold" fill="#000">Binding Energy (eV)</text>
<text transform="translate(1337.30,648.75) rotate(-90)" font-size="81.75" font-weight="bold" fill="#000">Intensity (a.u.)</text>
<text x="1174.83" y="92.30" font-size="88.12" font-weight="normal" fill="#000">(b)</text>
<rect x="1388.4" y="64.4" width="106.4" height="52.1" fill="url(#gLegBlue)" stroke="#111" stroke-width="1.6"/>
<text x="1508.80" y="107.70" font-size="47.00" font-weight="bold" fill="#000">Pt4f(Pt</text>
<text x="1654.52" y="87.40" font-size="31.00" font-weight="bold" fill="#000">0</text>
<text x="1670.19" y="107.60" font-size="47.00" font-weight="normal" fill="#000">)</text>
<text x="1780.60" y="178.20" font-size="47.00" font-weight="bold" fill="#000">Pt4f</text>
<text x="1863.42" y="190.50" font-size="32.00" font-weight="bold" fill="#000">5/2</text>
<text x="1989.60" y="112.50" font-size="47.00" font-weight="bold" fill="#000">Pt4f</text>
<text x="2073.47" y="125.80" font-size="32.00" font-weight="bold" fill="#000">7/2</text>
<text x="1627.64" y="336.90" font-size="47.95" font-weight="normal" fill="#1aa4f4">74.58 eV</text>
<text x="2078.54" y="241.70" font-size="47.95" font-weight="normal" fill="#1aa4f4">71.18 eV</text>
<path d="M212,1586.5L214,1586.5L216,1586.5L218,1586.5L220,1586.5L222,1586.5L224,1586.5L226,1586.5L228,1586.5L230,1586.5L232,1586.5L234,1586.5L236,1586.5L238,1586.5L240,1586.5L242,1586.5L244,1586.5L246,1586.5L248,1586.5L250,1586.5L252,1586.5L254,1586.4L256,1586.4L258,1586.4L260,1586.4L262,1586.4L264,1586.4L266,1586.4L268,1586.4L270,1586.4L272,1586.3L274,1586.3L276,1586.3L278,1586.3L280,1586.2L282,1586.2L284,1586.2L286,1586.1L288,1586.1L290,1586.0L292,1586.0L294,1585.9L296,1585.9L298,1585.8L300,1585.7L302,1585.6L304,1585.5L306,1585.4L308,1585.3L310,1585.2L312,1585.1L314,1585.0L316,1584.8L318,1584.7L320,1584.6L322,1584.4L324,1584.2L326,1584.1L328,1583.9L330,1583.7L332,1583.5L334,1583.3L336,1583.1L338,1582.9L340,1582.7L342,1582.5L344,1582.3L346,1582.0L348,1581.8L350,1581.5L352,1581.3L354,1581.0L356,1580.7L358,1580.4L360,1580.2L362,1579.9L364,1579.5L366,1579.2L368,1578.9L370,1578.6L372,1578.3L374,1577.9L376,1577.6L378,1577.2L380,1576.9L382,1576.5L384,1576.1L386,1575.8L388,1575.4L390,1575.0L392,1574.7L394,1574.3L396,1573.9L398,1573.6L400,1573.2L402,1572.8L404,1572.5L406,1572.1L408,1571.7L410,1571.4L412,1571.1L414,1570.7L416,1570.4L418,1570.1L420,1569.8L422,1569.5L424,1569.2L426,1569.0L428,1568.7L430,1568.5L432,1568.3L434,1568.1L436,1568.0L438,1567.8L440,1567.7L442,1567.6L444,1567.5L446,1567.5L448,1567.5L450,1567.5L452,1567.5L454,1567.6L456,1567.6L458,1567.7L460,1567.9L462,1568.0L464,1568.2L466,1568.4L468,1568.6L470,1568.8L472,1569.1L474,1569.4L476,1569.7L478,1570.0L480,1570.3L482,1570.7L484,1571.1L486,1571.5L488,1571.9L490,1572.3L492,1572.8L494,1573.3L496,1573.7L498,1574.2L500,1574.7L502,1575.2L504,1575.7L506,1576.3L508,1576.8L510,1577.3L512,1577.9L514,1578.4L516,1579.0L518,1579.5L520,1580.1L522,1580.6L524,1581.2L526,1581.7L528,1582.2L530,1582.8L532,1583.3L534,1583.9L536,1584.4L538,1584.9L540,1585.4L542,1585.9L544,1586.5L546,1587.0L548,1587.5L550,1588.0L552,1588.4L554,1588.9L556,1589.4L558,1589.8L560,1590.3L562,1590.7L564,1591.1L566,1591.6L568,1592.0L570,1592.4L572,1592.8L574,1593.1L576,1593.5L578,1593.9L580,1594.2L582,1594.5L584,1594.9L586,1595.2L588,1595.5L590,1595.8L592,1596.0L594,1596.3L596,1596.6L598,1596.8L600,1597.1L602,1597.3L604,1597.5L606,1597.7L608,1597.9L610,1598.1L612,1598.3L614,1598.5L616,1598.7L618,1598.8L620,1599.0L622,1599.1L624,1599.2L626,1599.4L628,1599.5L630,1599.6L632,1599.7L634,1599.8L636,1599.9L638,1600.0L640,1600.1L642,1600.2L644,1600.3L646,1600.4L648,1600.4L650,1600.5L652,1600.6L654,1600.7L656,1600.7L658,1600.8L660,1600.8L662,1600.9L664,1601.0L666,1601.0L668,1601.1L670,1601.1L672,1601.2L674,1601.3L676,1601.3L678,1601.4L680,1601.4L682,1601.5L684,1601.5L686,1601.6L688,1601.7L690,1601.7L692,1601.8L694,1601.9L696,1602.1L698,1602.2L700,1602.4L702,1602.6L704,1602.8L706,1603.0L708,1603.2L710,1603.5L712,1603.8L714,1604.0L716,1604.3L718,1604.6L720,1604.9L722,1605.2L724,1605.5L726,1605.9L728,1606.2L730,1606.5L732,1606.8L734,1607.2L736,1607.5L738,1607.8L740,1608.2L742,1608.5L744,1608.8L746,1609.1L748,1609.4L750,1609.7L752,1610.0L754,1610.2L756,1610.5L758,1610.7L760,1611.0L762,1611.2L764,1611.4L766,1611.6L768,1611.8L770,1611.9L772,1612.1L774,1612.3L776,1612.4L778,1612.6L780,1612.8L782,1612.9L784,1613.1L786,1613.2L788,1613.3L790,1613.5L792,1613.6L794,1613.7L796,1613.9L798,1614.0L800,1614.1L802,1614.3L804,1614.4L806,1614.5L808,1614.6L810,1614.8L812,1614.9L814,1615.0L816,1615.2L818,1615.3L820,1615.4L822,1615.6L824,1615.7L826,1615.9L828,1616.0L830,1616.1L832,1616.3L834,1616.5L836,1616.6L838,1616.8L840,1617.0L842,1617.1L844,1617.3L846,1617.5L848,1617.7L850,1617.9L852,1618.1L854,1618.3L856,1618.6L858,1618.8L860,1619.1L862,1619.4L864,1619.6L866,1619.9L868,1620.2L870,1620.5L872,1620.8L874,1621.1L876,1621.4L878,1621.8L880,1622.1L882,1622.4L884,1622.7L886,1623.0L888,1623.3L890,1623.6L892,1623.9L894,1624.2L896,1624.5L898,1624.8L900,1625.1L902,1625.4L904,1625.7L906,1626.0L908,1626.3L910,1626.6L912,1626.9L914,1627.2L916,1627.5L918,1627.8L920,1628.1L922,1628.5L924,1628.8L926,1629.1L928,1629.4L930,1629.7L932,1630.0L934,1630.3L936,1630.6L938,1631.0L940,1631.3L942,1631.6L944,1631.9L946,1632.1L948,1632.4L950,1632.7L952,1633.0L954,1633.3L956,1633.5L958,1633.8L960,1634.0L962,1634.3L964,1634.5L966,1634.8L968,1635.0L970,1635.2L972,1635.4L974,1635.6L976,1635.8L978,1636.0L980,1636.2L982,1636.4L984,1636.5L986,1636.7L988,1636.9L990,1637.1L992,1637.2L994,1637.4L996,1637.6L998,1637.7L1000,1637.9L1002,1638.0L1004,1638.2L1006,1638.3L1008,1638.5L1010,1638.6L1012,1638.7L1014,1638.8L1016,1638.9L1018,1639.0L1020,1639.1L1022,1639.2L1024,1639.2L1026,1639.3L1028,1639.3L1030,1639.4L1032,1639.4L1034,1639.4L1036,1639.5L1038,1639.5L1040,1639.5L1042,1639.6L1044,1639.6L1046,1639.6L1048,1639.7L1050,1639.7L1052,1639.7L1054,1639.8L1056,1639.8L1058,1639.8L1060,1639.8L1062,1639.9L1064,1639.9L1066,1639.9L1068,1640.0L1070,1640.0L1072,1640.0L1074,1640.0L1076,1640.1L1078,1640.1L1080,1640.1L1082,1640.1L1084,1640.1L1086,1640.2L1088,1640.2L1090,1640.2L1092,1640.2L1094,1640.2L1096,1640.3L1098,1640.3L1100,1640.3L1102,1640.3L1104,1640.3L1106,1640.3L1108,1640.4L1110,1640.4L1112,1640.4L1114,1640.4L1116,1640.4L1118,1640.4L1120,1640.4L1122,1640.4L1124,1640.4L1126,1640.4L1128,1640.5L1130,1640.5L1132,1640.5L1134,1640.5L1136,1640.5L1138,1640.5L1140,1640.5L1142,1640.5L1144,1640.5L1146,1640.5L1148,1640.5L1150,1640.5L1150,1640.5L1148,1640.5L1146,1640.5L1144,1640.5L1142,1640.5L1140,1640.5L1138,1640.5L1136,1640.5L1134,1640.5L1132,1640.5L1130,1640.5L1128,1640.5L1126,1640.4L1124,1640.4L1122,1640.4L1120,1640.4L1118,1640.4L1116,1640.4L1114,1640.4L1112,1640.4L1110,1640.4L1108,1640.4L1106,1640.3L1104,1640.3L1102,1640.3L1100,1640.3L1098,1640.3L1096,1640.3L1094,1640.2L1092,1640.2L1090,1640.2L1088,1640.2L1086,1640.2L1084,1640.1L1082,1640.1L1080,1640.1L1078,1640.1L1076,1640.1L1074,1640.0L1072,1640.0L1070,1640.0L1068,1640.0L1066,1639.9L1064,1639.9L1062,1639.9L1060,1639.8L1058,1639.8L1056,1639.8L1054,1639.8L1052,1639.7L1050,1639.7L1048,1639.7L1046,1639.6L1044,1639.6L1042,1639.6L1040,1639.5L1038,1639.5L1036,1639.5L1034,1639.4L1032,1639.4L1030,1639.4L1028,1639.3L1026,1639.3L1024,1639.2L1022,1639.2L1020,1639.1L1018,1639.0L1016,1638.9L1014,1638.8L1012,1638.7L1010,1638.6L1008,1638.5L1006,1638.3L1004,1638.2L1002,1638.0L1000,1637.9L998,1637.7L996,1637.6L994,1637.4L992,1637.2L990,1637.1L988,1636.9L986,1636.7L984,1636.5L982,1636.4L980,1636.2L978,1636.0L976,1635.8L974,1635.6L972,1635.4L970,1635.2L968,1635.0L966,1634.8L964,1634.5L962,1634.3L960,1634.0L958,1633.8L956,1633.5L954,1633.3L952,1633.0L950,1632.7L948,1632.4L946,1632.1L944,1631.9L942,1631.6L940,1631.3L938,1631.0L936,1630.6L934,1630.3L932,1630.0L930,1629.7L928,1629.4L926,1629.1L924,1628.8L922,1628.5L920,1628.1L918,1627.8L916,1627.5L914,1627.2L912,1626.9L910,1626.6L908,1626.3L906,1626.0L904,1625.7L902,1625.4L900,1625.1L898,1624.8L896,1624.5L894,1624.2L892,1623.9L890,1623.6L888,1623.3L886,1623.0L884,1622.7L882,1622.4L880,1622.1L878,1621.8L876,1621.4L874,1621.1L872,1620.8L870,1620.5L868,1620.2L866,1619.9L864,1619.6L862,1619.4L860,1619.1L858,1618.8L856,1618.6L854,1618.3L852,1618.1L850,1617.9L848,1617.7L846,1617.5L844,1617.3L842,1617.1L840,1617.0L838,1616.8L836,1616.6L834,1616.5L832,1616.3L830,1616.1L828,1616.0L826,1615.9L824,1615.7L822,1615.6L820,1615.4L818,1615.3L816,1615.2L814,1615.0L812,1614.9L810,1614.8L808,1614.6L806,1614.5L804,1614.4L802,1614.3L800,1614.1L798,1614.0L796,1613.9L794,1613.7L792,1613.6L790,1613.5L788,1613.3L786,1613.2L784,1613.1L782,1612.9L780,1612.8L778,1612.6L776,1612.4L774,1612.3L772,1612.1L770,1611.9L768,1611.8L766,1611.6L764,1611.4L762,1611.2L760,1611.0L758,1610.8L756,1610.5L754,1610.2L752,1610.0L750,1609.7L748,1609.4L746,1609.1L744,1608.8L742,1608.5L740,1608.2L738,1607.8L736,1607.5L734,1607.2L732,1606.9L730,1606.5L728,1606.2L726,1605.9L724,1605.6L722,1605.2L720,1604.9L718,1604.6L716,1604.3L714,1604.1L712,1603.8L710,1603.5L708,1603.3L706,1603.0L704,1602.8L702,1602.6L700,1602.4L698,1602.3L696,1602.1L694,1602.0L692,1601.9L690,1601.8L688,1601.8L686,1601.7L684,1601.7L682,1601.6L680,1601.6L678,1601.5L676,1601.5L674,1601.5L672,1601.4L670,1601.4L668,1601.4L666,1601.3L664,1601.3L662,1601.3L660,1601.2L658,1601.2L656,1601.2L654,1601.2L652,1601.1L650,1601.1L648,1601.1L646,1601.1L644,1601.0L642,1601.0L640,1601.0L638,1601.0L636,1600.9L634,1600.9L632,1600.9L630,1600.9L628,1600.9L626,1600.8L624,1600.8L622,1600.8L620,1600.8L618,1600.8L616,1600.7L614,1600.7L612,1600.7L610,1600.7L608,1600.6L606,1600.6L604,1600.6L602,1600.5L600,1600.5L598,1600.5L596,1600.4L594,1600.4L592,1600.4L590,1600.3L588,1600.3L586,1600.3L584,1600.2L582,1600.2L580,1600.2L578,1600.1L576,1600.1L574,1600.1L572,1600.0L570,1600.0L568,1600.0L566,1599.9L564,1599.9L562,1599.9L560,1599.8L558,1599.8L556,1599.7L554,1599.7L552,1599.7L550,1599.6L548,1599.6L546,1599.5L544,1599.5L542,1599.4L540,1599.4L538,1599.4L536,1599.3L534,1599.3L532,1599.2L530,1599.1L528,1599.1L526,1599.0L524,1599.0L522,1598.9L520,1598.8L518,1598.8L516,1598.7L514,1598.6L512,1598.5L510,1598.4L508,1598.3L506,1598.2L504,1598.1L502,1597.9L500,1597.8L498,1597.7L496,1597.6L494,1597.4L492,1597.3L490,1597.1L488,1597.0L486,1596.9L484,1596.7L482,1596.6L480,1596.4L478,1596.3L476,1596.1L474,1595.9L472,1595.8L470,1595.6L468,1595.5L466,1595.3L464,1595.2L462,1595.0L460,1594.8L458,1594.7L456,1594.5L454,1594.4L452,1594.2L450,1594.1L448,1593.9L446,1593.8L444,1593.6L442,1593.5L440,1593.3L438,1593.2L436,1593.1L434,1592.9L432,1592.8L430,1592.7L428,1592.5L426,1592.4L424,1592.3L422,1592.2L420,1592.1L418,1592.0L416,1591.9L414,1591.8L412,1591.7L410,1591.5L408,1591.4L406,1591.3L404,1591.2L402,1591.1L400,1591.0L398,1590.9L396,1590.8L394,1590.7L392,1590.5L390,1590.4L388,1590.3L386,1590.2L384,1590.1L382,1590.0L380,1589.9L378,1589.8L376,1589.7L374,1589.6L372,1589.5L370,1589.4L368,1589.3L366,1589.2L364,1589.1L362,1589.0L360,1588.9L358,1588.8L356,1588.7L354,1588.6L352,1588.6L350,1588.5L348,1588.4L346,1588.3L344,1588.2L342,1588.2L340,1588.1L338,1588.0L336,1588.0L334,1587.9L332,1587.9L330,1587.8L328,1587.8L326,1587.7L324,1587.7L322,1587.6L320,1587.6L318,1587.6L316,1587.5L314,1587.5L312,1587.5L310,1587.4L308,1587.4L306,1587.4L304,1587.3L302,1587.3L300,1587.3L298,1587.2L296,1587.2L294,1587.2L292,1587.2L290,1587.1L288,1587.1L286,1587.1L284,1587.0L282,1587.0L280,1587.0L278,1587.0L276,1586.9L274,1586.9L272,1586.9L270,1586.9L268,1586.8L266,1586.8L264,1586.8L262,1586.8L260,1586.8L258,1586.7L256,1586.7L254,1586.7L252,1586.7L250,1586.7L248,1586.6L246,1586.6L244,1586.6L242,1586.6L240,1586.6L238,1586.6L236,1586.6L234,1586.6L232,1586.5L230,1586.5L228,1586.5L226,1586.5L224,1586.5L222,1586.5L220,1586.5L218,1586.5L216,1586.5L214,1586.5L212,1586.5 Z" fill="#fff9a8" stroke="none" />
<path d="M212,1586.4L214,1586.4L216,1586.4L218,1586.4L220,1586.4L222,1586.4L224,1586.4L226,1586.4L228,1586.4L230,1586.4L232,1586.5L234,1586.5L236,1586.5L238,1586.5L240,1586.5L242,1586.5L244,1586.5L246,1586.5L248,1586.6L250,1586.6L252,1586.6L254,1586.6L256,1586.6L258,1586.6L260,1586.7L262,1586.7L264,1586.7L266,1586.7L268,1586.7L270,1586.8L272,1586.8L274,1586.8L276,1586.8L278,1586.9L280,1586.9L282,1586.9L284,1586.9L286,1587.0L288,1587.0L290,1587.0L292,1587.0L294,1587.1L296,1587.1L298,1587.1L300,1587.2L302,1587.2L304,1587.2L306,1587.2L308,1587.3L310,1587.3L312,1587.3L314,1587.4L316,1587.4L318,1587.4L320,1587.5L322,1587.5L324,1587.5L326,1587.6L328,1587.6L330,1587.7L332,1587.7L334,1587.8L336,1587.8L338,1587.9L340,1588.0L342,1588.0L344,1588.1L346,1588.2L348,1588.2L350,1588.3L352,1588.4L354,1588.5L356,1588.6L358,1588.7L360,1588.7L362,1588.8L364,1588.9L366,1589.0L368,1589.1L370,1589.2L372,1589.3L374,1589.4L376,1589.5L378,1589.6L380,1589.7L382,1589.8L384,1589.9L386,1590.0L388,1590.1L390,1590.2L392,1590.4L394,1590.5L396,1590.6L398,1590.7L400,1590.8L402,1590.9L404,1591.0L406,1591.1L408,1591.2L410,1591.3L412,1591.4L414,1591.6L416,1591.7L418,1591.8L420,1591.9L422,1592.0L424,1592.1L426,1592.2L428,1592.3L430,1592.4L432,1592.6L434,1592.7L436,1592.8L438,1592.9L440,1593.1L442,1593.2L444,1593.4L446,1593.5L448,1593.6L450,1593.8L452,1593.9L454,1594.1L456,1594.2L458,1594.4L460,1594.6L462,1594.7L464,1594.9L466,1595.0L468,1595.2L470,1595.3L472,1595.5L474,1595.6L476,1595.8L478,1595.9L480,1596.1L482,1596.2L484,1596.4L486,1596.5L488,1596.6L490,1596.8L492,1596.9L494,1597.0L496,1597.2L498,1597.3L500,1597.4L502,1597.5L504,1597.6L506,1597.8L508,1597.9L510,1598.0L512,1598.1L514,1598.1L516,1598.2L518,1598.3L520,1598.4L522,1598.4L524,1598.5L526,1598.5L528,1598.6L530,1598.6L532,1598.7L534,1598.7L536,1598.8L538,1598.8L540,1598.8L542,1598.9L544,1598.9L546,1598.9L548,1599.0L550,1599.0L552,1599.0L554,1599.1L556,1599.1L558,1599.1L560,1599.1L562,1599.2L564,1599.2L566,1599.2L568,1599.2L570,1599.2L572,1599.2L574,1599.2L576,1599.3L578,1599.3L580,1599.3L582,1599.3L584,1599.3L586,1599.2L588,1599.2L590,1599.2L592,1599.2L594,1599.1L596,1599.1L598,1599.0L600,1598.9L602,1598.9L604,1598.7L606,1598.6L608,1598.4L610,1598.2L612,1598.0L614,1597.7L616,1597.4L618,1597.0L620,1596.6L622,1596.0L624,1595.4L626,1594.8L628,1594.0L630,1593.1L632,1592.0L634,1590.9L636,1589.6L638,1588.1L640,1586.4L642,1584.5L644,1582.4L646,1580.0L648,1577.4L650,1574.5L652,1571.3L654,1567.8L656,1563.9L658,1559.7L660,1555.0L662,1550.0L664,1544.5L666,1538.7L668,1532.3L670,1525.5L672,1518.3L674,1510.6L676,1502.4L678,1493.7L680,1484.6L682,1475.0L684,1465.0L686,1454.6L688,1443.9L690,1432.8L692,1421.4L694,1409.7L696,1397.9L698,1385.9L700,1373.9L702,1361.8L704,1349.8L706,1337.9L708,1326.2L710,1314.8L712,1303.7L714,1293.0L716,1282.8L718,1273.2L720,1264.2L722,1255.9L724,1248.5L726,1241.8L728,1236.1L730,1231.3L732,1227.6L734,1224.8L736,1223.1L738,1222.5L740,1223.0L742,1224.6L744,1227.4L746,1231.3L748,1236.3L750,1242.3L752,1249.3L754,1257.3L756,1266.1L758,1275.6L760,1285.9L762,1296.8L764,1308.2L766,1320.1L768,1332.3L770,1344.8L772,1357.5L774,1370.4L776,1383.2L778,1396.0L780,1408.7L782,1421.3L784,1433.6L786,1445.6L788,1457.3L790,1468.5L792,1479.4L794,1489.8L796,1499.8L798,1509.3L800,1518.2L802,1526.7L804,1534.7L806,1542.1L808,1549.1L810,1555.5L812,1561.5L814,1567.1L816,1572.2L818,1576.9L820,1581.1L822,1585.0L824,1588.6L826,1591.8L828,1594.7L830,1597.4L832,1599.7L834,1601.9L836,1603.8L838,1605.5L840,1607.1L842,1608.4L844,1609.7L846,1610.8L848,1611.8L850,1612.7L852,1613.5L854,1614.3L856,1615.0L858,1615.6L860,1616.2L862,1616.8L864,1617.3L866,1617.8L868,1618.3L870,1618.8L872,1619.2L874,1619.7L876,1620.1L878,1620.5L880,1620.9L882,1621.2L884,1621.6L886,1622.0L888,1622.3L890,1622.7L892,1623.0L894,1623.3L896,1623.7L898,1624.0L900,1624.3L902,1624.6L904,1624.9L906,1625.2L908,1625.6L910,1625.9L912,1626.2L914,1626.5L916,1626.9L918,1627.2L920,1627.5L922,1627.9L924,1628.2L926,1628.5L928,1628.8L930,1629.2L932,1629.5L934,1629.8L936,1630.1L938,1630.4L940,1630.7L942,1631.1L944,1631.4L946,1631.7L948,1632.0L950,1632.3L952,1632.5L954,1632.8L956,1633.1L958,1633.4L960,1633.6L962,1633.9L964,1634.1L966,1634.4L968,1634.6L970,1634.8L972,1635.0L974,1635.3L976,1635.4L978,1635.6L980,1635.8L982,1636.0L984,1636.2L986,1636.4L988,1636.5L990,1636.7L992,1636.9L994,1637.1L996,1637.3L998,1637.4L1000,1637.6L1002,1637.7L1004,1637.9L1006,1638.0L1008,1638.2L1010,1638.3L1012,1638.4L1014,1638.5L1016,1638.6L1018,1638.7L1020,1638.8L1022,1638.9L1024,1639.0L1026,1639.0L1028,1639.1L1030,1639.1L1032,1639.1L1034,1639.2L1036,1639.2L1038,1639.3L1040,1639.3L1042,1639.3L1044,1639.4L1046,1639.4L1048,1639.4L1050,1639.5L1052,1639.5L1054,1639.5L1056,1639.6L1058,1639.6L1060,1639.6L1062,1639.7L1064,1639.7L1066,1639.7L1068,1639.8L1070,1639.8L1072,1639.8L1074,1639.8L1076,1639.9L1078,1639.9L1080,1639.9L1082,1639.9L1084,1640.0L1086,1640.0L1088,1640.0L1090,1640.0L1092,1640.1L1094,1640.1L1096,1640.1L1098,1640.1L1100,1640.1L1102,1640.1L1104,1640.2L1106,1640.2L1108,1640.2L1110,1640.2L1112,1640.2L1114,1640.2L1116,1640.3L1118,1640.3L1120,1640.3L1122,1640.3L1124,1640.3L1126,1640.3L1128,1640.3L1130,1640.3L1132,1640.3L1134,1640.3L1136,1640.3L1138,1640.4L1140,1640.4L1142,1640.4L1144,1640.4L1146,1640.4L1148,1640.4L1150,1640.4L1150,1640.5L1148,1640.5L1146,1640.5L1144,1640.5L1142,1640.5L1140,1640.5L1138,1640.5L1136,1640.5L1134,1640.5L1132,1640.5L1130,1640.5L1128,1640.5L1126,1640.4L1124,1640.4L1122,1640.4L1120,1640.4L1118,1640.4L1116,1640.4L1114,1640.4L1112,1640.4L1110,1640.4L1108,1640.4L1106,1640.3L1104,1640.3L1102,1640.3L1100,1640.3L1098,1640.3L1096,1640.3L1094,1640.2L1092,1640.2L1090,1640.2L1088,1640.2L1086,1640.2L1084,1640.1L1082,1640.1L1080,1640.1L1078,1640.1L1076,1640.1L1074,1640.0L1072,1640.0L1070,1640.0L1068,1640.0L1066,1639.9L1064,1639.9L1062,1639.9L1060,1639.8L1058,1639.8L1056,1639.8L1054,1639.8L1052,1639.7L1050,1639.7L1048,1639.7L1046,1639.6L1044,1639.6L1042,1639.6L1040,1639.5L1038,1639.5L1036,1639.5L1034,1639.4L1032,1639.4L1030,1639.4L1028,1639.3L1026,1639.3L1024,1639.2L1022,1639.2L1020,1639.1L1018,1639.0L1016,1638.9L1014,1638.8L1012,1638.7L1010,1638.6L1008,1638.5L1006,1638.3L1004,1638.2L1002,1638.0L1000,1637.9L998,1637.7L996,1637.6L994,1637.4L992,1637.2L990,1637.1L988,1636.9L986,1636.7L984,1636.5L982,1636.4L980,1636.2L978,1636.0L976,1635.8L974,1635.6L972,1635.4L970,1635.2L968,1635.0L966,1634.8L964,1634.5L962,1634.3L960,1634.0L958,1633.8L956,1633.5L954,1633.3L952,1633.0L950,1632.7L948,1632.4L946,1632.1L944,1631.9L942,1631.6L940,1631.3L938,1631.0L936,1630.6L934,1630.3L932,1630.0L930,1629.7L928,1629.4L926,1629.1L924,1628.8L922,1628.5L920,1628.1L918,1627.8L916,1627.5L914,1627.2L912,1626.9L910,1626.6L908,1626.3L906,1626.0L904,1625.7L902,1625.4L900,1625.1L898,1624.8L896,1624.5L894,1624.2L892,1623.9L890,1623.6L888,1623.3L886,1623.0L884,1622.7L882,1622.4L880,1622.1L878,1621.8L876,1621.4L874,1621.1L872,1620.8L870,1620.5L868,1620.2L866,1619.9L864,1619.6L862,1619.4L860,1619.1L858,1618.8L856,1618.6L854,1618.3L852,1618.1L850,1617.9L848,1617.7L846,1617.5L844,1617.3L842,1617.1L840,1617.0L838,1616.8L836,1616.6L834,1616.5L832,1616.3L830,1616.1L828,1616.0L826,1615.9L824,1615.7L822,1615.6L820,1615.4L818,1615.3L816,1615.2L814,1615.0L812,1614.9L810,1614.8L808,1614.6L806,1614.5L804,1614.4L802,1614.3L800,1614.1L798,1614.0L796,1613.9L794,1613.7L792,1613.6L790,1613.5L788,1613.3L786,1613.2L784,1613.1L782,1612.9L780,1612.8L778,1612.6L776,1612.4L774,1612.3L772,1612.1L770,1611.9L768,1611.8L766,1611.6L764,1611.4L762,1611.2L760,1611.0L758,1610.8L756,1610.5L754,1610.2L752,1610.0L750,1609.7L748,1609.4L746,1609.1L744,1608.8L742,1608.5L740,1608.2L738,1607.8L736,1607.5L734,1607.2L732,1606.9L730,1606.5L728,1606.2L726,1605.9L724,1605.6L722,1605.2L720,1604.9L718,1604.6L716,1604.3L714,1604.1L712,1603.8L710,1603.5L708,1603.3L706,1603.0L704,1602.8L702,1602.6L700,1602.4L698,1602.3L696,1602.1L694,1602.0L692,1601.9L690,1601.8L688,1601.8L686,1601.7L684,1601.7L682,1601.6L680,1601.6L678,1601.5L676,1601.5L674,1601.5L672,1601.4L670,1601.4L668,1601.4L666,1601.3L664,1601.3L662,1601.3L660,1601.2L658,1601.2L656,1601.2L654,1601.2L652,1601.1L650,1601.1L648,1601.1L646,1601.1L644,1601.0L642,1601.0L640,1601.0L638,1601.0L636,1600.9L634,1600.9L632,1600.9L630,1600.9L628,1600.9L626,1600.8L624,1600.8L622,1600.8L620,1600.8L618,1600.8L616,1600.7L614,1600.7L612,1600.7L610,1600.7L608,1600.6L606,1600.6L604,1600.6L602,1600.5L600,1600.5L598,1600.5L596,1600.4L594,1600.4L592,1600.4L590,1600.3L588,1600.3L586,1600.3L584,1600.2L582,1600.2L580,1600.2L578,1600.1L576,1600.1L574,1600.1L572,1600.0L570,1600.0L568,1600.0L566,1599.9L564,1599.9L562,1599.9L560,1599.8L558,1599.8L556,1599.7L554,1599.7L552,1599.7L550,1599.6L548,1599.6L546,1599.5L544,1599.5L542,1599.4L540,1599.4L538,1599.4L536,1599.3L534,1599.3L532,1599.2L530,1599.1L528,1599.1L526,1599.0L524,1599.0L522,1598.9L520,1598.8L518,1598.8L516,1598.7L514,1598.6L512,1598.5L510,1598.4L508,1598.3L506,1598.2L504,1598.1L502,1597.9L500,1597.8L498,1597.7L496,1597.6L494,1597.4L492,1597.3L490,1597.1L488,1597.0L486,1596.9L484,1596.7L482,1596.6L480,1596.4L478,1596.3L476,1596.1L474,1595.9L472,1595.8L470,1595.6L468,1595.5L466,1595.3L464,1595.2L462,1595.0L460,1594.8L458,1594.7L456,1594.5L454,1594.4L452,1594.2L450,1594.1L448,1593.9L446,1593.8L444,1593.6L442,1593.5L440,1593.3L438,1593.2L436,1593.1L434,1592.9L432,1592.8L430,1592.7L428,1592.5L426,1592.4L424,1592.3L422,1592.2L420,1592.1L418,1592.0L416,1591.9L414,1591.8L412,1591.7L410,1591.5L408,1591.4L406,1591.3L404,1591.2L402,1591.1L400,1591.0L398,1590.9L396,1590.8L394,1590.7L392,1590.5L390,1590.4L388,1590.3L386,1590.2L384,1590.1L382,1590.0L380,1589.9L378,1589.8L376,1589.7L374,1589.6L372,1589.5L370,1589.4L368,1589.3L366,1589.2L364,1589.1L362,1589.0L360,1588.9L358,1588.8L356,1588.7L354,1588.6L352,1588.6L350,1588.5L348,1588.4L346,1588.3L344,1588.2L342,1588.2L340,1588.1L338,1588.0L336,1588.0L334,1587.9L332,1587.9L330,1587.8L328,1587.8L326,1587.7L324,1587.7L322,1587.6L320,1587.6L318,1587.6L316,1587.5L314,1587.5L312,1587.5L310,1587.4L308,1587.4L306,1587.4L304,1587.3L302,1587.3L300,1587.3L298,1587.2L296,1587.2L294,1587.2L292,1587.2L290,1587.1L288,1587.1L286,1587.1L284,1587.0L282,1587.0L280,1587.0L278,1587.0L276,1586.9L274,1586.9L272,1586.9L270,1586.9L268,1586.8L266,1586.8L264,1586.8L262,1586.8L260,1586.8L258,1586.7L256,1586.7L254,1586.7L252,1586.7L250,1586.7L248,1586.6L246,1586.6L244,1586.6L242,1586.6L240,1586.6L238,1586.6L236,1586.6L234,1586.6L232,1586.5L230,1586.5L228,1586.5L226,1586.5L224,1586.5L222,1586.5L220,1586.5L218,1586.5L216,1586.5L214,1586.5L212,1586.5 Z" fill="url(#gB1)" stroke="none" />
<path d="M212,1586.4L214,1586.4L216,1586.4L218,1586.4L220,1586.4L222,1586.5L224,1586.5L226,1586.5L228,1586.5L230,1586.5L232,1586.5L234,1586.5L236,1586.5L238,1586.5L240,1586.5L242,1586.5L244,1586.6L246,1586.6L248,1586.6L250,1586.6L252,1586.6L254,1586.6L256,1586.7L258,1586.7L260,1586.7L262,1586.7L264,1586.7L266,1586.8L268,1586.8L270,1586.8L272,1586.8L274,1586.8L276,1586.9L278,1586.9L280,1586.9L282,1586.9L284,1587.0L286,1587.0L288,1587.0L290,1587.1L292,1587.1L294,1587.1L296,1587.1L298,1587.2L300,1587.2L302,1587.2L304,1587.3L306,1587.3L308,1587.3L310,1587.4L312,1587.4L314,1587.4L316,1587.5L318,1587.5L320,1587.5L322,1587.6L324,1587.6L326,1587.6L328,1587.7L330,1587.7L332,1587.8L334,1587.8L336,1587.9L338,1588.0L340,1588.0L342,1588.1L344,1588.2L346,1588.2L348,1588.3L350,1588.4L352,1588.5L354,1588.6L356,1588.6L358,1588.7L360,1588.8L362,1588.9L364,1589.0L366,1589.1L368,1589.2L370,1589.3L372,1589.4L374,1589.5L376,1589.6L378,1589.7L380,1589.8L382,1589.9L384,1590.0L386,1590.1L388,1590.2L390,1590.3L392,1590.4L394,1590.5L396,1590.7L398,1590.8L400,1590.9L402,1591.0L404,1591.1L406,1591.2L408,1591.3L410,1591.4L412,1591.5L414,1591.7L416,1591.8L418,1591.9L420,1592.0L422,1592.1L424,1592.2L426,1592.3L428,1592.4L430,1592.5L432,1592.7L434,1592.8L436,1592.9L438,1593.1L440,1593.2L442,1593.3L444,1593.5L446,1593.6L448,1593.8L450,1593.9L452,1594.1L454,1594.2L456,1594.4L458,1594.5L460,1594.7L462,1594.9L464,1595.0L466,1595.2L468,1595.3L470,1595.5L472,1595.6L474,1595.8L476,1596.0L478,1596.1L480,1596.3L482,1596.4L484,1596.6L486,1596.7L488,1596.8L490,1597.0L492,1597.1L494,1597.3L496,1597.4L498,1597.5L500,1597.6L502,1597.8L504,1597.9L506,1598.0L508,1598.1L510,1598.2L512,1598.3L514,1598.4L516,1598.5L518,1598.6L520,1598.6L522,1598.7L524,1598.8L526,1598.8L528,1598.9L530,1598.9L532,1599.0L534,1599.1L536,1599.1L538,1599.2L540,1599.2L542,1599.2L544,1599.3L546,1599.3L548,1599.4L550,1599.4L552,1599.4L554,1599.5L556,1599.5L558,1599.6L560,1599.6L562,1599.6L564,1599.7L566,1599.7L568,1599.7L570,1599.8L572,1599.8L574,1599.8L576,1599.9L578,1599.9L580,1599.9L582,1599.9L584,1600.0L586,1600.0L588,1600.0L590,1600.1L592,1600.1L594,1600.1L596,1600.1L598,1600.2L600,1600.2L602,1600.2L604,1600.3L606,1600.3L608,1600.3L610,1600.3L612,1600.4L614,1600.4L616,1600.4L618,1600.4L620,1600.4L622,1600.5L624,1600.5L626,1600.5L628,1600.5L630,1600.5L632,1600.5L634,1600.6L636,1600.6L638,1600.6L640,1600.6L642,1600.6L644,1600.6L646,1600.7L648,1600.7L650,1600.7L652,1600.7L654,1600.7L656,1600.7L658,1600.8L660,1600.8L662,1600.8L664,1600.8L666,1600.9L668,1600.9L670,1600.9L672,1600.9L674,1601.0L676,1601.0L678,1601.0L680,1601.1L682,1601.1L684,1601.1L686,1601.2L688,1601.2L690,1601.3L692,1601.3L694,1601.4L696,1601.5L698,1601.7L700,1601.8L702,1602.0L704,1602.2L706,1602.4L708,1602.6L710,1602.8L712,1603.1L714,1603.3L716,1603.6L718,1603.9L720,1604.2L722,1604.5L724,1604.8L726,1605.1L728,1605.4L730,1605.7L732,1606.0L734,1606.3L736,1606.6L738,1606.9L740,1607.2L742,1607.5L744,1607.8L746,1608.0L748,1608.3L750,1608.6L752,1608.8L754,1609.0L756,1609.2L758,1609.4L760,1609.6L762,1609.7L764,1609.8L766,1609.9L768,1610.0L770,1610.0L772,1610.0L774,1610.0L776,1609.9L778,1609.8L780,1609.7L782,1609.5L784,1609.2L786,1608.9L788,1608.5L790,1608.0L792,1607.4L794,1606.7L796,1605.9L798,1604.9L800,1603.8L802,1602.5L804,1601.1L806,1599.4L808,1597.4L810,1595.2L812,1592.7L814,1589.9L816,1586.8L818,1583.3L820,1579.4L822,1575.1L824,1570.4L826,1565.1L828,1559.4L830,1553.1L832,1546.3L834,1538.9L836,1530.9L838,1522.4L840,1513.2L842,1503.3L844,1492.9L846,1481.8L848,1470.2L850,1457.9L852,1445.1L854,1431.7L856,1417.9L858,1403.6L860,1388.9L862,1373.9L864,1358.7L866,1343.2L868,1327.6L870,1312.0L872,1296.5L874,1281.1L876,1266.0L878,1251.3L880,1237.1L882,1223.4L884,1210.4L886,1198.2L888,1186.9L890,1176.6L892,1167.4L894,1159.3L896,1152.5L898,1146.9L900,1142.7L902,1139.9L904,1138.6L906,1138.7L908,1140.1L910,1142.8L912,1146.9L914,1152.2L916,1158.7L918,1166.3L920,1175.1L922,1184.9L924,1195.6L926,1207.3L928,1219.7L930,1232.8L932,1246.5L934,1260.8L936,1275.5L938,1290.5L940,1305.8L942,1321.2L944,1336.6L946,1352.1L948,1367.4L950,1382.6L952,1397.6L954,1412.3L956,1426.6L958,1440.5L960,1453.9L962,1466.9L964,1479.4L966,1491.3L968,1502.7L970,1513.5L972,1523.7L974,1533.3L976,1542.4L978,1550.9L980,1558.8L982,1566.2L984,1573.1L986,1579.4L988,1585.3L990,1590.7L992,1595.6L994,1600.1L996,1604.3L998,1608.0L1000,1611.4L1002,1614.5L1004,1617.3L1006,1619.8L1008,1622.1L1010,1624.1L1012,1625.9L1014,1627.5L1016,1628.9L1018,1630.1L1020,1631.2L1022,1632.2L1024,1633.1L1026,1633.8L1028,1634.4L1030,1635.0L1032,1635.5L1034,1635.9L1036,1636.3L1038,1636.6L1040,1636.9L1042,1637.2L1044,1637.4L1046,1637.6L1048,1637.8L1050,1637.9L1052,1638.1L1054,1638.2L1056,1638.3L1058,1638.4L1060,1638.5L1062,1638.6L1064,1638.7L1066,1638.8L1068,1638.8L1070,1638.9L1072,1638.9L1074,1639.0L1076,1639.1L1078,1639.1L1080,1639.2L1082,1639.2L1084,1639.2L1086,1639.3L1088,1639.3L1090,1639.4L1092,1639.4L1094,1639.4L1096,1639.5L1098,1639.5L1100,1639.5L1102,1639.6L1104,1639.6L1106,1639.6L1108,1639.6L1110,1639.7L1112,1639.7L1114,1639.7L1116,1639.7L1118,1639.8L1120,1639.8L1122,1639.8L1124,1639.8L1126,1639.9L1128,1639.9L1130,1639.9L1132,1639.9L1134,1639.9L1136,1639.9L1138,1639.9L1140,1640.0L1142,1640.0L1144,1640.0L1146,1640.0L1148,1640.0L1150,1640.0L1150,1640.5L1148,1640.5L1146,1640.5L1144,1640.5L1142,1640.5L1140,1640.5L1138,1640.5L1136,1640.5L1134,1640.5L1132,1640.5L1130,1640.5L1128,1640.5L1126,1640.4L1124,1640.4L1122,1640.4L1120,1640.4L1118,1640.4L1116,1640.4L1114,1640.4L1112,1640.4L1110,1640.4L1108,1640.4L1106,1640.3L1104,1640.3L1102,1640.3L1100,1640.3L1098,1640.3L1096,1640.3L1094,1640.2L1092,1640.2L1090,1640.2L1088,1640.2L1086,1640.2L1084,1640.1L1082,1640.1L1080,1640.1L1078,1640.1L1076,1640.1L1074,1640.0L1072,1640.0L1070,1640.0L1068,1640.0L1066,1639.9L1064,1639.9L1062,1639.9L1060,1639.8L1058,1639.8L1056,1639.8L1054,1639.8L1052,1639.7L1050,1639.7L1048,1639.7L1046,1639.6L1044,1639.6L1042,1639.6L1040,1639.5L1038,1639.5L1036,1639.5L1034,1639.4L1032,1639.4L1030,1639.4L1028,1639.3L1026,1639.3L1024,1639.2L1022,1639.2L1020,1639.1L1018,1639.0L1016,1638.9L1014,1638.8L1012,1638.7L1010,1638.6L1008,1638.5L1006,1638.3L1004,1638.2L1002,1638.0L1000,1637.9L998,1637.7L996,1637.6L994,1637.4L992,1637.2L990,1637.1L988,1636.9L986,1636.7L984,1636.5L982,1636.4L980,1636.2L978,1636.0L976,1635.8L974,1635.6L972,1635.4L970,1635.2L968,1635.0L966,1634.8L964,1634.5L962,1634.3L960,1634.0L958,1633.8L956,1633.5L954,1633.3L952,1633.0L950,1632.7L948,1632.4L946,1632.1L944,1631.9L942,1631.6L940,1631.3L938,1631.0L936,1630.6L934,1630.3L932,1630.0L930,1629.7L928,1629.4L926,1629.1L924,1628.8L922,1628.5L920,1628.1L918,1627.8L916,1627.5L914,1627.2L912,1626.9L910,1626.6L908,1626.3L906,1626.0L904,1625.7L902,1625.4L900,1625.1L898,1624.8L896,1624.5L894,1624.2L892,1623.9L890,1623.6L888,1623.3L886,1623.0L884,1622.7L882,1622.4L880,1622.1L878,1621.8L876,1621.4L874,1621.1L872,1620.8L870,1620.5L868,1620.2L866,1619.9L864,1619.6L862,1619.4L860,1619.1L858,1618.8L856,1618.6L854,1618.3L852,1618.1L850,1617.9L848,1617.7L846,1617.5L844,1617.3L842,1617.1L840,1617.0L838,1616.8L836,1616.6L834,1616.5L832,1616.3L830,1616.1L828,1616.0L826,1615.9L824,1615.7L822,1615.6L820,1615.4L818,1615.3L816,1615.2L814,1615.0L812,1614.9L810,1614.8L808,1614.6L806,1614.5L804,1614.4L802,1614.3L800,1614.1L798,1614.0L796,1613.9L794,1613.7L792,1613.6L790,1613.5L788,1613.3L786,1613.2L784,1613.1L782,1612.9L780,1612.8L778,1612.6L776,1612.4L774,1612.3L772,1612.1L770,1611.9L768,1611.8L766,1611.6L764,1611.4L762,1611.2L760,1611.0L758,1610.8L756,1610.5L754,1610.2L752,1610.0L750,1609.7L748,1609.4L746,1609.1L744,1608.8L742,1608.5L740,1608.2L738,1607.8L736,1607.5L734,1607.2L732,1606.9L730,1606.5L728,1606.2L726,1605.9L724,1605.6L722,1605.2L720,1604.9L718,1604.6L716,1604.3L714,1604.1L712,1603.8L710,1603.5L708,1603.3L706,1603.0L704,1602.8L702,1602.6L700,1602.4L698,1602.3L696,1602.1L694,1602.0L692,1601.9L690,1601.8L688,1601.8L686,1601.7L684,1601.7L682,1601.6L680,1601.6L678,1601.5L676,1601.5L674,1601.5L672,1601.4L670,1601.4L668,1601.4L666,1601.3L664,1601.3L662,1601.3L660,1601.2L658,1601.2L656,1601.2L654,1601.2L652,1601.1L650,1601.1L648,1601.1L646,1601.1L644,1601.0L642,1601.0L640,1601.0L638,1601.0L636,1600.9L634,1600.9L632,1600.9L630,1600.9L628,1600.9L626,1600.8L624,1600.8L622,1600.8L620,1600.8L618,1600.8L616,1600.7L614,1600.7L612,1600.7L610,1600.7L608,1600.6L606,1600.6L604,1600.6L602,1600.5L600,1600.5L598,1600.5L596,1600.4L594,1600.4L592,1600.4L590,1600.3L588,1600.3L586,1600.3L584,1600.2L582,1600.2L580,1600.2L578,1600.1L576,1600.1L574,1600.1L572,1600.0L570,1600.0L568,1600.0L566,1599.9L564,1599.9L562,1599.9L560,1599.8L558,1599.8L556,1599.7L554,1599.7L552,1599.7L550,1599.6L548,1599.6L546,1599.5L544,1599.5L542,1599.4L540,1599.4L538,1599.4L536,1599.3L534,1599.3L532,1599.2L530,1599.1L528,1599.1L526,1599.0L524,1599.0L522,1598.9L520,1598.8L518,1598.8L516,1598.7L514,1598.6L512,1598.5L510,1598.4L508,1598.3L506,1598.2L504,1598.1L502,1597.9L500,1597.8L498,1597.7L496,1597.6L494,1597.4L492,1597.3L490,1597.1L488,1597.0L486,1596.9L484,1596.7L482,1596.6L480,1596.4L478,1596.3L476,1596.1L474,1595.9L472,1595.8L470,1595.6L468,1595.5L466,1595.3L464,1595.2L462,1595.0L460,1594.8L458,1594.7L456,1594.5L454,1594.4L452,1594.2L450,1594.1L448,1593.9L446,1593.8L444,1593.6L442,1593.5L440,1593.3L438,1593.2L436,1593.1L434,1592.9L432,1592.8L430,1592.7L428,1592.5L426,1592.4L424,1592.3L422,1592.2L420,1592.1L418,1592.0L416,1591.9L414,1591.8L412,1591.7L410,1591.5L408,1591.4L406,1591.3L404,1591.2L402,1591.1L400,1591.0L398,1590.9L396,1590.8L394,1590.7L392,1590.5L390,1590.4L388,1590.3L386,1590.2L384,1590.1L382,1590.0L380,1589.9L378,1589.8L376,1589.7L374,1589.6L372,1589.5L370,1589.4L368,1589.3L366,1589.2L364,1589.1L362,1589.0L360,1588.9L358,1588.8L356,1588.7L354,1588.6L352,1588.6L350,1588.5L348,1588.4L346,1588.3L344,1588.2L342,1588.2L340,1588.1L338,1588.0L336,1588.0L334,1587.9L332,1587.9L330,1587.8L328,1587.8L326,1587.7L324,1587.7L322,1587.6L320,1587.6L318,1587.6L316,1587.5L314,1587.5L312,1587.5L310,1587.4L308,1587.4L306,1587.4L304,1587.3L302,1587.3L300,1587.3L298,1587.2L296,1587.2L294,1587.2L292,1587.2L290,1587.1L288,1587.1L286,1587.1L284,1587.0L282,1587.0L280,1587.0L278,1587.0L276,1586.9L274,1586.9L272,1586.9L270,1586.9L268,1586.8L266,1586.8L264,1586.8L262,1586.8L260,1586.8L258,1586.7L256,1586.7L254,1586.7L252,1586.7L250,1586.7L248,1586.6L246,1586.6L244,1586.6L242,1586.6L240,1586.6L238,1586.6L236,1586.6L234,1586.6L232,1586.5L230,1586.5L228,1586.5L226,1586.5L224,1586.5L222,1586.5L220,1586.5L218,1586.5L216,1586.5L214,1586.5L212,1586.5 Z" fill="url(#gB2)" stroke="none" />
<path d="M466,1595.0L468,1595.2L470,1595.3L472,1595.5L474,1595.6L476,1595.8L478,1595.9L480,1596.1L482,1596.2L484,1596.4L486,1596.5L488,1596.6L490,1596.8L492,1596.9L494,1597.0L496,1597.2L498,1597.3L500,1597.4L502,1597.5L504,1597.6L506,1597.8L508,1597.9L510,1598.0L512,1598.1L514,1598.1L516,1598.2L518,1598.3L520,1598.4L522,1598.4L524,1598.5L526,1598.5L528,1598.6L530,1598.6L532,1598.7L534,1598.7L536,1598.8L538,1598.8L540,1598.8L542,1598.9L544,1598.9L546,1598.9L548,1599.0L550,1599.0L552,1599.0L554,1599.1L556,1599.1L558,1599.1L560,1599.1L562,1599.2L564,1599.2L566,1599.2L568,1599.2L570,1599.2L572,1599.2L574,1599.2L576,1599.3L578,1599.3L580,1599.3L582,1599.3L584,1599.3L586,1599.2L588,1599.2L590,1599.2L592,1599.2L594,1599.1L596,1599.1L598,1599.0L600,1598.9L602,1598.9L604,1598.7L606,1598.6L608,1598.4L610,1598.2L612,1598.0L614,1597.7L616,1597.4L618,1597.0L620,1596.6L622,1596.0L624,1595.4L626,1594.8L628,1594.0L630,1593.1L632,1592.0L634,1590.9L636,1589.6L638,1588.1L640,1586.4L642,1584.5L644,1582.4L646,1580.0L648,1577.4L650,1574.5L652,1571.3L654,1567.8L656,1563.9L658,1559.7L660,1555.0L662,1550.0L664,1544.5L666,1538.7L668,1532.3L670,1525.5L672,1518.3L674,1510.6L676,1502.4L678,1493.7L680,1484.6L682,1475.0L684,1465.0L686,1454.6L688,1443.9L690,1432.8L692,1421.4L694,1409.7L696,1397.9L698,1385.9L700,1373.9L702,1361.8L704,1349.8L706,1337.9L708,1326.2L710,1314.8L712,1303.7L714,1293.0L716,1282.8L718,1273.2L720,1264.2L722,1255.9L724,1248.5L726,1241.8L728,1236.1L730,1231.3L732,1227.6L734,1224.8L736,1223.1L738,1222.5L740,1223.0L742,1224.6L744,1227.4L746,1231.3L748,1236.3L750,1242.3L752,1249.3L754,1257.3L756,1266.1L758,1275.6L760,1285.9L762,1296.8L764,1308.2L766,1320.1L768,1332.3L770,1344.8L772,1357.5L774,1370.4L776,1383.2L778,1396.0L780,1408.7L782,1421.3L784,1433.6L786,1445.6L788,1457.3L790,1468.5L792,1479.4L794,1489.8L796,1499.8L798,1509.3L800,1518.2L802,1526.7L804,1534.7L806,1542.1L808,1549.1L810,1555.5L812,1561.5L814,1567.1L816,1572.2L818,1576.9L820,1581.1L822,1585.0L824,1588.6L826,1591.8L828,1594.7L830,1597.4L832,1599.7L834,1601.9L836,1603.8L838,1605.5L840,1607.1L842,1608.4L844,1609.7L846,1610.8L848,1611.8L850,1612.7L852,1613.5L854,1614.3L856,1615.0L858,1615.6L860,1616.2L862,1616.8L864,1617.3L866,1617.8L868,1618.3L870,1618.8L872,1619.2L874,1619.7L876,1620.1L878,1620.5L880,1620.9L882,1621.2L884,1621.6L886,1622.0L888,1622.3L890,1622.7L892,1623.0L894,1623.3L896,1623.7L898,1624.0L900,1624.3L902,1624.6L904,1624.9L906,1625.2L908,1625.6L910,1625.9L912,1626.2L914,1626.5L916,1626.9L918,1627.2L920,1627.5L922,1627.9L924,1628.2L926,1628.5L928,1628.8L930,1629.2L932,1629.5L934,1629.8L936,1630.1L938,1630.4L940,1630.7L942,1631.1L944,1631.4L946,1631.7L948,1632.0L950,1632.3L952,1632.5L954,1632.8L956,1633.1L958,1633.4L960,1633.6L962,1633.9L964,1634.1L966,1634.4L968,1634.6L970,1634.8L972,1635.0L974,1635.3L976,1635.4L978,1635.6L980,1635.8L982,1636.0L984,1636.2L986,1636.4L988,1636.5L990,1636.7L992,1636.9L994,1637.1L996,1637.3L998,1637.4L1000,1637.6L1002,1637.7" fill="none" stroke="#3c9cf0" stroke-width="2.8" stroke-linejoin="round" stroke-linecap="butt" />
<path d="M606,1600.3L608,1600.3L610,1600.3L612,1600.4L614,1600.4L616,1600.4L618,1600.4L620,1600.4L622,1600.5L624,1600.5L626,1600.5L628,1600.5L630,1600.5L632,1600.5L634,1600.6L636,1600.6L638,1600.6L640,1600.6L642,1600.6L644,1600.6L646,1600.7L648,1600.7L650,1600.7L652,1600.7L654,1600.7L656,1600.7L658,1600.8L660,1600.8L662,1600.8L664,1600.8L666,1600.9L668,1600.9L670,1600.9L672,1600.9L674,1601.0L676,1601.0L678,1601.0L680,1601.1L682,1601.1L684,1601.1L686,1601.2L688,1601.2L690,1601.3L692,1601.3L694,1601.4L696,1601.5L698,1601.7L700,1601.8L702,1602.0L704,1602.2L706,1602.4L708,1602.6L710,1602.8L712,1603.1L714,1603.3L716,1603.6L718,1603.9L720,1604.2L722,1604.5L724,1604.8L726,1605.1L728,1605.4L730,1605.7L732,1606.0L734,1606.3L736,1606.6L738,1606.9L740,1607.2L742,1607.5L744,1607.8L746,1608.0L748,1608.3L750,1608.6L752,1608.8L754,1609.0L756,1609.2L758,1609.4L760,1609.6L762,1609.7L764,1609.8L766,1609.9L768,1610.0L770,1610.0L772,1610.0L774,1610.0L776,1609.9L778,1609.8L780,1609.7L782,1609.5L784,1609.2L786,1608.9L788,1608.5L790,1608.0L792,1607.4L794,1606.7L796,1605.9L798,1604.9L800,1603.8L802,1602.5L804,1601.1L806,1599.4L808,1597.4L810,1595.2L812,1592.7L814,1589.9L816,1586.8L818,1583.3L820,1579.4L822,1575.1L824,1570.4L826,1565.1L828,1559.4L830,1553.1L832,1546.3L834,1538.9L836,1530.9L838,1522.4L840,1513.2L842,1503.3L844,1492.9L846,1481.8L848,1470.2L850,1457.9L852,1445.1L854,1431.7L856,1417.9L858,1403.6L860,1388.9L862,1373.9L864,1358.7L866,1343.2L868,1327.6L870,1312.0L872,1296.5L874,1281.1L876,1266.0L878,1251.3L880,1237.1L882,1223.4L884,1210.4L886,1198.2L888,1186.9L890,1176.6L892,1167.4L894,1159.3L896,1152.5L898,1146.9L900,1142.7L902,1139.9L904,1138.6L906,1138.7L908,1140.1L910,1142.8L912,1146.9L914,1152.2L916,1158.7L918,1166.3L920,1175.1L922,1184.9L924,1195.6L926,1207.3L928,1219.7L930,1232.8L932,1246.5L934,1260.8L936,1275.5L938,1290.5L940,1305.8L942,1321.2L944,1336.6L946,1352.1L948,1367.4L950,1382.6L952,1397.6L954,1412.3L956,1426.6L958,1440.5L960,1453.9L962,1466.9L964,1479.4L966,1491.3L968,1502.7L970,1513.5L972,1523.7L974,1533.3L976,1542.4L978,1550.9L980,1558.8L982,1566.2L984,1573.1L986,1579.4L988,1585.3L990,1590.7L992,1595.6L994,1600.1L996,1604.3L998,1608.0L1000,1611.4L1002,1614.5L1004,1617.3L1006,1619.8L1008,1622.1L1010,1624.1L1012,1625.9L1014,1627.5L1016,1628.9L1018,1630.1L1020,1631.2L1022,1632.2L1024,1633.1L1026,1633.8L1028,1634.4L1030,1635.0L1032,1635.5L1034,1635.9L1036,1636.3L1038,1636.6L1040,1636.9L1042,1637.2L1044,1637.4L1046,1637.6L1048,1637.8L1050,1637.9L1052,1638.1L1054,1638.2L1056,1638.3L1058,1638.4L1060,1638.5L1062,1638.6L1064,1638.7L1066,1638.8L1068,1638.8L1070,1638.9L1072,1638.9L1074,1639.0L1076,1639.1L1078,1639.1L1080,1639.2L1082,1639.2L1084,1639.2L1086,1639.3L1088,1639.3L1090,1639.4L1092,1639.4L1094,1639.4L1096,1639.5L1098,1639.5L1100,1639.5L1102,1639.6L1104,1639.6L1106,1639.6L1108,1639.6L1110,1639.7L1112,1639.7L1114,1639.7L1116,1639.7L1118,1639.8L1120,1639.8L1122,1639.8L1124,1639.8L1126,1639.9L1128,1639.9L1130,1639.9L1132,1639.9L1134,1639.9L1136,1639.9L1138,1639.9L1140,1640.0L1142,1640.0L1144,1640.0L1146,1640.0L1148,1640.0L1150,1640.0" fill="none" stroke="#1466c4" stroke-width="2.8" stroke-linejoin="round" stroke-linecap="butt" />
<path d="M212,1586.5L214,1586.5L216,1586.5L218,1586.5L220,1586.5L222,1586.5L224,1586.5L226,1586.5L228,1586.5L230,1586.5L232,1586.5L234,1586.5L236,1586.6L238,1586.6L240,1586.6L242,1586.6L244,1586.6L246,1586.6L248,1586.6L250,1586.6L252,1586.7L254,1586.7L256,1586.7L258,1586.7L260,1586.7L262,1586.8L264,1586.8L266,1586.8L268,1586.8L270,1586.8L272,1586.9L274,1586.9L276,1586.9L278,1586.9L280,1587.0L282,1587.0L284,1587.0L286,1587.1L288,1587.1L290,1587.1L292,1587.1L294,1587.2L296,1587.2L298,1587.2L300,1587.3L302,1587.3L304,1587.3L306,1587.4L308,1587.4L310,1587.4L312,1587.4L314,1587.5L316,1587.5L318,1587.5L320,1587.6L322,1587.6L324,1587.7L326,1587.7L328,1587.7L330,1587.8L332,1587.8L334,1587.9L336,1588.0L338,1588.0L340,1588.1L342,1588.2L344,1588.2L346,1588.3L348,1588.4L350,1588.5L352,1588.5L354,1588.6L356,1588.7L358,1588.8L360,1588.9L362,1589.0L364,1589.1L366,1589.2L368,1589.3L370,1589.4L372,1589.5L374,1589.6L376,1589.7L378,1589.8L380,1589.9L382,1590.0L384,1590.1L386,1590.2L388,1590.3L390,1590.4L392,1590.5L394,1590.6L396,1590.7L398,1590.8L400,1591.0L402,1591.1L404,1591.2L406,1591.3L408,1591.4L410,1591.5L412,1591.6L414,1591.7L416,1591.8L418,1592.0L420,1592.1L422,1592.2L424,1592.3L426,1592.4L428,1592.5L430,1592.6L432,1592.8L434,1592.9L436,1593.0L438,1593.2L440,1593.3L442,1593.4L444,1593.6L446,1593.7L448,1593.9L450,1594.0L452,1594.2L454,1594.3L456,1594.5L458,1594.6L460,1594.8L462,1595.0L464,1595.1L466,1595.3L468,1595.4L470,1595.6L472,1595.7L474,1595.9L476,1596.1L478,1596.2L480,1596.4L482,1596.5L484,1596.7L486,1596.8L488,1597.0L490,1597.1L492,1597.2L494,1597.4L496,1597.5L498,1597.6L500,1597.8L502,1597.9L504,1598.0L506,1598.1L508,1598.2L510,1598.3L512,1598.4L514,1598.5L516,1598.6L518,1598.7L520,1598.8L522,1598.8L524,1598.9L526,1599.0L528,1599.0L530,1599.1L532,1599.1L534,1599.2L536,1599.2L538,1599.3L540,1599.3L542,1599.4L544,1599.4L546,1599.5L548,1599.5L550,1599.6L552,1599.6L554,1599.6L556,1599.7L558,1599.7L560,1599.7L562,1599.8L564,1599.8L566,1599.9L568,1599.9L570,1599.9L572,1600.0L574,1600.0L576,1600.0L578,1600.0L580,1600.1L582,1600.1L584,1600.1L586,1600.2L588,1600.2L590,1600.2L592,1600.3L594,1600.3L596,1600.3L598,1600.4L600,1600.4L602,1600.4L604,1600.5L606,1600.5L608,1600.5L610,1600.5L612,1600.6L614,1600.6L616,1600.6L618,1600.6L620,1600.6L622,1600.7L624,1600.7L626,1600.7L628,1600.7L630,1600.7L632,1600.8L634,1600.8L636,1600.8L638,1600.8L640,1600.8L642,1600.8L644,1600.8L646,1600.9L648,1600.9L650,1600.9L652,1600.9L654,1600.9L656,1600.9L658,1600.9L660,1600.9L662,1600.9L664,1600.9L666,1600.9L668,1600.9L670,1600.9L672,1600.9L674,1600.9L676,1600.9L678,1600.9L680,1600.8L682,1600.8L684,1600.7L686,1600.7L688,1600.6L690,1600.5L692,1600.4L694,1600.4L696,1600.3L698,1600.2L700,1600.1L702,1600.0L704,1599.9L706,1599.8L708,1599.7L710,1599.5L712,1599.3L714,1599.1L716,1598.8L718,1598.5L720,1598.2L722,1597.8L724,1597.4L726,1596.9L728,1596.3L730,1595.7L732,1595.0L734,1594.3L736,1593.5L738,1592.6L740,1591.7L742,1590.6L744,1589.5L746,1588.4L748,1587.1L750,1585.8L752,1584.4L754,1583.0L756,1581.5L758,1579.9L760,1578.2L762,1576.5L764,1574.8L766,1573.0L768,1571.2L770,1569.4L772,1567.6L774,1565.8L776,1564.0L778,1562.2L780,1560.5L782,1558.8L784,1557.2L786,1555.6L788,1554.2L790,1552.8L792,1551.5L794,1550.3L796,1549.2L798,1548.3L800,1547.5L802,1546.8L804,1546.3L806,1545.9L808,1545.7L810,1545.7L812,1545.8L814,1546.0L816,1546.5L818,1547.0L820,1547.8L822,1548.7L824,1549.7L826,1550.9L828,1552.2L830,1553.6L832,1555.2L834,1556.8L836,1558.6L838,1560.4L840,1562.3L842,1564.3L844,1566.4L846,1568.5L848,1570.6L850,1572.8L852,1575.0L854,1577.2L856,1579.4L858,1581.6L860,1583.8L862,1586.0L864,1588.2L866,1590.3L868,1592.4L870,1594.5L872,1596.4L874,1598.4L876,1600.3L878,1602.1L880,1603.8L882,1605.5L884,1607.1L886,1608.6L888,1610.1L890,1611.5L892,1612.8L894,1614.1L896,1615.2L898,1616.4L900,1617.4L902,1618.4L904,1619.4L906,1620.3L908,1621.1L910,1622.0L912,1622.7L914,1623.5L916,1624.2L918,1624.8L920,1625.5L922,1626.1L924,1626.6L926,1627.2L928,1627.7L930,1628.2L932,1628.7L934,1629.1L936,1629.6L938,1630.0L940,1630.4L942,1630.8L944,1631.1L946,1631.5L948,1631.9L950,1632.2L952,1632.5L954,1632.8L956,1633.1L958,1633.4L960,1633.7L962,1634.0L964,1634.3L966,1634.5L968,1634.7L970,1635.0L972,1635.2L974,1635.4L976,1635.6L978,1635.8L980,1636.0L982,1636.2L984,1636.4L986,1636.5L988,1636.7L990,1636.9L992,1637.1L994,1637.3L996,1637.4L998,1637.6L1000,1637.7L1002,1637.9L1004,1638.1L1006,1638.2L1008,1638.3L1010,1638.5L1012,1638.6L1014,1638.7L1016,1638.8L1018,1638.9L1020,1639.0L1022,1639.1L1024,1639.1L1026,1639.2L1028,1639.2L1030,1639.3L1032,1639.3L1034,1639.3L1036,1639.4L1038,1639.4L1040,1639.4L1042,1639.5L1044,1639.5L1046,1639.5L1048,1639.6L1050,1639.6L1052,1639.6L1054,1639.7L1056,1639.7L1058,1639.7L1060,1639.8L1062,1639.8L1064,1639.8L1066,1639.9L1068,1639.9L1070,1639.9L1072,1639.9L1074,1640.0L1076,1640.0L1078,1640.0L1080,1640.0L1082,1640.1L1084,1640.1L1086,1640.1L1088,1640.1L1090,1640.1L1092,1640.2L1094,1640.2L1096,1640.2L1098,1640.2L1100,1640.2L1102,1640.2L1104,1640.3L1106,1640.3L1108,1640.3L1110,1640.3L1112,1640.3L1114,1640.3L1116,1640.3L1118,1640.4L1120,1640.4L1122,1640.4L1124,1640.4L1126,1640.4L1128,1640.4L1130,1640.4L1132,1640.4L1134,1640.4L1136,1640.4L1138,1640.4L1140,1640.4L1142,1640.4L1144,1640.5L1146,1640.5L1148,1640.5L1150,1640.5L1150,1640.5L1148,1640.5L1146,1640.5L1144,1640.5L1142,1640.5L1140,1640.5L1138,1640.5L1136,1640.5L1134,1640.5L1132,1640.5L1130,1640.5L1128,1640.5L1126,1640.4L1124,1640.4L1122,1640.4L1120,1640.4L1118,1640.4L1116,1640.4L1114,1640.4L1112,1640.4L1110,1640.4L1108,1640.4L1106,1640.3L1104,1640.3L1102,1640.3L1100,1640.3L1098,1640.3L1096,1640.3L1094,1640.2L1092,1640.2L1090,1640.2L1088,1640.2L1086,1640.2L1084,1640.1L1082,1640.1L1080,1640.1L1078,1640.1L1076,1640.1L1074,1640.0L1072,1640.0L1070,1640.0L1068,1640.0L1066,1639.9L1064,1639.9L1062,1639.9L1060,1639.8L1058,1639.8L1056,1639.8L1054,1639.8L1052,1639.7L1050,1639.7L1048,1639.7L1046,1639.6L1044,1639.6L1042,1639.6L1040,1639.5L1038,1639.5L1036,1639.5L1034,1639.4L1032,1639.4L1030,1639.4L1028,1639.3L1026,1639.3L1024,1639.2L1022,1639.2L1020,1639.1L1018,1639.0L1016,1638.9L1014,1638.8L1012,1638.7L1010,1638.6L1008,1638.5L1006,1638.3L1004,1638.2L1002,1638.0L1000,1637.9L998,1637.7L996,1637.6L994,1637.4L992,1637.2L990,1637.1L988,1636.9L986,1636.7L984,1636.5L982,1636.4L980,1636.2L978,1636.0L976,1635.8L974,1635.6L972,1635.4L970,1635.2L968,1635.0L966,1634.8L964,1634.5L962,1634.3L960,1634.0L958,1633.8L956,1633.5L954,1633.3L952,1633.0L950,1632.7L948,1632.4L946,1632.1L944,1631.9L942,1631.6L940,1631.3L938,1631.0L936,1630.6L934,1630.3L932,1630.0L930,1629.7L928,1629.4L926,1629.1L924,1628.8L922,1628.5L920,1628.1L918,1627.8L916,1627.5L914,1627.2L912,1626.9L910,1626.6L908,1626.3L906,1626.0L904,1625.7L902,1625.4L900,1625.1L898,1624.8L896,1624.5L894,1624.2L892,1623.9L890,1623.6L888,1623.3L886,1623.0L884,1622.7L882,1622.4L880,1622.1L878,1621.8L876,1621.4L874,1621.1L872,1620.8L870,1620.5L868,1620.2L866,1619.9L864,1619.6L862,1619.4L860,1619.1L858,1618.8L856,1618.6L854,1618.3L852,1618.1L850,1617.9L848,1617.7L846,1617.5L844,1617.3L842,1617.1L840,1617.0L838,1616.8L836,1616.6L834,1616.5L832,1616.3L830,1616.1L828,1616.0L826,1615.9L824,1615.7L822,1615.6L820,1615.4L818,1615.3L816,1615.2L814,1615.0L812,1614.9L810,1614.8L808,1614.6L806,1614.5L804,1614.4L802,1614.3L800,1614.1L798,1614.0L796,1613.9L794,1613.7L792,1613.6L790,1613.5L788,1613.3L786,1613.2L784,1613.1L782,1612.9L780,1612.8L778,1612.6L776,1612.4L774,1612.3L772,1612.1L770,1611.9L768,1611.8L766,1611.6L764,1611.4L762,1611.2L760,1611.0L758,1610.8L756,1610.5L754,1610.2L752,1610.0L750,1609.7L748,1609.4L746,1609.1L744,1608.8L742,1608.5L740,1608.2L738,1607.8L736,1607.5L734,1607.2L732,1606.9L730,1606.5L728,1606.2L726,1605.9L724,1605.6L722,1605.2L720,1604.9L718,1604.6L716,1604.3L714,1604.1L712,1603.8L710,1603.5L708,1603.3L706,1603.0L704,1602.8L702,1602.6L700,1602.4L698,1602.3L696,1602.1L694,1602.0L692,1601.9L690,1601.8L688,1601.8L686,1601.7L684,1601.7L682,1601.6L680,1601.6L678,1601.5L676,1601.5L674,1601.5L672,1601.4L670,1601.4L668,1601.4L666,1601.3L664,1601.3L662,1601.3L660,1601.2L658,1601.2L656,1601.2L654,1601.2L652,1601.1L650,1601.1L648,1601.1L646,1601.1L644,1601.0L642,1601.0L640,1601.0L638,1601.0L636,1600.9L634,1600.9L632,1600.9L630,1600.9L628,1600.9L626,1600.8L624,1600.8L622,1600.8L620,1600.8L618,1600.8L616,1600.7L614,1600.7L612,1600.7L610,1600.7L608,1600.6L606,1600.6L604,1600.6L602,1600.5L600,1600.5L598,1600.5L596,1600.4L594,1600.4L592,1600.4L590,1600.3L588,1600.3L586,1600.3L584,1600.2L582,1600.2L580,1600.2L578,1600.1L576,1600.1L574,1600.1L572,1600.0L570,1600.0L568,1600.0L566,1599.9L564,1599.9L562,1599.9L560,1599.8L558,1599.8L556,1599.7L554,1599.7L552,1599.7L550,1599.6L548,1599.6L546,1599.5L544,1599.5L542,1599.4L540,1599.4L538,1599.4L536,1599.3L534,1599.3L532,1599.2L530,1599.1L528,1599.1L526,1599.0L524,1599.0L522,1598.9L520,1598.8L518,1598.8L516,1598.7L514,1598.6L512,1598.5L510,1598.4L508,1598.3L506,1598.2L504,1598.1L502,1597.9L500,1597.8L498,1597.7L496,1597.6L494,1597.4L492,1597.3L490,1597.1L488,1597.0L486,1596.9L484,1596.7L482,1596.6L480,1596.4L478,1596.3L476,1596.1L474,1595.9L472,1595.8L470,1595.6L468,1595.5L466,1595.3L464,1595.2L462,1595.0L460,1594.8L458,1594.7L456,1594.5L454,1594.4L452,1594.2L450,1594.1L448,1593.9L446,1593.8L444,1593.6L442,1593.5L440,1593.3L438,1593.2L436,1593.1L434,1592.9L432,1592.8L430,1592.7L428,1592.5L426,1592.4L424,1592.3L422,1592.2L420,1592.1L418,1592.0L416,1591.9L414,1591.8L412,1591.7L410,1591.5L408,1591.4L406,1591.3L404,1591.2L402,1591.1L400,1591.0L398,1590.9L396,1590.8L394,1590.7L392,1590.5L390,1590.4L388,1590.3L386,1590.2L384,1590.1L382,1590.0L380,1589.9L378,1589.8L376,1589.7L374,1589.6L372,1589.5L370,1589.4L368,1589.3L366,1589.2L364,1589.1L362,1589.0L360,1588.9L358,1588.8L356,1588.7L354,1588.6L352,1588.6L350,1588.5L348,1588.4L346,1588.3L344,1588.2L342,1588.2L340,1588.1L338,1588.0L336,1588.0L334,1587.9L332,1587.9L330,1587.8L328,1587.8L326,1587.7L324,1587.7L322,1587.6L320,1587.6L318,1587.6L316,1587.5L314,1587.5L312,1587.5L310,1587.4L308,1587.4L306,1587.4L304,1587.3L302,1587.3L300,1587.3L298,1587.2L296,1587.2L294,1587.2L292,1587.2L290,1587.1L288,1587.1L286,1587.1L284,1587.0L282,1587.0L280,1587.0L278,1587.0L276,1586.9L274,1586.9L272,1586.9L270,1586.9L268,1586.8L266,1586.8L264,1586.8L262,1586.8L260,1586.8L258,1586.7L256,1586.7L254,1586.7L252,1586.7L250,1586.7L248,1586.6L246,1586.6L244,1586.6L242,1586.6L240,1586.6L238,1586.6L236,1586.6L234,1586.6L232,1586.5L230,1586.5L228,1586.5L226,1586.5L224,1586.5L222,1586.5L220,1586.5L218,1586.5L216,1586.5L214,1586.5L212,1586.5 Z" fill="url(#gG)" stroke="none" fill-opacity="0.7"/>
<path d="M212,1586.5L214,1586.5L216,1586.5L218,1586.5L220,1586.5L222,1586.5L224,1586.5L226,1586.5L228,1586.5L230,1586.5L232,1586.5L234,1586.5L236,1586.5L238,1586.6L240,1586.6L242,1586.6L244,1586.6L246,1586.6L248,1586.6L250,1586.6L252,1586.7L254,1586.7L256,1586.7L258,1586.7L260,1586.7L262,1586.8L264,1586.8L266,1586.8L268,1586.8L270,1586.8L272,1586.9L274,1586.9L276,1586.9L278,1586.9L280,1587.0L282,1587.0L284,1587.0L286,1587.1L288,1587.1L290,1587.1L292,1587.1L294,1587.2L296,1587.2L298,1587.2L300,1587.3L302,1587.3L304,1587.3L306,1587.3L308,1587.4L310,1587.4L312,1587.4L314,1587.5L316,1587.5L318,1587.5L320,1587.6L322,1587.6L324,1587.7L326,1587.7L328,1587.7L330,1587.8L332,1587.8L334,1587.9L336,1588.0L338,1588.0L340,1588.1L342,1588.2L344,1588.2L346,1588.3L348,1588.4L350,1588.5L352,1588.5L354,1588.6L356,1588.7L358,1588.8L360,1588.9L362,1589.0L364,1589.1L366,1589.2L368,1589.3L370,1589.4L372,1589.5L374,1589.6L376,1589.7L378,1589.8L380,1589.9L382,1590.0L384,1590.1L386,1590.2L388,1590.3L390,1590.4L392,1590.5L394,1590.6L396,1590.7L398,1590.8L400,1591.0L402,1591.1L404,1591.2L406,1591.3L408,1591.4L410,1591.5L412,1591.6L414,1591.7L416,1591.8L418,1592.0L420,1592.1L422,1592.2L424,1592.3L426,1592.4L428,1592.5L430,1592.6L432,1592.8L434,1592.9L436,1593.0L438,1593.2L440,1593.3L442,1593.4L444,1593.6L446,1593.7L448,1593.9L450,1594.0L452,1594.2L454,1594.3L456,1594.5L458,1594.6L460,1594.8L462,1595.0L464,1595.1L466,1595.3L468,1595.4L470,1595.6L472,1595.7L474,1595.9L476,1596.1L478,1596.2L480,1596.4L482,1596.5L484,1596.7L486,1596.8L488,1597.0L490,1597.1L492,1597.2L494,1597.4L496,1597.5L498,1597.6L500,1597.8L502,1597.9L504,1598.0L506,1598.1L508,1598.2L510,1598.3L512,1598.4L514,1598.5L516,1598.6L518,1598.7L520,1598.8L522,1598.9L524,1598.9L526,1599.0L528,1599.0L530,1599.1L532,1599.1L534,1599.2L536,1599.3L538,1599.3L540,1599.4L542,1599.4L544,1599.4L546,1599.5L548,1599.5L550,1599.6L552,1599.6L554,1599.7L556,1599.7L558,1599.7L560,1599.8L562,1599.8L564,1599.8L566,1599.9L568,1599.9L570,1599.9L572,1600.0L574,1600.0L576,1600.0L578,1600.1L580,1600.1L582,1600.1L584,1600.2L586,1600.2L588,1600.2L590,1600.3L592,1600.3L594,1600.3L596,1600.4L598,1600.4L600,1600.4L602,1600.5L604,1600.5L606,1600.5L608,1600.6L610,1600.6L612,1600.6L614,1600.6L616,1600.7L618,1600.7L620,1600.7L622,1600.7L624,1600.7L626,1600.8L628,1600.8L630,1600.8L632,1600.8L634,1600.8L636,1600.9L638,1600.9L640,1600.9L642,1600.9L644,1600.9L646,1601.0L648,1601.0L650,1601.0L652,1601.0L654,1601.1L656,1601.1L658,1601.1L660,1601.1L662,1601.2L664,1601.2L666,1601.2L668,1601.3L670,1601.3L672,1601.3L674,1601.4L676,1601.4L678,1601.4L680,1601.5L682,1601.5L684,1601.6L686,1601.6L688,1601.7L690,1601.7L692,1601.8L694,1601.9L696,1602.0L698,1602.2L700,1602.3L702,1602.5L704,1602.7L706,1602.9L708,1603.1L710,1603.4L712,1603.6L714,1603.9L716,1604.2L718,1604.5L720,1604.8L722,1605.1L724,1605.4L726,1605.7L728,1606.0L730,1606.4L732,1606.7L734,1607.0L736,1607.3L738,1607.7L740,1608.0L742,1608.3L744,1608.6L746,1608.9L748,1609.2L750,1609.5L752,1609.8L754,1610.0L756,1610.3L758,1610.5L760,1610.7L762,1611.0L764,1611.1L766,1611.3L768,1611.5L770,1611.7L772,1611.8L774,1612.0L776,1612.1L778,1612.2L780,1612.4L782,1612.5L784,1612.6L786,1612.7L788,1612.8L790,1612.9L792,1613.0L794,1613.1L796,1613.2L798,1613.3L800,1613.3L802,1613.4L804,1613.4L806,1613.5L808,1613.5L810,1613.5L812,1613.5L814,1613.5L816,1613.5L818,1613.5L820,1613.4L822,1613.4L824,1613.3L826,1613.2L828,1613.1L830,1613.0L832,1612.8L834,1612.6L836,1612.4L838,1612.2L840,1612.0L842,1611.7L844,1611.4L846,1611.0L848,1610.7L850,1610.3L852,1609.8L854,1609.4L856,1608.9L858,1608.3L860,1607.7L862,1607.1L864,1606.5L866,1605.7L868,1605.0L870,1604.2L872,1603.3L874,1602.4L876,1601.5L878,1600.4L880,1599.4L882,1598.2L884,1597.0L886,1595.8L888,1594.5L890,1593.1L892,1591.7L894,1590.3L896,1588.8L898,1587.2L900,1585.6L902,1584.0L904,1582.4L906,1580.7L908,1579.1L910,1577.4L912,1575.7L914,1574.0L916,1572.3L918,1570.6L920,1569.0L922,1567.3L924,1565.7L926,1564.2L928,1562.6L930,1561.2L932,1559.7L934,1558.4L936,1557.1L938,1555.9L940,1554.8L942,1553.7L944,1552.8L946,1551.9L948,1551.2L950,1550.5L952,1550.0L954,1549.6L956,1549.3L958,1549.2L960,1549.1L962,1549.2L964,1549.4L966,1549.7L968,1550.2L970,1550.7L972,1551.4L974,1552.2L976,1553.2L978,1554.2L980,1555.3L982,1556.6L984,1557.9L986,1559.4L988,1560.9L990,1562.6L992,1564.3L994,1566.1L996,1567.9L998,1569.9L1000,1571.8L1002,1573.8L1004,1575.9L1006,1577.9L1008,1580.0L1010,1582.2L1012,1584.3L1014,1586.4L1016,1588.5L1018,1590.6L1020,1592.6L1022,1594.7L1024,1596.7L1026,1598.7L1028,1600.6L1030,1602.5L1032,1604.4L1034,1606.2L1036,1608.0L1038,1609.7L1040,1611.4L1042,1613.0L1044,1614.5L1046,1616.1L1048,1617.5L1050,1618.9L1052,1620.3L1054,1621.5L1056,1622.8L1058,1623.9L1060,1625.0L1062,1626.1L1064,1627.1L1066,1628.0L1068,1628.9L1070,1629.8L1072,1630.6L1074,1631.3L1076,1632.0L1078,1632.7L1080,1633.3L1082,1633.9L1084,1634.4L1086,1634.9L1088,1635.4L1090,1635.8L1092,1636.2L1094,1636.5L1096,1636.9L1098,1637.2L1100,1637.5L1102,1637.7L1104,1638.0L1106,1638.2L1108,1638.4L1110,1638.6L1112,1638.8L1114,1638.9L1116,1639.1L1118,1639.2L1120,1639.3L1122,1639.4L1124,1639.5L1126,1639.6L1128,1639.7L1130,1639.7L1132,1639.8L1134,1639.9L1136,1639.9L1138,1640.0L1140,1640.0L1142,1640.0L1144,1640.1L1146,1640.1L1148,1640.1L1150,1640.1L1150,1640.5L1148,1640.5L1146,1640.5L1144,1640.5L1142,1640.5L1140,1640.5L1138,1640.5L1136,1640.5L1134,1640.5L1132,1640.5L1130,1640.5L1128,1640.5L1126,1640.4L1124,1640.4L1122,1640.4L1120,1640.4L1118,1640.4L1116,1640.4L1114,1640.4L1112,1640.4L1110,1640.4L1108,1640.4L1106,1640.3L1104,1640.3L1102,1640.3L1100,1640.3L1098,1640.3L1096,1640.3L1094,1640.2L1092,1640.2L1090,1640.2L1088,1640.2L1086,1640.2L1084,1640.1L1082,1640.1L1080,1640.1L1078,1640.1L1076,1640.1L1074,1640.0L1072,1640.0L1070,1640.0L1068,1640.0L1066,1639.9L1064,1639.9L1062,1639.9L1060,1639.8L1058,1639.8L1056,1639.8L1054,1639.8L1052,1639.7L1050,1639.7L1048,1639.7L1046,1639.6L1044,1639.6L1042,1639.6L1040,1639.5L1038,1639.5L1036,1639.5L1034,1639.4L1032,1639.4L1030,1639.4L1028,1639.3L1026,1639.3L1024,1639.2L1022,1639.2L1020,1639.1L1018,1639.0L1016,1638.9L1014,1638.8L1012,1638.7L1010,1638.6L1008,1638.5L1006,1638.3L1004,1638.2L1002,1638.0L1000,1637.9L998,1637.7L996,1637.6L994,1637.4L992,1637.2L990,1637.1L988,1636.9L986,1636.7L984,1636.5L982,1636.4L980,1636.2L978,1636.0L976,1635.8L974,1635.6L972,1635.4L970,1635.2L968,1635.0L966,1634.8L964,1634.5L962,1634.3L960,1634.0L958,1633.8L956,1633.5L954,1633.3L952,1633.0L950,1632.7L948,1632.4L946,1632.1L944,1631.9L942,1631.6L940,1631.3L938,1631.0L936,1630.6L934,1630.3L932,1630.0L930,1629.7L928,1629.4L926,1629.1L924,1628.8L922,1628.5L920,1628.1L918,1627.8L916,1627.5L914,1627.2L912,1626.9L910,1626.6L908,1626.3L906,1626.0L904,1625.7L902,1625.4L900,1625.1L898,1624.8L896,1624.5L894,1624.2L892,1623.9L890,1623.6L888,1623.3L886,1623.0L884,1622.7L882,1622.4L880,1622.1L878,1621.8L876,1621.4L874,1621.1L872,1620.8L870,1620.5L868,1620.2L866,1619.9L864,1619.6L862,1619.4L860,1619.1L858,1618.8L856,1618.6L854,1618.3L852,1618.1L850,1617.9L848,1617.7L846,1617.5L844,1617.3L842,1617.1L840,1617.0L838,1616.8L836,1616.6L834,1616.5L832,1616.3L830,1616.1L828,1616.0L826,1615.9L824,1615.7L822,1615.6L820,1615.4L818,1615.3L816,1615.2L814,1615.0L812,1614.9L810,1614.8L808,1614.6L806,1614.5L804,1614.4L802,1614.3L800,1614.1L798,1614.0L796,1613.9L794,1613.7L792,1613.6L790,1613.5L788,1613.3L786,1613.2L784,1613.1L782,1612.9L780,1612.8L778,1612.6L776,1612.4L774,1612.3L772,1612.1L770,1611.9L768,1611.8L766,1611.6L764,1611.4L762,1611.2L760,1611.0L758,1610.8L756,1610.5L754,1610.2L752,1610.0L750,1609.7L748,1609.4L746,1609.1L744,1608.8L742,1608.5L740,1608.2L738,1607.8L736,1607.5L734,1607.2L732,1606.9L730,1606.5L728,1606.2L726,1605.9L724,1605.6L722,1605.2L720,1604.9L718,1604.6L716,1604.3L714,1604.1L712,1603.8L710,1603.5L708,1603.3L706,1603.0L704,1602.8L702,1602.6L700,1602.4L698,1602.3L696,1602.1L694,1602.0L692,1601.9L690,1601.8L688,1601.8L686,1601.7L684,1601.7L682,1601.6L680,1601.6L678,1601.5L676,1601.5L674,1601.5L672,1601.4L670,1601.4L668,1601.4L666,1601.3L664,1601.3L662,1601.3L660,1601.2L658,1601.2L656,1601.2L654,1601.2L652,1601.1L650,1601.1L648,1601.1L646,1601.1L644,1601.0L642,1601.0L640,1601.0L638,1601.0L636,1600.9L634,1600.9L632,1600.9L630,1600.9L628,1600.9L626,1600.8L624,1600.8L622,1600.8L620,1600.8L618,1600.8L616,1600.7L614,1600.7L612,1600.7L610,1600.7L608,1600.6L606,1600.6L604,1600.6L602,1600.5L600,1600.5L598,1600.5L596,1600.4L594,1600.4L592,1600.4L590,1600.3L588,1600.3L586,1600.3L584,1600.2L582,1600.2L580,1600.2L578,1600.1L576,1600.1L574,1600.1L572,1600.0L570,1600.0L568,1600.0L566,1599.9L564,1599.9L562,1599.9L560,1599.8L558,1599.8L556,1599.7L554,1599.7L552,1599.7L550,1599.6L548,1599.6L546,1599.5L544,1599.5L542,1599.4L540,1599.4L538,1599.4L536,1599.3L534,1599.3L532,1599.2L530,1599.1L528,1599.1L526,1599.0L524,1599.0L522,1598.9L520,1598.8L518,1598.8L516,1598.7L514,1598.6L512,1598.5L510,1598.4L508,1598.3L506,1598.2L504,1598.1L502,1597.9L500,1597.8L498,1597.7L496,1597.6L494,1597.4L492,1597.3L490,1597.1L488,1597.0L486,1596.9L484,1596.7L482,1596.6L480,1596.4L478,1596.3L476,1596.1L474,1595.9L472,1595.8L470,1595.6L468,1595.5L466,1595.3L464,1595.2L462,1595.0L460,1594.8L458,1594.7L456,1594.5L454,1594.4L452,1594.2L450,1594.1L448,1593.9L446,1593.8L444,1593.6L442,1593.5L440,1593.3L438,1593.2L436,1593.1L434,1592.9L432,1592.8L430,1592.7L428,1592.5L426,1592.4L424,1592.3L422,1592.2L420,1592.1L418,1592.0L416,1591.9L414,1591.8L412,1591.7L410,1591.5L408,1591.4L406,1591.3L404,1591.2L402,1591.1L400,1591.0L398,1590.9L396,1590.8L394,1590.7L392,1590.5L390,1590.4L388,1590.3L386,1590.2L384,1590.1L382,1590.0L380,1589.9L378,1589.8L376,1589.7L374,1589.6L372,1589.5L370,1589.4L368,1589.3L366,1589.2L364,1589.1L362,1589.0L360,1588.9L358,1588.8L356,1588.7L354,1588.6L352,1588.6L350,1588.5L348,1588.4L346,1588.3L344,1588.2L342,1588.2L340,1588.1L338,1588.0L336,1588.0L334,1587.9L332,1587.9L330,1587.8L328,1587.8L326,1587.7L324,1587.7L322,1587.6L320,1587.6L318,1587.6L316,1587.5L314,1587.5L312,1587.5L310,1587.4L308,1587.4L306,1587.4L304,1587.3L302,1587.3L300,1587.3L298,1587.2L296,1587.2L294,1587.2L292,1587.2L290,1587.1L288,1587.1L286,1587.1L284,1587.0L282,1587.0L280,1587.0L278,1587.0L276,1586.9L274,1586.9L272,1586.9L270,1586.9L268,1586.8L266,1586.8L264,1586.8L262,1586.8L260,1586.8L258,1586.7L256,1586.7L254,1586.7L252,1586.7L250,1586.7L248,1586.6L246,1586.6L244,1586.6L242,1586.6L240,1586.6L238,1586.6L236,1586.6L234,1586.6L232,1586.5L230,1586.5L228,1586.5L226,1586.5L224,1586.5L222,1586.5L220,1586.5L218,1586.5L216,1586.5L214,1586.5L212,1586.5 Z" fill="url(#gG)" stroke="none" fill-opacity="0.7"/>
<path d="M660,1600.9L662,1600.9L664,1600.9L666,1600.9L668,1600.9L670,1600.9L672,1600.9L674,1600.9L676,1600.9L678,1600.9L680,1600.8L682,1600.8L684,1600.7L686,1600.7L688,1600.6L690,1600.5L692,1600.4L694,1600.4L696,1600.3L698,1600.2L700,1600.1L702,1600.0L704,1599.9L706,1599.8L708,1599.7L710,1599.5L712,1599.3L714,1599.1L716,1598.8L718,1598.5L720,1598.2L722,1597.8L724,1597.4L726,1596.9L728,1596.3L730,1595.7L732,1595.0L734,1594.3L736,1593.5L738,1592.6L740,1591.7L742,1590.6L744,1589.5L746,1588.4L748,1587.1L750,1585.8L752,1584.4L754,1583.0L756,1581.5L758,1579.9L760,1578.2L762,1576.5L764,1574.8L766,1573.0L768,1571.2L770,1569.4L772,1567.6L774,1565.8L776,1564.0L778,1562.2L780,1560.5L782,1558.8L784,1557.2L786,1555.6L788,1554.2L790,1552.8L792,1551.5L794,1550.3L796,1549.2L798,1548.3L800,1547.5L802,1546.8L804,1546.3L806,1545.9L808,1545.7L810,1545.7L812,1545.8L814,1546.0L816,1546.5L818,1547.0L820,1547.8L822,1548.7L824,1549.7L826,1550.9L828,1552.2L830,1553.6L832,1555.2L834,1556.8L836,1558.6L838,1560.4L840,1562.3L842,1564.3L844,1566.4L846,1568.5L848,1570.6L850,1572.8L852,1575.0L854,1577.2L856,1579.4L858,1581.6L860,1583.8L862,1586.0L864,1588.2L866,1590.3L868,1592.4L870,1594.5L872,1596.4L874,1598.4L876,1600.3L878,1602.1L880,1603.8L882,1605.5L884,1607.1L886,1608.6L888,1610.1L890,1611.5L892,1612.8L894,1614.1L896,1615.2L898,1616.4L900,1617.4L902,1618.4L904,1619.4L906,1620.3L908,1621.1L910,1622.0L912,1622.7L914,1623.5L916,1624.2L918,1624.8L920,1625.5L922,1626.1L924,1626.6L926,1627.2L928,1627.7L930,1628.2L932,1628.7L934,1629.1L936,1629.6L938,1630.0L940,1630.4L942,1630.8L944,1631.1L946,1631.5L948,1631.9L950,1632.2L952,1632.5L954,1632.8L956,1633.1L958,1633.4L960,1633.7L962,1634.0" fill="none" stroke="#6ee86e" stroke-width="2.8" stroke-linejoin="round" stroke-linecap="butt" />
<path d="M772,1611.8L774,1612.0L776,1612.1L778,1612.2L780,1612.4L782,1612.5L784,1612.6L786,1612.7L788,1612.8L790,1612.9L792,1613.0L794,1613.1L796,1613.2L798,1613.3L800,1613.3L802,1613.4L804,1613.4L806,1613.5L808,1613.5L810,1613.5L812,1613.5L814,1613.5L816,1613.5L818,1613.5L820,1613.4L822,1613.4L824,1613.3L826,1613.2L828,1613.1L830,1613.0L832,1612.8L834,1612.6L836,1612.4L838,1612.2L840,1612.0L842,1611.7L844,1611.4L846,1611.0L848,1610.7L850,1610.3L852,1609.8L854,1609.4L856,1608.9L858,1608.3L860,1607.7L862,1607.1L864,1606.5L866,1605.7L868,1605.0L870,1604.2L872,1603.3L874,1602.4L876,1601.5L878,1600.4L880,1599.4L882,1598.2L884,1597.0L886,1595.8L888,1594.5L890,1593.1L892,1591.7L894,1590.3L896,1588.8L898,1587.2L900,1585.6L902,1584.0L904,1582.4L906,1580.7L908,1579.1L910,1577.4L912,1575.7L914,1574.0L916,1572.3L918,1570.6L920,1569.0L922,1567.3L924,1565.7L926,1564.2L928,1562.6L930,1561.2L932,1559.7L934,1558.4L936,1557.1L938,1555.9L940,1554.8L942,1553.7L944,1552.8L946,1551.9L948,1551.2L950,1550.5L952,1550.0L954,1549.6L956,1549.3L958,1549.2L960,1549.1L962,1549.2L964,1549.4L966,1549.7L968,1550.2L970,1550.7L972,1551.4L974,1552.2L976,1553.2L978,1554.2L980,1555.3L982,1556.6L984,1557.9L986,1559.4L988,1560.9L990,1562.6L992,1564.3L994,1566.1L996,1567.9L998,1569.9L1000,1571.8L1002,1573.8L1004,1575.9L1006,1577.9L1008,1580.0L1010,1582.2L1012,1584.3L1014,1586.4L1016,1588.5L1018,1590.6L1020,1592.6L1022,1594.7L1024,1596.7L1026,1598.7L1028,1600.6L1030,1602.5L1032,1604.4L1034,1606.2L1036,1608.0L1038,1609.7L1040,1611.4L1042,1613.0L1044,1614.5L1046,1616.1L1048,1617.5L1050,1618.9L1052,1620.3L1054,1621.5L1056,1622.8L1058,1623.9L1060,1625.0L1062,1626.1L1064,1627.1L1066,1628.0L1068,1628.9L1070,1629.8L1072,1630.6L1074,1631.3L1076,1632.0L1078,1632.7L1080,1633.3L1082,1633.9L1084,1634.4L1086,1634.9L1088,1635.4L1090,1635.8L1092,1636.2L1094,1636.5L1096,1636.9L1098,1637.2L1100,1637.5L1102,1637.7L1104,1638.0L1106,1638.2L1108,1638.4L1110,1638.6L1112,1638.8L1114,1638.9L1116,1639.1L1118,1639.2L1120,1639.3L1122,1639.4L1124,1639.5L1126,1639.6L1128,1639.7L1130,1639.7L1132,1639.8L1134,1639.9L1136,1639.9L1138,1640.0L1140,1640.0L1142,1640.0L1144,1640.1L1146,1640.1L1148,1640.1L1150,1640.1" fill="none" stroke="#22b422" stroke-width="2.8" stroke-linejoin="round" stroke-linecap="butt" />
<path d="M212,1586.3L214,1586.3L216,1586.3L218,1586.3L220,1586.3L222,1586.3L224,1586.3L226,1586.3L228,1586.3L230,1586.3L232,1586.3L234,1586.3L236,1586.3L238,1586.3L240,1586.3L242,1586.3L244,1586.3L246,1586.3L248,1586.3L250,1586.3L252,1586.3L254,1586.3L256,1586.2L258,1586.2L260,1586.2L262,1586.2L264,1586.2L266,1586.2L268,1586.2L270,1586.2L272,1586.1L274,1586.1L276,1586.1L278,1586.1L280,1586.0L282,1586.0L284,1586.0L286,1585.9L288,1585.9L290,1585.8L292,1585.7L294,1585.7L296,1585.6L298,1585.5L300,1585.5L302,1585.4L304,1585.3L306,1585.2L308,1585.1L310,1585.0L312,1584.9L314,1584.7L316,1584.6L318,1584.5L320,1584.3L322,1584.1L324,1584.0L326,1583.8L328,1583.6L330,1583.5L332,1583.3L334,1583.1L336,1582.9L338,1582.7L340,1582.4L342,1582.2L344,1582.0L346,1581.8L348,1581.5L350,1581.2L352,1581.0L354,1580.7L356,1580.4L358,1580.1L360,1579.9L362,1579.6L364,1579.2L366,1578.9L368,1578.6L370,1578.3L372,1577.9L374,1577.6L376,1577.2L378,1576.9L380,1576.5L382,1576.2L384,1575.8L386,1575.4L388,1575.1L390,1574.7L392,1574.3L394,1573.9L396,1573.6L398,1573.2L400,1572.8L402,1572.4L404,1572.1L406,1571.7L408,1571.4L410,1571.0L412,1570.7L414,1570.3L416,1570.0L418,1569.7L420,1569.4L422,1569.1L424,1568.8L426,1568.5L428,1568.3L430,1568.1L432,1567.9L434,1567.7L436,1567.5L438,1567.4L440,1567.3L442,1567.2L444,1567.1L446,1567.0L448,1567.0L450,1567.0L452,1567.0L454,1567.1L456,1567.1L458,1567.2L460,1567.3L462,1567.5L464,1567.7L466,1567.8L468,1568.0L470,1568.3L472,1568.5L474,1568.8L476,1569.1L478,1569.4L480,1569.8L482,1570.1L484,1570.5L486,1570.9L488,1571.3L490,1571.7L492,1572.2L494,1572.6L496,1573.1L498,1573.6L500,1574.1L502,1574.6L504,1575.1L506,1575.6L508,1576.1L510,1576.6L512,1577.2L514,1577.7L516,1578.3L518,1578.8L520,1579.3L522,1579.9L524,1580.4L526,1580.9L528,1581.4L530,1582.0L532,1582.5L534,1583.0L536,1583.5L538,1584.0L540,1584.6L542,1585.1L544,1585.6L546,1586.0L548,1586.5L550,1587.0L552,1587.5L554,1587.9L556,1588.4L558,1588.8L560,1589.2L562,1589.7L564,1590.1L566,1590.5L568,1590.8L570,1591.2L572,1591.6L574,1591.9L576,1592.3L578,1592.6L580,1592.9L582,1593.2L584,1593.4L586,1593.7L588,1594.0L590,1594.2L592,1594.4L594,1594.6L596,1594.8L598,1594.9L600,1595.0L602,1595.1L604,1595.2L606,1595.3L608,1595.3L610,1595.2L612,1595.1L614,1595.0L616,1594.8L618,1594.5L620,1594.2L622,1593.8L624,1593.3L626,1592.7L628,1592.0L630,1591.2L632,1590.3L634,1589.2L636,1587.9L638,1586.5L640,1584.9L642,1583.0L644,1581.0L646,1578.7L648,1576.1L650,1573.2L652,1570.0L654,1566.5L656,1562.7L658,1558.4L660,1553.8L662,1548.8L664,1543.3L666,1537.4L668,1531.1L670,1524.2L672,1517.0L674,1509.2L676,1500.9L678,1492.2L680,1483.0L682,1473.4L684,1463.3L686,1452.8L688,1441.9L690,1430.6L692,1419.1L694,1407.3L696,1395.2L698,1383.0L700,1370.7L702,1358.4L704,1346.1L706,1333.8L708,1321.7L710,1309.9L712,1298.3L714,1287.1L716,1276.4L718,1266.1L720,1256.5L722,1247.5L724,1239.3L726,1231.8L728,1225.2L730,1219.5L732,1214.7L734,1210.9L736,1208.0L738,1206.2L740,1205.3L742,1205.6L744,1206.9L746,1209.3L748,1212.7L750,1217.1L752,1222.4L754,1228.6L756,1235.5L758,1243.2L760,1251.5L762,1260.4L764,1269.8L766,1279.6L768,1289.7L770,1300.0L772,1310.6L774,1321.2L776,1331.9L778,1342.5L780,1353.0L782,1363.4L784,1373.4L786,1383.3L788,1392.7L790,1401.8L792,1410.5L794,1418.7L796,1426.5L798,1433.7L800,1440.5L802,1446.7L804,1452.3L806,1457.3L808,1461.8L810,1465.6L812,1468.9L814,1471.5L816,1473.5L818,1474.8L820,1475.5L822,1475.5L824,1474.8L826,1473.5L828,1471.4L830,1468.6L832,1465.1L834,1460.9L836,1455.9L838,1450.1L840,1443.6L842,1436.4L844,1428.4L846,1419.6L848,1410.2L850,1400.0L852,1389.1L854,1377.6L856,1365.4L858,1352.7L860,1339.5L862,1325.8L864,1311.8L866,1297.4L868,1282.7L870,1267.9L872,1253.0L874,1238.2L876,1223.5L878,1209.0L880,1194.9L882,1181.2L884,1168.1L886,1155.6L888,1143.9L890,1133.1L892,1123.2L894,1114.3L896,1106.6L898,1100.1L900,1094.8L902,1090.9L904,1088.3L906,1087.0L908,1087.0L910,1088.3L912,1090.8L914,1094.5L916,1099.4L918,1105.5L920,1112.6L922,1120.7L924,1129.8L926,1139.8L928,1150.6L930,1162.2L932,1174.3L934,1187.1L936,1200.3L938,1213.9L940,1227.9L942,1242.0L944,1256.4L946,1270.8L948,1285.2L950,1299.5L952,1313.7L954,1327.7L956,1341.5L958,1355.1L960,1368.3L962,1381.1L964,1393.5L966,1405.6L968,1417.2L970,1428.4L972,1439.1L974,1449.4L976,1459.2L978,1468.5L980,1477.4L982,1485.9L984,1493.9L986,1501.6L988,1508.8L990,1515.7L992,1522.2L994,1528.4L996,1534.2L998,1539.7L1000,1544.9L1002,1549.9L1004,1554.6L1006,1559.0L1008,1563.2L1010,1567.2L1012,1571.0L1014,1574.6L1016,1578.1L1018,1581.3L1020,1584.4L1022,1587.4L1024,1590.2L1026,1592.8L1028,1595.4L1030,1597.8L1032,1600.1L1034,1602.3L1036,1604.5L1038,1606.5L1040,1608.4L1042,1610.3L1044,1612.0L1046,1613.7L1048,1615.3L1050,1616.9L1052,1618.3L1054,1619.7L1056,1621.0L1058,1622.3L1060,1623.4L1062,1624.5L1064,1625.6L1066,1626.6L1068,1627.5L1070,1628.4L1072,1629.3L1074,1630.0L1076,1630.8L1078,1631.5L1080,1632.1L1082,1632.7L1084,1633.3L1086,1633.8L1088,1634.3L1090,1634.7L1092,1635.1L1094,1635.5L1096,1635.9L1098,1636.2L1100,1636.5L1102,1636.8L1104,1637.0L1106,1637.3L1108,1637.5L1110,1637.7L1112,1637.9L1114,1638.1L1116,1638.2L1118,1638.3L1120,1638.5L1122,1638.6L1124,1638.7L1126,1638.8L1128,1638.9L1130,1639.0L1132,1639.1L1134,1639.1L1136,1639.2L1138,1639.2L1140,1639.3L1142,1639.3L1144,1639.4L1146,1639.4L1148,1639.5L1150,1639.5" fill="none" stroke="#ff0000" stroke-width="3" stroke-linejoin="round" stroke-linecap="butt" />
<path d="M212,1586.5L214,1586.5L216,1586.5L218,1586.5L220,1586.5L222,1586.5L224,1586.5L226,1586.5L228,1586.5L230,1586.5L232,1586.5L234,1586.6L236,1586.6L238,1586.6L240,1586.6L242,1586.6L244,1586.6L246,1586.6L248,1586.6L250,1586.7L252,1586.7L254,1586.7L256,1586.7L258,1586.7L260,1586.8L262,1586.8L264,1586.8L266,1586.8L268,1586.8L270,1586.9L272,1586.9L274,1586.9L276,1586.9L278,1587.0L280,1587.0L282,1587.0L284,1587.0L286,1587.1L288,1587.1L290,1587.1L292,1587.2L294,1587.2L296,1587.2L298,1587.2L300,1587.3L302,1587.3L304,1587.3L306,1587.4L308,1587.4L310,1587.4L312,1587.5L314,1587.5L316,1587.5L318,1587.6L320,1587.6L322,1587.6L324,1587.7L326,1587.7L328,1587.8L330,1587.8L332,1587.9L334,1587.9L336,1588.0L338,1588.0L340,1588.1L342,1588.2L344,1588.2L346,1588.3L348,1588.4L350,1588.5L352,1588.6L354,1588.6L356,1588.7L358,1588.8L360,1588.9L362,1589.0L364,1589.1L366,1589.2L368,1589.3L370,1589.4L372,1589.5L374,1589.6L376,1589.7L378,1589.8L380,1589.9L382,1590.0L384,1590.1L386,1590.2L388,1590.3L390,1590.4L392,1590.5L394,1590.7L396,1590.8L398,1590.9L400,1591.0L402,1591.1L404,1591.2L406,1591.3L408,1591.4L410,1591.5L412,1591.7L414,1591.8L416,1591.9L418,1592.0L420,1592.1L422,1592.2L424,1592.3L426,1592.4L428,1592.5L430,1592.7L432,1592.8L434,1592.9L436,1593.1L438,1593.2L440,1593.3L442,1593.5L444,1593.6L446,1593.8L448,1593.9L450,1594.1L452,1594.2L454,1594.4L456,1594.5L458,1594.7L460,1594.8L462,1595.0L464,1595.2L466,1595.3L468,1595.5L470,1595.6L472,1595.8L474,1595.9L476,1596.1L478,1596.3L480,1596.4L482,1596.6L484,1596.7L486,1596.9L488,1597.0L490,1597.1L492,1597.3L494,1597.4L496,1597.6L498,1597.7L500,1597.8L502,1597.9L504,1598.1L506,1598.2L508,1598.3L510,1598.4L512,1598.5L514,1598.6L516,1598.7L518,1598.8L520,1598.8L522,1598.9L524,1599.0L526,1599.0L528,1599.1L530,1599.1L532,1599.2L534,1599.3L536,1599.3L538,1599.4L540,1599.4L542,1599.4L544,1599.5L546,1599.5L548,1599.6L550,1599.6L552,1599.7L554,1599.7L556,1599.7L558,1599.8L560,1599.8L562,1599.9L564,1599.9L566,1599.9L568,1600.0L570,1600.0L572,1600.0L574,1600.1L576,1600.1L578,1600.1L580,1600.2L582,1600.2L584,1600.2L586,1600.3L588,1600.3L590,1600.3L592,1600.4L594,1600.4L596,1600.4L598,1600.5L600,1600.5L602,1600.5L604,1600.6L606,1600.6L608,1600.6L610,1600.7L612,1600.7L614,1600.7L616,1600.7L618,1600.8L620,1600.8L622,1600.8L624,1600.8L626,1600.8L628,1600.9L630,1600.9L632,1600.9L634,1600.9L636,1600.9L638,1601.0L640,1601.0L642,1601.0L644,1601.0L646,1601.1L648,1601.1L650,1601.1L652,1601.1L654,1601.2L656,1601.2L658,1601.2L660,1601.2L662,1601.3L664,1601.3L666,1601.3L668,1601.4L670,1601.4L672,1601.4L674,1601.5L676,1601.5L678,1601.5L680,1601.6L682,1601.6L684,1601.7L686,1601.7L688,1601.8L690,1601.8L692,1601.9L694,1602.0L696,1602.1L698,1602.3L700,1602.4L702,1602.6L704,1602.8L706,1603.0L708,1603.3L710,1603.5L712,1603.8L714,1604.1L716,1604.3L718,1604.6L720,1604.9L722,1605.2L724,1605.6L726,1605.9L728,1606.2L730,1606.5L732,1606.9L734,1607.2L736,1607.5L738,1607.8L740,1608.2L742,1608.5L744,1608.8L746,1609.1L748,1609.4L750,1609.7L752,1610.0L754,1610.2L756,1610.5L758,1610.8L760,1611.0L762,1611.2L764,1611.4L766,1611.6L768,1611.8L770,1611.9L772,1612.1L774,1612.3L776,1612.4L778,1612.6L780,1612.8L782,1612.9L784,1613.1L786,1613.2L788,1613.3L790,1613.5L792,1613.6L794,1613.7L796,1613.9L798,1614.0L800,1614.1L802,1614.3L804,1614.4L806,1614.5L808,1614.6L810,1614.8L812,1614.9L814,1615.0L816,1615.2L818,1615.3L820,1615.4L822,1615.6L824,1615.7L826,1615.9L828,1616.0L830,1616.1L832,1616.3L834,1616.5L836,1616.6L838,1616.8L840,1617.0L842,1617.1L844,1617.3L846,1617.5L848,1617.7L850,1617.9L852,1618.1L854,1618.3L856,1618.6L858,1618.8L860,1619.1L862,1619.4L864,1619.6L866,1619.9L868,1620.2L870,1620.5L872,1620.8L874,1621.1L876,1621.4L878,1621.8L880,1622.1L882,1622.4L884,1622.7L886,1623.0L888,1623.3L890,1623.6L892,1623.9L894,1624.2L896,1624.5L898,1624.8L900,1625.1L902,1625.4L904,1625.7L906,1626.0L908,1626.3L910,1626.6L912,1626.9L914,1627.2L916,1627.5L918,1627.8L920,1628.1L922,1628.5L924,1628.8L926,1629.1L928,1629.4L930,1629.7L932,1630.0L934,1630.3L936,1630.6L938,1631.0L940,1631.3L942,1631.6L944,1631.9L946,1632.1L948,1632.4L950,1632.7L952,1633.0L954,1633.3L956,1633.5L958,1633.8L960,1634.0L962,1634.3L964,1634.5L966,1634.8L968,1635.0L970,1635.2L972,1635.4L974,1635.6L976,1635.8L978,1636.0L980,1636.2L982,1636.4L984,1636.5L986,1636.7L988,1636.9L990,1637.1L992,1637.2L994,1637.4L996,1637.6L998,1637.7L1000,1637.9L1002,1638.0L1004,1638.2L1006,1638.3L1008,1638.5L1010,1638.6L1012,1638.7L1014,1638.8L1016,1638.9L1018,1639.0L1020,1639.1L1022,1639.2L1024,1639.2L1026,1639.3L1028,1639.3L1030,1639.4L1032,1639.4L1034,1639.4L1036,1639.5L1038,1639.5L1040,1639.5L1042,1639.6L1044,1639.6L1046,1639.6L1048,1639.7L1050,1639.7L1052,1639.7L1054,1639.8L1056,1639.8L1058,1639.8L1060,1639.8L1062,1639.9L1064,1639.9L1066,1639.9L1068,1640.0L1070,1640.0L1072,1640.0L1074,1640.0L1076,1640.1L1078,1640.1L1080,1640.1L1082,1640.1L1084,1640.1L1086,1640.2L1088,1640.2L1090,1640.2L1092,1640.2L1094,1640.2L1096,1640.3L1098,1640.3L1100,1640.3L1102,1640.3L1104,1640.3L1106,1640.3L1108,1640.4L1110,1640.4L1112,1640.4L1114,1640.4L1116,1640.4L1118,1640.4L1120,1640.4L1122,1640.4L1124,1640.4L1126,1640.4L1128,1640.5L1130,1640.5L1132,1640.5L1134,1640.5L1136,1640.5L1138,1640.5L1140,1640.5L1142,1640.5L1144,1640.5L1146,1640.5L1148,1640.5L1150,1640.5" fill="none" stroke="#858585" stroke-width="5" stroke-linejoin="round" stroke-linecap="butt" />
<line x1="906.80" y1="1090.80" x2="906.80" y2="1196.00" stroke="#404040" stroke-width="1.6" />
<line x1="739.80" y1="1175.60" x2="739.80" y2="1274.30" stroke="#1e3cff" stroke-width="5.6" stroke-dasharray="14.5 7.5"/>
<line x1="906.80" y1="1090.80" x2="906.80" y2="1195.40" stroke="#1e3cff" stroke-width="5.6" stroke-dasharray="14.5 7.5"/>
<line x1="813.70" y1="1496.30" x2="813.70" y2="1596.50" stroke="#00dc00" stroke-width="5.6" stroke-dasharray="14.5 7.5"/>
<line x1="977.50" y1="1501.20" x2="977.50" y2="1601.50" stroke="#00dc00" stroke-width="5.6" stroke-dasharray="14.5 7.5"/>
<line x1="462.60" y1="1518.90" x2="462.60" y2="1618.50" stroke="#ff1e1e" stroke-width="5.6" stroke-dasharray="14.5 7.5"/>
<use href="#dot" x="213.0" y="1584.2"/>
<use href="#dot" x="220.8" y="1584.3"/>
<use href="#dot" x="228.7" y="1585.0"/>
<use href="#dot" x="236.5" y="1582.1"/>
<use href="#dot" x="244.3" y="1584.3"/>
<use href="#dot" x="252.2" y="1585.4"/>
<use href="#dot" x="260.0" y="1587.6"/>
<use href="#dot" x="267.9" y="1584.9"/>
<use href="#dot" x="275.7" y="1588.0"/>
<use href="#dot" x="283.5" y="1585.8"/>
<use href="#dot" x="291.4" y="1587.1"/>
<use href="#dot" x="299.2" y="1585.0"/>
<use href="#dot" x="307.0" y="1587.6"/>
<use href="#dot" x="314.9" y="1587.6"/>
<use href="#dot" x="322.7" y="1585.4"/>
<use href="#dot" x="330.6" y="1583.1"/>
<use href="#dot" x="338.4" y="1582.6"/>
<use href="#dot" x="346.2" y="1583.5"/>
<use href="#dot" x="354.1" y="1581.9"/>
<use href="#dot" x="361.9" y="1582.6"/>
<use href="#dot" x="369.7" y="1578.9"/>
<use href="#dot" x="377.6" y="1578.3"/>
<use href="#dot" x="385.4" y="1575.0"/>
<use href="#dot" x="393.3" y="1576.6"/>
<use href="#dot" x="401.1" y="1575.5"/>
<use href="#dot" x="408.9" y="1571.6"/>
<use href="#dot" x="416.8" y="1571.1"/>
<use href="#dot" x="424.6" y="1569.3"/>
<use href="#dot" x="432.4" y="1564.8"/>
<use href="#dot" x="440.3" y="1568.8"/>
<use href="#dot" x="448.1" y="1570.4"/>
<use href="#dot" x="455.9" y="1568.1"/>
<use href="#dot" x="463.8" y="1567.0"/>
<use href="#dot" x="471.6" y="1565.9"/>
<use href="#dot" x="479.5" y="1567.2"/>
<use href="#dot" x="487.3" y="1570.5"/>
<use href="#dot" x="495.1" y="1572.7"/>
<use href="#dot" x="503.0" y="1572.8"/>
<use href="#dot" x="510.8" y="1574.1"/>
<use href="#dot" x="518.6" y="1580.6"/>
<use href="#dot" x="526.5" y="1579.6"/>
<use href="#dot" x="534.3" y="1582.0"/>
<use href="#dot" x="542.2" y="1585.8"/>
<use href="#dot" x="550.0" y="1591.5"/>
<use href="#dot" x="557.8" y="1591.6"/>
<use href="#dot" x="565.7" y="1593.8"/>
<use href="#dot" x="573.5" y="1595.6"/>
<use href="#dot" x="581.3" y="1596.3"/>
<use href="#dot" x="589.2" y="1598.8"/>
<use href="#dot" x="597.0" y="1601.0"/>
<use href="#dot" x="604.8" y="1602.4"/>
<use href="#dot" x="612.7" y="1600.8"/>
<use href="#dot" x="620.5" y="1596.1"/>
<use href="#dot" x="628.4" y="1595.4"/>
<use href="#dot" x="636.2" y="1590.7"/>
<use href="#dot" x="644.0" y="1583.6"/>
<use href="#dot" x="651.9" y="1571.9"/>
<use href="#dot" x="659.7" y="1553.9"/>
<use href="#dot" x="667.5" y="1530.2"/>
<use href="#dot" x="675.4" y="1499.7"/>
<use href="#dot" x="683.2" y="1467.5"/>
<use href="#dot" x="691.1" y="1427.6"/>
<use href="#dot" x="698.9" y="1374.7"/>
<use href="#dot" x="706.7" y="1327.7"/>
<use href="#dot" x="714.6" y="1288.4"/>
<use href="#dot" x="722.4" y="1245.5"/>
<use href="#dot" x="730.2" y="1218.5"/>
<use href="#dot" x="738.1" y="1206.3"/>
<use href="#dot" x="745.9" y="1207.2"/>
<use href="#dot" x="753.8" y="1230.2"/>
<use href="#dot" x="761.6" y="1258.5"/>
<use href="#dot" x="769.4" y="1294.6"/>
<use href="#dot" x="777.3" y="1343.6"/>
<use href="#dot" x="785.1" y="1379.3"/>
<use href="#dot" x="792.9" y="1409.1"/>
<use href="#dot" x="800.8" y="1440.7"/>
<use href="#dot" x="808.6" y="1464.1"/>
<use href="#dot" x="816.4" y="1477.7"/>
<use href="#dot" x="824.3" y="1473.6"/>
<use href="#dot" x="832.1" y="1466.6"/>
<use href="#dot" x="840.0" y="1441.2"/>
<use href="#dot" x="847.8" y="1407.8"/>
<use href="#dot" x="855.6" y="1367.5"/>
<use href="#dot" x="863.5" y="1314.2"/>
<use href="#dot" x="871.3" y="1261.6"/>
<use href="#dot" x="879.1" y="1206.6"/>
<use href="#dot" x="887.0" y="1143.7"/>
<use href="#dot" x="894.8" y="1111.3"/>
<use href="#dot" x="902.7" y="1093.5"/>
<use href="#dot" x="910.5" y="1089.2"/>
<use href="#dot" x="918.3" y="1106.0"/>
<use href="#dot" x="926.2" y="1143.0"/>
<use href="#dot" x="934.0" y="1192.8"/>
<use href="#dot" x="941.8" y="1235.2"/>
<use href="#dot" x="949.7" y="1294.6"/>
<use href="#dot" x="957.5" y="1352.1"/>
<use href="#dot" x="965.4" y="1398.2"/>
<use href="#dot" x="973.2" y="1448.4"/>
<use href="#dot" x="981.0" y="1485.5"/>
<use href="#dot" x="988.9" y="1511.0"/>
<use href="#dot" x="996.7" y="1534.9"/>
<use href="#dot" x="1004.5" y="1556.1"/>
<use href="#dot" x="1012.4" y="1569.8"/>
<use href="#dot" x="1020.2" y="1586.7"/>
<use href="#dot" x="1028.0" y="1595.2"/>
<use href="#dot" x="1035.9" y="1606.0"/>
<use href="#dot" x="1043.7" y="1611.8"/>
<use href="#dot" x="1051.6" y="1617.9"/>
<use href="#dot" x="1059.4" y="1621.8"/>
<use href="#dot" x="1067.2" y="1626.4"/>
<use href="#dot" x="1075.1" y="1627.9"/>
<use href="#dot" x="1082.9" y="1630.8"/>
<use href="#dot" x="1090.7" y="1633.5"/>
<use href="#dot" x="1098.6" y="1634.6"/>
<use href="#dot" x="1106.4" y="1634.9"/>
<use href="#dot" x="1114.3" y="1637.0"/>
<use href="#dot" x="1122.1" y="1637.7"/>
<use href="#dot" x="1129.9" y="1639.4"/>
<use href="#dot" x="1137.8" y="1639.7"/>
<use href="#dot" x="1145.6" y="1638.8"/>
<use href="#dot" x="1153.4" y="1637.5"/>
<line x1="647.7" y1="1496.3" x2="764.9" y2="1535.3" stroke="#000" stroke-width="4.6"/>
<polygon points="785.8,1542.3 760.3,1542.8 765.7,1526.7" fill="#000"/>
<line x1="1068.6" y1="1401.9" x2="997.2" y2="1528.7" stroke="#000" stroke-width="4.6"/>
<polygon points="986.4,1547.9 990.8,1522.8 1005.6,1531.2" fill="#000"/>
<rect x="212" y="973.5" width="938.5" height="689.5" fill="none" stroke="#000" stroke-width="5.6" stroke-linejoin="miter"/>
<line x1="289.70" y1="1662.50" x2="289.70" y2="1649.20" stroke="#000" stroke-width="5.6" />
<line x1="446.44" y1="1662.50" x2="446.44" y2="1649.20" stroke="#000" stroke-width="5.6" />
<line x1="603.18" y1="1662.50" x2="603.18" y2="1649.20" stroke="#000" stroke-width="5.6" />
<line x1="759.92" y1="1662.50" x2="759.92" y2="1649.20" stroke="#000" stroke-width="5.6" />
<line x1="916.66" y1="1662.50" x2="916.66" y2="1649.20" stroke="#000" stroke-width="5.6" />
<line x1="1073.40" y1="1662.50" x2="1073.40" y2="1649.20" stroke="#000" stroke-width="5.6" />
<line x1="368.07" y1="1662.50" x2="368.07" y2="1656.00" stroke="#000" stroke-width="5.6" />
<line x1="524.81" y1="1662.50" x2="524.81" y2="1656.00" stroke="#000" stroke-width="5.6" />
<line x1="681.55" y1="1662.50" x2="681.55" y2="1656.00" stroke="#000" stroke-width="5.6" />
<line x1="838.29" y1="1662.50" x2="838.29" y2="1656.00" stroke="#000" stroke-width="5.6" />
<line x1="995.03" y1="1662.50" x2="995.03" y2="1656.00" stroke="#000" stroke-width="5.6" />
<text x="248.85" y="1722.60" font-size="62.00" font-weight="bold" fill="#000">44</text>
<text x="406.35" y="1722.60" font-size="62.00" font-weight="bold" fill="#000">42</text>
<text x="562.94" y="1722.60" font-size="62.00" font-weight="bold" fill="#000">40</text>
<text x="718.78" y="1722.60" font-size="62.00" font-weight="bold" fill="#000">38</text>
<text x="875.40" y="1722.60" font-size="62.00" font-weight="bold" fill="#000">36</text>
<text x="1031.81" y="1722.60" font-size="62.00" font-weight="bold" fill="#000">34</text>
<text x="357.94" y="1801.30" font-size="81.62" font-weight="bold" fill="#000">Binding Energy (eV)</text>
<text transform="translate(178.90,1540.60) rotate(-90)" font-size="80.16" font-weight="bold" fill="#000">Intensity (a.u.)</text>
<text x="24.96" y="987.70" font-size="87.38" font-weight="normal" fill="#000">(c)</text>
<rect x="228.6" y="985.2" width="107.4" height="52.3" fill="url(#gLegW6)" stroke="#333" stroke-width="1.6"/>
<rect x="228.6" y="1052.2" width="107.4" height="52.4" fill="url(#gLegW5)" stroke="#333" stroke-width="1.6"/>
<text x="350.83" y="1028.70" font-size="47.00" font-weight="bold" fill="#000">W4f(W</text>
<text x="500.43" y="1007.50" font-size="32.00" font-weight="normal" fill="#000">6+</text>
<text x="536.49" y="1028.70" font-size="47.00" font-weight="normal" fill="#000">)</text>
<text x="551.04" y="1028.70" font-size="48.31" font-weight="bold" fill="#000">:70.89%</text>
<text x="350.83" y="1094.60" font-size="47.00" font-weight="bold" fill="#000">W4f(W</text>
<text x="499.94" y="1073.40" font-size="32.00" font-weight="normal" fill="#000">5+</text>
<text x="536.49" y="1094.60" font-size="47.00" font-weight="normal" fill="#000">)</text>
<text x="551.04" y="1094.60" font-size="48.31" font-weight="bold" fill="#000">:29.11%</text>
<text x="867.66" y="1062.40" font-size="47.00" font-weight="bold" fill="#000">4f</text>
<text x="906.37" y="1073.00" font-size="32.00" font-weight="bold" fill="#000">7/2</text>
<text x="698.96" y="1154.40" font-size="47.00" font-weight="bold" fill="#000">4f</text>
<text x="738.22" y="1166.50" font-size="32.00" font-weight="bold" fill="#000">5/2</text>
<text x="524.95" y="1260.90" font-size="46.99" font-weight="normal" fill="#1ea0f0">38.28 eV</text>
<text x="949.94" y="1188.60" font-size="47.16" font-weight="normal" fill="#1ea0f0">36.18 eV</text>
<text x="483.00" y="1492.90" font-size="48.07" font-weight="normal" fill="#14d214">37.38 eV</text>
<text x="973.23" y="1378.80" font-size="47.46" font-weight="normal" fill="#14d214">35.28 eV</text>
<text x="335.80" y="1557.80" font-size="46.91" font-weight="bold" fill="#000">Loss</text>
<path d="M1379,1343.0L1380,1343.9L1381,1342.0L1382,1340.0L1383,1341.4L1384,1339.6L1385,1343.1L1386,1347.3L1387,1341.2L1388,1340.8L1389,1344.4L1390,1344.0L1391,1343.1L1392,1339.7L1393,1342.6L1394,1345.0L1395,1338.3L1396,1341.2L1397,1336.4L1398,1338.4L1399,1336.6L1400,1341.9L1401,1338.5L1402,1343.5L1403,1343.1L1404,1342.0L1405,1334.3L1406,1340.8L1407,1342.4L1408,1342.9L1409,1337.5L1410,1340.9L1411,1339.3L1412,1339.8L1413,1345.9L1414,1339.8L1415,1342.3L1416,1345.3L1417,1340.5L1418,1342.0L1419,1342.7L1420,1342.6L1421,1338.3L1422,1342.6L1423,1346.7L1424,1337.2L1425,1345.1L1426,1342.7L1427,1340.2L1428,1348.7L1429,1344.7L1430,1338.3L1431,1342.4L1432,1344.1L1433,1341.6L1434,1344.4L1435,1341.9L1436,1344.3L1437,1346.8L1438,1339.9L1439,1342.7L1440,1340.6L1441,1342.5L1442,1338.2L1443,1340.1L1444,1341.4L1445,1344.9L1446,1345.7L1447,1337.7L1448,1339.4L1449,1344.0L1450,1335.5L1451,1340.4L1452,1341.6L1453,1345.9L1454,1344.1L1455,1340.8L1456,1340.7L1457,1341.0L1458,1346.7L1459,1340.4L1460,1340.8L1461,1342.9L1462,1341.4L1463,1341.1L1464,1338.1L1465,1341.7L1466,1340.3L1467,1345.4L1468,1343.8L1469,1341.6L1470,1343.8L1471,1340.5L1472,1345.0L1473,1341.6L1474,1343.4L1475,1337.4L1476,1342.6L1477,1336.1L1478,1335.0L1479,1340.5L1480,1338.6L1481,1342.0L1482,1348.6L1483,1338.7L1484,1339.4L1485,1342.0L1486,1342.9L1487,1340.8L1488,1340.7L1489,1343.6L1490,1343.0L1491,1338.0L1492,1341.0L1493,1341.4L1494,1337.9L1495,1342.0L1496,1338.5L1497,1344.3L1498,1341.8L1499,1341.4L1500,1339.3L1501,1340.8L1502,1334.8L1503,1337.5L1504,1342.2L1505,1334.3L1506,1343.8L1507,1335.5L1508,1343.4L1509,1338.3L1510,1343.5L1511,1341.4L1512,1336.1L1513,1345.0L1514,1345.6L1515,1340.8L1516,1340.1L1517,1340.4L1518,1337.9L1519,1344.4L1520,1339.2L1521,1340.8L1522,1338.4L1523,1338.9L1524,1336.9L1525,1344.9L1526,1340.4L1527,1343.9L1528,1340.9L1529,1338.7L1530,1339.9L1531,1339.1L1532,1340.9L1533,1339.7L1534,1339.9L1535,1336.5L1536,1338.4L1537,1346.1L1538,1338.8L1539,1337.6L1540,1342.0L1541,1345.4L1542,1336.5L1543,1340.4L1544,1339.1L1545,1335.6L1546,1343.5L1547,1341.2L1548,1341.5L1549,1339.0L1550,1342.8L1551,1339.7L1552,1341.0L1553,1338.1L1554,1337.8L1555,1345.9L1556,1340.1L1557,1342.7L1558,1341.8L1559,1340.6L1560,1340.4L1561,1344.1L1562,1341.2L1563,1341.8L1564,1342.4L1565,1346.1L1566,1344.6L1567,1343.8L1568,1340.9L1569,1338.4L1570,1345.8L1571,1345.9L1572,1342.6L1573,1344.8L1574,1345.6L1575,1345.9L1576,1346.2L1577,1342.1L1578,1348.3L1579,1339.8L1580,1346.4L1581,1345.4L1582,1346.7L1583,1349.9L1584,1348.8L1585,1340.7L1586,1339.1L1587,1347.0L1588,1341.4L1589,1344.6L1590,1347.4L1591,1339.8L1592,1338.4L1593,1345.9L1594,1345.3L1595,1344.5L1596,1345.5L1597,1342.8L1598,1340.9L1599,1345.2L1600,1342.8L1601,1340.8L1602,1347.6L1603,1345.9L1604,1347.5L1605,1343.3L1606,1344.4L1607,1343.5L1608,1344.0L1609,1347.5L1610,1344.6L1611,1348.2L1612,1348.3L1613,1353.7L1614,1343.3L1615,1350.4L1616,1347.6L1617,1348.0L1618,1343.7L1619,1346.9L1620,1350.8L1621,1348.4L1622,1349.1L1623,1348.1L1624,1352.7L1625,1349.2L1626,1342.7L1627,1347.5L1628,1343.7L1629,1340.0L1630,1348.5L1631,1354.4L1632,1350.6L1633,1347.0L1634,1347.9L1635,1354.4L1636,1351.5L1637,1351.4L1638,1351.2L1639,1351.6L1640,1354.1L1641,1353.5L1642,1352.6L1643,1348.9L1644,1353.8L1645,1350.3L1646,1355.9L1647,1348.8L1648,1352.4L1649,1353.0L1650,1349.1L1651,1358.5L1652,1357.9L1653,1352.2L1654,1356.1L1655,1355.1L1656,1346.1L1657,1355.0L1658,1354.2L1659,1354.8L1660,1351.4L1661,1354.0L1662,1354.4L1663,1358.7L1664,1356.3L1665,1355.4L1666,1360.2L1667,1354.1L1668,1354.7L1669,1350.5L1670,1360.9L1671,1359.3L1672,1359.3L1673,1358.7L1674,1357.1L1675,1357.6L1676,1356.3L1677,1356.6L1678,1357.5L1679,1362.1L1680,1359.3L1681,1357.6L1682,1356.2L1683,1356.1L1684,1363.0L1685,1359.8L1686,1358.6L1687,1357.5L1688,1355.3L1689,1358.6L1690,1361.6L1691,1357.9L1692,1358.5L1693,1358.6L1694,1359.7L1695,1354.7L1696,1358.9L1697,1357.2L1698,1362.5L1699,1357.6L1700,1361.8L1701,1364.7L1702,1359.3L1703,1358.5L1704,1361.0L1705,1360.5L1706,1357.7L1707,1362.1L1708,1366.8L1709,1360.2L1710,1360.4L1711,1358.0L1712,1362.2L1713,1357.7L1714,1358.2L1715,1365.3L1716,1359.0L1717,1364.9L1718,1366.3L1719,1362.6L1720,1363.6L1721,1367.7L1722,1361.5L1723,1360.5L1724,1358.3L1725,1362.4L1726,1366.6L1727,1365.2L1728,1359.7L1729,1360.0L1730,1361.1L1731,1363.4L1732,1362.0L1733,1363.2L1734,1363.4L1735,1361.7L1736,1362.4L1737,1363.0L1738,1362.2L1739,1363.8L1740,1367.6L1741,1363.8L1742,1362.2L1743,1357.1L1744,1362.9L1745,1356.1L1746,1357.4L1747,1363.6L1748,1362.9L1749,1360.2L1750,1355.6L1751,1359.0L1752,1357.8L1753,1361.0L1754,1365.1L1755,1358.9L1756,1355.6L1757,1354.0L1758,1356.4L1759,1355.3L1760,1351.8L1761,1354.4L1762,1349.8L1763,1354.8L1764,1353.2L1765,1351.6L1766,1345.2L1767,1345.4L1768,1340.4L1769,1335.6L1770,1330.5L1771,1321.2L1772,1312.3L1773,1307.7L1774,1291.9L1775,1277.1L1776,1260.4L1777,1231.6L1778,1210.5L1779,1188.1L1780,1163.9L1781,1139.8L1782,1127.0L1783,1116.8L1784,1115.0L1785,1127.5L1786,1151.2L1787,1173.8L1788,1192.6L1789,1225.8L1790,1246.7L1791,1269.0L1792,1282.1L1793,1297.1L1794,1307.0L1795,1326.4L1796,1327.0L1797,1337.6L1798,1336.5L1799,1342.4L1800,1340.5L1801,1346.2L1802,1351.7L1803,1347.4L1804,1354.8L1805,1354.0L1806,1351.5L1807,1353.7L1808,1354.6L1809,1356.4L1810,1355.7L1811,1355.5L1812,1357.4L1813,1356.0L1814,1355.7L1815,1359.2L1816,1361.9L1817,1356.1L1818,1360.2L1819,1358.8L1820,1358.2L1821,1363.1L1822,1359.8L1823,1365.0L1824,1359.5L1825,1362.5L1826,1361.1L1827,1359.9L1828,1363.3L1829,1361.6L1830,1363.5L1831,1362.0L1832,1359.5L1833,1361.9L1834,1362.3L1835,1364.6L1836,1360.0L1837,1362.1L1838,1358.0L1839,1363.8L1840,1359.5L1841,1357.7L1842,1361.9L1843,1364.6L1844,1358.1L1845,1359.0L1846,1359.7L1847,1358.6L1848,1362.0L1849,1358.8L1850,1358.7L1851,1361.4L1852,1357.6L1853,1359.8L1854,1355.6L1855,1353.9L1856,1351.0L1857,1358.0L1858,1350.6L1859,1349.2L1860,1345.3L1861,1341.9L1862,1337.2L1863,1336.6L1864,1324.2L1865,1317.3L1866,1312.8L1867,1306.6L1868,1306.7L1869,1303.4L1870,1297.4L1871,1296.5L1872,1301.0L1873,1308.8L1874,1304.1L1875,1317.5L1876,1319.8L1877,1330.6L1878,1331.4L1879,1338.5L1880,1340.3L1881,1345.6L1882,1354.5L1883,1356.1L1884,1355.8L1885,1356.7L1886,1356.0L1887,1360.7L1888,1362.6L1889,1363.3L1890,1364.0L1891,1362.2L1892,1365.1L1893,1365.6L1894,1368.9L1895,1370.5L1896,1366.3L1897,1365.2L1898,1367.0L1899,1366.0L1900,1365.9L1901,1367.5L1902,1365.5L1903,1369.3L1904,1367.9L1905,1368.8L1906,1367.9L1907,1366.9L1908,1366.5L1909,1368.1L1910,1367.6L1911,1369.4L1912,1368.9L1913,1366.0L1914,1369.3L1915,1366.2L1916,1367.9L1917,1368.7L1918,1364.9L1919,1369.7L1920,1369.9L1921,1369.3L1922,1368.7L1923,1368.9L1924,1367.7L1925,1369.3L1926,1368.7L1927,1370.1L1928,1367.4L1929,1370.6L1930,1370.4L1931,1369.8L1932,1369.2L1933,1371.4L1934,1366.7L1935,1371.3L1936,1370.9L1937,1371.0L1938,1371.3L1939,1369.1L1940,1370.0L1941,1372.0L1942,1371.5L1943,1371.1L1944,1367.4L1945,1371.9L1946,1373.3L1947,1373.0L1948,1371.3L1949,1367.5L1950,1372.9L1951,1370.6L1952,1365.5L1953,1371.8L1954,1367.8L1955,1368.2L1956,1369.7L1957,1373.8L1958,1370.3L1959,1371.7L1960,1374.9L1961,1374.6L1962,1371.0L1963,1370.7L1964,1368.5L1965,1369.8L1966,1372.2L1967,1372.2L1968,1371.6L1969,1373.5L1970,1369.7L1971,1371.3L1972,1373.0L1973,1372.7L1974,1373.8L1975,1372.3L1976,1370.8L1977,1372.3L1978,1369.4L1979,1368.0L1980,1372.8L1981,1371.4L1982,1372.2L1983,1368.0L1984,1370.8L1985,1370.3L1986,1369.8L1987,1366.8L1988,1370.9L1989,1373.6L1990,1372.5L1991,1370.4L1992,1371.6L1993,1373.3L1994,1365.8L1995,1371.4L1996,1372.9L1997,1373.2L1998,1375.3L1999,1374.1L2000,1372.4L2001,1372.4L2002,1373.4L2003,1370.6L2004,1371.6L2005,1373.6L2006,1375.9L2007,1371.4L2008,1371.6L2009,1372.1L2010,1374.6L2011,1371.7L2012,1374.8L2013,1369.7L2014,1371.3L2015,1371.3L2016,1373.4L2017,1373.9L2018,1368.5L2019,1369.8L2020,1372.4L2021,1370.3L2022,1368.5L2023,1373.9L2024,1372.7L2025,1372.7L2026,1370.7L2027,1373.8L2028,1371.1L2029,1373.9L2030,1369.7L2031,1369.8L2032,1372.0L2033,1370.1L2034,1373.0L2035,1372.1L2036,1369.6L2037,1371.7L2038,1370.8L2039,1373.5L2040,1370.2L2041,1370.6L2042,1374.1L2043,1376.2L2044,1375.7L2045,1371.6L2046,1371.9L2047,1374.7L2048,1371.2L2049,1369.4L2050,1371.7L2051,1372.4L2052,1369.7L2053,1368.0L2054,1368.4L2055,1372.8L2056,1369.8L2057,1371.1L2058,1371.8L2059,1372.6L2060,1370.6L2061,1372.3L2062,1369.4L2063,1370.5L2064,1369.1L2065,1373.6L2066,1371.2L2067,1369.7L2068,1370.5L2069,1370.7L2070,1372.6L2071,1367.9L2072,1369.0L2073,1370.4L2074,1376.4L2075,1373.1L2076,1370.9L2077,1372.6L2078,1375.3L2079,1370.6L2080,1370.3L2081,1373.5L2082,1372.0L2083,1372.4L2084,1369.9L2085,1375.0L2086,1374.5L2087,1372.1L2088,1372.4L2089,1366.7L2090,1372.2L2091,1370.5L2092,1371.8L2093,1372.3L2094,1370.1L2095,1367.3L2096,1371.6L2097,1369.3L2098,1370.1L2099,1369.5L2100,1370.0L2101,1366.0L2102,1373.2L2103,1371.2L2104,1373.0L2105,1374.7L2106,1370.7L2107,1366.9L2108,1368.8L2109,1368.1L2110,1369.5L2111,1370.7L2112,1366.4L2113,1371.2L2114,1367.4L2115,1371.0L2116,1370.2L2117,1369.7L2118,1370.2L2119,1369.2L2120,1369.0L2121,1366.8L2122,1370.1L2123,1373.9L2124,1374.1L2125,1372.7L2126,1371.4L2127,1368.6L2128,1372.8L2129,1369.7L2130,1369.6L2131,1369.0L2132,1369.7L2133,1368.6L2134,1369.1L2135,1367.0L2136,1368.3L2137,1373.4L2138,1368.4L2139,1367.8L2140,1369.0L2141,1368.9L2142,1364.6L2143,1365.7L2144,1367.1L2145,1364.6L2146,1362.9L2147,1364.1L2148,1357.6L2149,1356.9L2150,1353.1L2151,1354.3L2152,1344.3L2153,1343.9L2154,1341.2L2155,1341.0L2156,1338.8L2157,1339.2L2158,1333.1L2159,1338.6L2160,1338.2L2161,1339.9L2162,1345.2L2163,1345.4L2164,1346.1L2165,1352.5L2166,1353.0L2167,1357.1L2168,1361.3L2169,1363.0L2170,1367.1L2171,1364.8L2172,1363.2L2173,1365.6L2174,1365.9L2175,1365.8L2176,1369.6L2177,1367.8L2178,1365.4L2179,1371.0L2180,1369.5L2181,1370.7L2182,1370.3L2183,1371.5L2184,1370.4L2185,1372.9L2186,1371.4L2187,1371.4L2188,1371.5L2189,1367.9L2190,1370.6L2191,1370.4L2192,1371.4L2193,1368.4L2194,1374.4L2195,1371.4L2196,1368.8L2197,1367.9L2198,1370.8L2199,1371.2L2200,1370.0L2201,1371.6L2202,1370.2L2203,1372.6L2204,1370.1L2205,1371.5L2206,1373.6L2207,1376.8L2208,1369.7L2209,1370.8L2210,1370.1L2211,1373.3L2212,1369.5L2213,1370.9L2214,1371.8L2215,1370.0L2216,1370.0L2217,1371.0L2218,1367.8L2219,1369.1L2220,1371.2L2221,1372.3L2222,1371.7L2223,1368.6L2224,1371.2L2225,1373.7L2226,1373.2L2227,1372.0L2228,1370.5L2229,1373.5L2230,1371.1L2231,1370.0L2232,1370.7L2233,1375.1L2234,1372.8L2235,1374.6L2236,1371.4L2237,1374.2L2238,1371.2L2239,1372.1L2240,1377.3L2241,1374.0L2242,1371.5L2243,1372.3L2244,1373.2L2245,1374.9L2246,1371.6L2247,1369.2L2248,1372.1L2249,1372.7L2250,1372.9L2251,1375.2L2252,1373.3L2253,1374.3L2254,1370.6L2255,1374.4L2256,1376.8L2257,1374.3L2258,1373.3L2259,1373.1L2260,1376.3L2261,1371.1L2262,1372.7L2263,1373.8L2264,1374.4L2265,1372.1L2266,1373.6L2267,1372.4L2268,1373.2L2269,1372.8L2270,1370.8L2271,1373.0L2272,1374.8L2273,1371.2L2274,1372.6L2275,1374.4L2276,1371.1L2277,1373.5L2278,1371.1L2279,1375.4L2280,1377.7L2281,1377.1L2282,1372.8L2283,1374.7L2284,1373.5L2285,1373.5L2286,1376.3L2287,1370.8L2288,1375.4L2289,1373.3L2290,1376.1L2291,1373.8L2292,1372.2L2293,1374.0L2294,1374.9L2295,1373.6L2296,1374.5L2297,1372.5L2298,1369.5L2299,1375.3L2300,1374.9L2301,1373.9L2302,1373.8L2303,1375.6L2304,1372.8L2305,1372.3L2306,1373.4L2307,1376.0L2308,1371.1L2309,1376.0L2310,1372.6L2311,1371.7L2312,1376.2L2313,1373.7L2314,1371.4L2315,1373.2L2316,1375.7L2317,1376.2" fill="none" stroke="#fa6e6e" stroke-width="5.4" stroke-linejoin="round" stroke-linecap="butt" />
<path d="M1379,1505.2L1380,1507.7L1381,1508.6L1382,1504.6L1383,1507.5L1384,1506.4L1385,1504.9L1386,1505.0L1387,1506.7L1388,1506.5L1389,1504.7L1390,1505.2L1391,1509.8L1392,1507.1L1393,1509.1L1394,1510.0L1395,1508.1L1396,1513.2L1397,1503.9L1398,1508.8L1399,1505.4L1400,1511.9L1401,1511.4L1402,1500.4L1403,1503.4L1404,1508.2L1405,1508.6L1406,1508.4L1407,1506.0L1408,1507.6L1409,1508.1L1410,1505.9L1411,1509.2L1412,1499.4L1413,1508.0L1414,1503.0L1415,1508.9L1416,1505.4L1417,1503.4L1418,1507.1L1419,1503.3L1420,1503.3L1421,1501.3L1422,1505.9L1423,1507.4L1424,1508.9L1425,1505.4L1426,1509.0L1427,1505.9L1428,1505.5L1429,1507.5L1430,1508.9L1431,1504.7L1432,1505.0L1433,1505.2L1434,1505.9L1435,1503.0L1436,1508.7L1437,1504.4L1438,1506.9L1439,1503.1L1440,1506.6L1441,1506.7L1442,1504.2L1443,1511.4L1444,1506.5L1445,1510.7L1446,1508.2L1447,1503.4L1448,1504.2L1449,1506.6L1450,1505.4L1451,1505.4L1452,1504.4L1453,1499.8L1454,1504.5L1455,1498.6L1456,1506.2L1457,1502.9L1458,1502.9L1459,1504.4L1460,1505.8L1461,1500.7L1462,1499.8L1463,1501.8L1464,1498.8L1465,1502.0L1466,1509.5L1467,1501.6L1468,1506.6L1469,1500.6L1470,1505.5L1471,1503.6L1472,1504.4L1473,1506.2L1474,1509.6L1475,1505.0L1476,1504.7L1477,1501.4L1478,1505.9L1479,1503.4L1480,1506.6L1481,1503.9L1482,1509.1L1483,1498.1L1484,1503.0L1485,1506.4L1486,1502.7L1487,1501.3L1488,1502.8L1489,1499.5L1490,1503.8L1491,1510.6L1492,1506.7L1493,1500.0L1494,1500.6L1495,1501.9L1496,1506.0L1497,1500.5L1498,1500.9L1499,1505.4L1500,1505.3L1501,1501.6L1502,1499.3L1503,1498.0L1504,1500.4L1505,1495.8L1506,1504.5L1507,1500.4L1508,1503.6L1509,1507.6L1510,1505.5L1511,1498.6L1512,1504.4L1513,1505.2L1514,1499.5L1515,1498.9L1516,1501.3L1517,1496.8L1518,1505.8L1519,1494.3L1520,1498.1L1521,1500.5L1522,1500.5L1523,1501.6L1524,1501.9L1525,1500.4L1526,1504.3L1527,1494.6L1528,1500.8L1529,1498.7L1530,1501.1L1531,1501.3L1532,1497.9L1533,1498.7L1534,1502.8L1535,1501.5L1536,1498.4L1537,1506.3L1538,1507.1L1539,1496.0L1540,1501.1L1541,1507.5L1542,1502.4L1543,1500.7L1544,1499.5L1545,1498.4L1546,1499.4L1547,1498.4L1548,1502.1L1549,1498.8L1550,1498.6L1551,1496.4L1552,1499.7L1553,1497.2L1554,1499.3L1555,1502.9L1556,1500.9L1557,1501.3L1558,1500.8L1559,1500.0L1560,1499.4L1561,1498.9L1562,1502.0L1563,1496.6L1564,1503.7L1565,1499.9L1566,1497.6L1567,1498.4L1568,1497.8L1569,1500.3L1570,1497.7L1571,1503.1L1572,1497.5L1573,1493.2L1574,1497.7L1575,1494.0L1576,1499.7L1577,1502.9L1578,1501.7L1579,1495.9L1580,1497.6L1581,1505.0L1582,1500.7L1583,1499.8L1584,1502.9L1585,1506.9L1586,1503.6L1587,1500.2L1588,1500.8L1589,1501.6L1590,1498.0L1591,1496.8L1592,1500.0L1593,1497.1L1594,1499.6L1595,1500.1L1596,1506.6L1597,1497.4L1598,1499.5L1599,1499.4L1600,1501.1L1601,1502.9L1602,1498.4L1603,1497.5L1604,1495.1L1605,1497.2L1606,1501.4L1607,1500.0L1608,1496.9L1609,1498.8L1610,1500.0L1611,1501.3L1612,1498.2L1613,1499.2L1614,1494.6L1615,1496.6L1616,1504.6L1617,1493.6L1618,1498.9L1619,1500.5L1620,1498.8L1621,1497.6L1622,1499.7L1623,1499.9L1624,1499.7L1625,1494.5L1626,1499.5L1627,1497.5L1628,1498.4L1629,1500.6L1630,1501.8L1631,1502.5L1632,1498.5L1633,1502.6L1634,1503.3L1635,1503.2L1636,1504.0L1637,1499.5L1638,1499.5L1639,1502.4L1640,1496.1L1641,1500.6L1642,1498.5L1643,1499.0L1644,1495.0L1645,1497.5L1646,1500.1L1647,1502.7L1648,1503.1L1649,1500.0L1650,1499.8L1651,1498.0L1652,1501.6L1653,1499.8L1654,1502.3L1655,1505.7L1656,1500.7L1657,1496.5L1658,1498.5L1659,1496.8L1660,1497.7L1661,1505.0L1662,1502.0L1663,1497.1L1664,1503.4L1665,1505.3L1666,1500.7L1667,1499.9L1668,1501.0L1669,1502.9L1670,1504.1L1671,1505.8L1672,1506.0L1673,1506.0L1674,1506.6L1675,1504.8L1676,1498.6L1677,1502.8L1678,1504.2L1679,1502.3L1680,1506.1L1681,1502.6L1682,1501.1L1683,1508.0L1684,1506.0L1685,1504.8L1686,1507.0L1687,1507.5L1688,1505.5L1689,1497.7L1690,1502.9L1691,1503.6L1692,1502.3L1693,1505.7L1694,1508.7L1695,1504.0L1696,1502.3L1697,1511.4L1698,1504.5L1699,1502.3L1700,1506.6L1701,1507.3L1702,1504.2L1703,1508.5L1704,1505.0L1705,1503.8L1706,1507.1L1707,1508.9L1708,1505.0L1709,1507.9L1710,1506.8L1711,1515.2L1712,1505.2L1713,1511.3L1714,1507.3L1715,1507.2L1716,1509.8L1717,1510.4L1718,1511.5L1719,1509.0L1720,1506.5L1721,1506.7L1722,1509.8L1723,1510.1L1724,1512.6L1725,1509.9L1726,1511.8L1727,1513.2L1728,1509.5L1729,1504.9L1730,1505.9L1731,1505.3L1732,1514.0L1733,1507.2L1734,1513.1L1735,1511.4L1736,1514.7L1737,1512.8L1738,1509.7L1739,1509.5L1740,1510.4L1741,1510.8L1742,1508.9L1743,1510.3L1744,1515.1L1745,1505.8L1746,1511.4L1747,1508.1L1748,1511.3L1749,1513.2L1750,1510.7L1751,1513.1L1752,1506.4L1753,1514.1L1754,1509.3L1755,1512.7L1756,1511.5L1757,1503.6L1758,1508.8L1759,1511.4L1760,1515.1L1761,1511.4L1762,1511.1L1763,1506.2L1764,1513.9L1765,1514.7L1766,1509.3L1767,1508.1L1768,1503.7L1769,1510.2L1770,1514.7L1771,1508.5L1772,1509.4L1773,1506.7L1774,1501.7L1775,1507.6L1776,1499.7L1777,1502.0L1778,1502.8L1779,1504.1L1780,1502.5L1781,1502.3L1782,1499.0L1783,1497.7L1784,1501.8L1785,1500.0L1786,1498.9L1787,1499.6L1788,1502.5L1789,1499.4L1790,1501.7L1791,1501.7L1792,1507.6L1793,1509.0L1794,1514.2L1795,1505.1L1796,1508.1L1797,1513.1L1798,1510.5L1799,1510.7L1800,1516.9L1801,1511.5L1802,1509.6L1803,1509.4L1804,1514.3L1805,1514.4L1806,1510.0L1807,1511.2L1808,1515.5L1809,1515.8L1810,1512.6L1811,1516.1L1812,1516.1L1813,1509.8L1814,1513.8L1815,1515.9L1816,1513.3L1817,1509.2L1818,1514.2L1819,1517.0L1820,1519.2L1821,1509.3L1822,1522.0L1823,1512.3L1824,1517.8L1825,1518.5L1826,1517.9L1827,1515.8L1828,1512.5L1829,1517.1L1830,1513.7L1831,1509.1L1832,1522.8L1833,1517.5L1834,1520.3L1835,1513.4L1836,1519.4L1837,1519.7L1838,1519.6L1839,1515.7L1840,1512.8L1841,1515.3L1842,1510.3L1843,1511.5L1844,1515.8L1845,1513.1L1846,1515.0L1847,1515.1L1848,1519.9L1849,1518.2L1850,1514.8L1851,1517.6L1852,1512.7L1853,1513.5L1854,1516.2L1855,1510.9L1856,1513.0L1857,1510.3L1858,1513.4L1859,1516.7L1860,1511.0L1861,1513.1L1862,1510.3L1863,1509.6L1864,1509.3L1865,1515.5L1866,1517.5L1867,1513.3L1868,1510.7L1869,1514.0L1870,1511.9L1871,1514.7L1872,1513.8L1873,1514.0L1874,1515.0L1875,1512.7L1876,1513.4L1877,1510.8L1878,1513.9L1879,1512.1L1880,1515.1L1881,1513.6L1882,1516.2L1883,1517.1L1884,1513.4L1885,1514.8L1886,1514.8L1887,1518.5L1888,1520.6L1889,1518.9L1890,1516.5L1891,1520.4L1892,1514.3L1893,1520.6L1894,1516.2L1895,1512.0L1896,1523.1L1897,1520.9L1898,1515.7L1899,1518.1L1900,1517.4L1901,1518.1L1902,1514.9L1903,1516.6L1904,1518.9L1905,1518.4L1906,1520.4L1907,1518.2L1908,1522.7L1909,1516.6L1910,1518.6L1911,1514.3L1912,1515.6L1913,1520.8L1914,1516.3L1915,1519.2L1916,1518.0L1917,1516.1L1918,1517.5L1919,1517.2L1920,1517.3L1921,1519.8L1922,1519.6L1923,1517.1L1924,1516.5L1925,1518.9L1926,1518.1L1927,1520.4L1928,1523.6L1929,1520.1L1930,1518.3L1931,1518.1L1932,1516.7L1933,1516.6L1934,1516.5L1935,1517.7L1936,1517.6L1937,1520.0L1938,1517.7L1939,1518.1L1940,1516.1L1941,1521.8L1942,1519.6L1943,1522.1L1944,1520.2L1945,1521.5L1946,1518.1L1947,1520.0L1948,1524.0L1949,1516.2L1950,1521.0L1951,1522.0L1952,1519.5L1953,1520.2L1954,1521.2L1955,1517.4L1956,1519.5L1957,1517.0L1958,1517.4L1959,1517.5L1960,1518.5L1961,1519.1L1962,1519.7L1963,1516.0L1964,1522.8L1965,1521.1L1966,1520.3L1967,1518.1L1968,1518.7L1969,1519.9L1970,1519.7L1971,1515.5L1972,1520.4L1973,1524.7L1974,1515.2L1975,1520.9L1976,1519.6L1977,1518.7L1978,1521.7L1979,1516.6L1980,1519.3L1981,1521.8L1982,1518.5L1983,1518.1L1984,1519.2L1985,1518.1L1986,1522.0L1987,1517.2L1988,1520.7L1989,1516.5L1990,1520.3L1991,1518.8L1992,1513.8L1993,1519.0L1994,1516.9L1995,1518.1L1996,1522.0L1997,1516.8L1998,1516.9L1999,1521.8L2000,1519.2L2001,1522.0L2002,1519.6L2003,1517.2L2004,1518.9L2005,1521.4L2006,1520.8L2007,1519.0L2008,1519.1L2009,1518.8L2010,1517.8L2011,1522.8L2012,1519.0L2013,1516.7L2014,1518.0L2015,1520.4L2016,1520.2L2017,1518.7L2018,1517.6L2019,1519.0L2020,1515.6L2021,1516.4L2022,1520.5L2023,1518.0L2024,1519.7L2025,1521.3L2026,1520.2L2027,1518.9L2028,1523.1L2029,1520.2L2030,1518.2L2031,1520.3L2032,1519.7L2033,1517.2L2034,1519.0L2035,1518.5L2036,1515.0L2037,1518.5L2038,1518.3L2039,1518.0L2040,1515.6L2041,1518.1L2042,1518.7L2043,1519.0L2044,1516.6L2045,1520.0L2046,1516.4L2047,1518.3L2048,1521.3L2049,1517.4L2050,1517.7L2051,1520.8L2052,1518.0L2053,1518.1L2054,1519.1L2055,1520.7L2056,1514.4L2057,1517.1L2058,1516.7L2059,1516.5L2060,1517.0L2061,1517.0L2062,1519.2L2063,1516.9L2064,1518.8L2065,1519.4L2066,1517.2L2067,1518.8L2068,1521.7L2069,1519.2L2070,1517.3L2071,1518.4L2072,1516.8L2073,1519.0L2074,1520.2L2075,1516.9L2076,1518.1L2077,1520.6L2078,1517.5L2079,1518.8L2080,1516.5L2081,1516.9L2082,1517.4L2083,1522.5L2084,1517.6L2085,1517.4L2086,1517.3L2087,1518.1L2088,1519.6L2089,1518.7L2090,1522.2L2091,1518.7L2092,1521.0L2093,1518.8L2094,1519.4L2095,1515.6L2096,1518.1L2097,1518.2L2098,1517.8L2099,1514.3L2100,1519.9L2101,1517.5L2102,1517.4L2103,1517.8L2104,1517.8L2105,1519.0L2106,1515.8L2107,1516.5L2108,1518.7L2109,1518.4L2110,1517.5L2111,1517.1L2112,1516.6L2113,1518.0L2114,1520.3L2115,1516.2L2116,1520.9L2117,1519.7L2118,1517.3L2119,1519.5L2120,1515.4L2121,1514.9L2122,1515.7L2123,1517.3L2124,1517.5L2125,1517.1L2126,1518.2L2127,1514.1L2128,1519.0L2129,1515.4L2130,1516.8L2131,1517.3L2132,1515.9L2133,1515.5L2134,1516.2L2135,1518.0L2136,1519.1L2137,1519.0L2138,1516.2L2139,1516.6L2140,1516.3L2141,1518.8L2142,1514.3L2143,1520.3L2144,1517.1L2145,1516.6L2146,1518.6L2147,1519.9L2148,1518.6L2149,1519.9L2150,1518.2L2151,1520.2L2152,1520.3L2153,1517.8L2154,1520.6L2155,1518.3L2156,1518.2L2157,1516.3L2158,1517.5L2159,1519.4L2160,1515.6L2161,1519.2L2162,1518.7L2163,1518.5L2164,1514.0L2165,1517.8L2166,1519.2L2167,1516.7L2168,1518.2L2169,1513.8L2170,1519.3L2171,1516.9L2172,1519.6L2173,1514.8L2174,1519.3L2175,1517.7L2176,1519.6L2177,1516.4L2178,1517.0L2179,1522.2L2180,1516.6L2181,1516.9L2182,1517.7L2183,1516.3L2184,1520.3L2185,1521.3L2186,1516.9L2187,1515.1L2188,1520.3L2189,1520.2L2190,1519.7L2191,1520.3L2192,1516.7L2193,1518.0L2194,1515.8L2195,1515.8L2196,1520.1L2197,1517.1L2198,1522.4L2199,1518.5L2200,1517.2L2201,1519.8L2202,1521.6L2203,1519.3L2204,1516.3L2205,1519.1L2206,1520.9L2207,1517.6L2208,1517.1L2209,1520.3L2210,1518.8L2211,1516.6L2212,1517.9L2213,1517.2L2214,1519.1L2215,1518.8L2216,1520.7L2217,1519.9L2218,1515.9L2219,1519.4L2220,1520.3L2221,1519.5L2222,1520.6L2223,1517.8L2224,1517.1L2225,1520.4L2226,1516.9L2227,1515.0L2228,1520.7L2229,1517.6L2230,1518.4L2231,1516.5L2232,1516.6L2233,1516.9L2234,1518.4L2235,1519.7L2236,1515.0L2237,1520.4L2238,1517.0L2239,1517.2L2240,1520.3L2241,1519.0L2242,1516.5L2243,1522.4L2244,1517.7L2245,1519.7L2246,1519.6L2247,1521.8L2248,1518.5L2249,1521.1L2250,1518.1L2251,1521.3L2252,1518.1L2253,1518.8L2254,1522.8L2255,1520.0L2256,1519.7L2257,1523.5L2258,1520.2L2259,1518.2L2260,1520.9L2261,1517.6L2262,1521.6L2263,1521.8L2264,1518.7L2265,1518.7L2266,1520.1L2267,1519.8L2268,1518.1L2269,1520.9L2270,1516.4L2271,1519.2L2272,1519.3L2273,1519.5L2274,1520.5L2275,1517.9L2276,1521.1L2277,1519.8L2278,1519.0L2279,1517.8L2280,1518.2L2281,1520.8L2282,1518.6L2283,1520.4L2284,1522.1L2285,1522.1L2286,1523.1L2287,1519.9L2288,1518.6L2289,1522.2L2290,1521.0L2291,1522.5L2292,1520.6L2293,1522.7L2294,1522.1L2295,1521.9L2296,1521.6L2297,1521.4L2298,1521.2L2299,1521.2L2300,1522.5L2301,1520.0L2302,1523.9L2303,1520.7L2304,1522.6L2305,1520.8L2306,1520.6L2307,1524.5L2308,1520.6L2309,1518.9L2310,1519.9L2311,1520.7L2312,1524.9L2313,1521.6L2314,1522.9L2315,1519.6L2316,1522.0L2317,1522.5" fill="none" stroke="#f4a560" stroke-width="5.4" stroke-linejoin="round" stroke-linecap="butt" />
<line x1="1565.62" y1="1663.00" x2="1565.62" y2="1609.80" stroke="#000" stroke-width="4" />
<line x1="1700.99" y1="1663.00" x2="1700.99" y2="1625.20" stroke="#000" stroke-width="4" />
<line x1="1808.70" y1="1663.00" x2="1808.70" y2="1631.80" stroke="#000" stroke-width="4" />
<line x1="1902.31" y1="1663.00" x2="1902.31" y2="1635.30" stroke="#000" stroke-width="4" />
<line x1="1985.44" y1="1663.00" x2="1985.44" y2="1638.40" stroke="#000" stroke-width="4" />
<line x1="2063.60" y1="1663.00" x2="2063.60" y2="1640.50" stroke="#000" stroke-width="4" />
<line x1="1777.54" y1="1663.00" x2="1777.54" y2="1615.00" stroke="#ff0000" stroke-width="4.6" />
<line x1="1864.57" y1="1663.00" x2="1864.57" y2="1636.20" stroke="#ff0000" stroke-width="4.6" />
<line x1="2148.88" y1="1663.00" x2="2148.88" y2="1646.30" stroke="#ff0000" stroke-width="4.6" />
<rect x="1378" y="973.5" width="940" height="692.0" fill="none" stroke="#000" stroke-width="5.6" stroke-linejoin="miter"/>
<line x1="1378.00" y1="1665.00" x2="1378.00" y2="1679.60" stroke="#000" stroke-width="5.6" />
<line x1="1512.30" y1="1665.00" x2="1512.30" y2="1679.60" stroke="#000" stroke-width="5.6" />
<line x1="1646.60" y1="1665.00" x2="1646.60" y2="1679.60" stroke="#000" stroke-width="5.6" />
<line x1="1780.90" y1="1665.00" x2="1780.90" y2="1679.60" stroke="#000" stroke-width="5.6" />
<line x1="1915.20" y1="1665.00" x2="1915.20" y2="1679.60" stroke="#000" stroke-width="5.6" />
<line x1="2049.50" y1="1665.00" x2="2049.50" y2="1679.60" stroke="#000" stroke-width="5.6" />
<line x1="2183.80" y1="1665.00" x2="2183.80" y2="1679.60" stroke="#000" stroke-width="5.6" />
<line x1="2318.10" y1="1665.00" x2="2318.10" y2="1679.60" stroke="#000" stroke-width="5.6" />
<line x1="1445.15" y1="1665.00" x2="1445.15" y2="1671.50" stroke="#000" stroke-width="5.6" />
<line x1="1579.45" y1="1665.00" x2="1579.45" y2="1671.50" stroke="#000" stroke-width="5.6" />
<line x1="1713.75" y1="1665.00" x2="1713.75" y2="1671.50" stroke="#000" stroke-width="5.6" />
<line x1="1848.05" y1="1665.00" x2="1848.05" y2="1671.50" stroke="#000" stroke-width="5.6" />
<line x1="1982.35" y1="1665.00" x2="1982.35" y2="1671.50" stroke="#000" stroke-width="5.6" />
<line x1="2116.65" y1="1665.00" x2="2116.65" y2="1671.50" stroke="#000" stroke-width="5.6" />
<line x1="2250.95" y1="1665.00" x2="2250.95" y2="1671.50" stroke="#000" stroke-width="5.6" />
<text x="1345.51" y="1735.00" font-size="62.37" font-weight="bold" fill="#000">10</text>
<text x="1480.43" y="1735.00" font-size="63.48" font-weight="bold" fill="#000">20</text>
<text x="1615.02" y="1735.00" font-size="63.18" font-weight="bold" fill="#000">30</text>
<text x="1750.86" y="1735.00" font-size="61.59" font-weight="bold" fill="#000">40</text>
<text x="1883.46" y="1735.00" font-size="63.35" font-weight="bold" fill="#000">50</text>
<text x="2018.15" y="1735.00" font-size="62.95" font-weight="bold" fill="#000">60</text>
<text x="2150.91" y="1735.00" font-size="64.55" font-weight="bold" fill="#000">70</text>
<text x="2286.81" y="1735.00" font-size="62.88" font-weight="bold" fill="#000">80</text>
<text x="1559.04" y="1813.00" font-size="82.40" font-weight="bold" fill="#000">2 Theta (degree)</text>
<text transform="translate(1327.40,1573.56) rotate(-90)" font-size="82.02" font-weight="bold" fill="#000">Intensity (a.u.)</text>
<text x="1179.06" y="996.40" font-size="87.28" font-weight="normal" fill="#000">(d)</text>
<line x1="1986.5" y1="1011" x2="2049.2" y2="1011" stroke="#ff0000" stroke-width="5.6"/>
<line x1="1986.5" y1="1078.3" x2="2049.2" y2="1078.3" stroke="#000" stroke-width="5.6"/>
<text x="2059.34" y="1027.00" font-size="44.50" font-weight="bold" fill="#000">PDF of PdPt</text>
<text x="2059.35" y="1090.90" font-size="43.94" font-weight="bold" fill="#000">PDF of WO</text>
<text x="2280.52" y="1101.00" font-size="36.66" font-weight="bold" fill="#000">3</text>
<text transform="translate(1801.00,1111.36) rotate(-90)" font-size="49.08" font-weight="bold" fill="#000">(111)</text>
<text transform="translate(1889.20,1295.23) rotate(-90)" font-size="48.36" font-weight="bold" fill="#000">(200)</text>
<text transform="translate(2177.50,1333.15) rotate(-90)" font-size="48.84" font-weight="bold" fill="#000">(220)</text>
<text x="2177.39" y="1424.70" font-size="47.62" font-weight="bold" fill="#000">PdPt</text>
<text x="2177.52" y="1571.90" font-size="47.82" font-weight="bold" fill="#000">WO</text>
<text x="2261.71" y="1583.60" font-size="31.53" font-weight="bold" fill="#000">3</text>
</svg></body></html>
